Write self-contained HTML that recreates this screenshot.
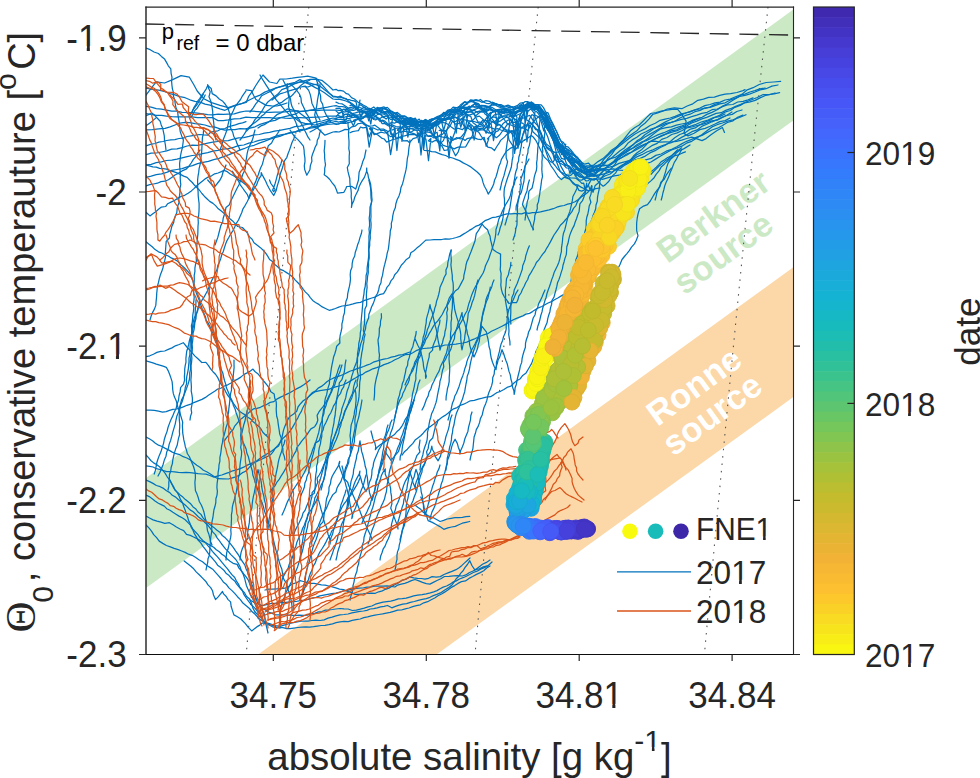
<!DOCTYPE html><html><head><meta charset="utf-8"><style>html,body{margin:0;padding:0;background:#fff;width:980px;height:778px;overflow:hidden}svg{display:block}text{font-family:"Liberation Sans",sans-serif}</style></head><body>
<svg width="980" height="778" viewBox="0 0 980 778">
<defs><clipPath id="ax"><rect x="146.0" y="7.0" width="647.3" height="647.5"/></clipPath></defs>
<rect width="980" height="778" fill="#fff"/>
<g clip-path="url(#ax)">
<polygon points="146,478 793.3,9.5 793.3,120.5 146,588" fill="#cce9c6"/>
<polygon points="258,654.5 793.3,267.3 793.3,397.1 436.5,654.5" fill="#fcd8a8"/>
</g>
<g font-weight="bold" font-size="34.5" text-anchor="middle">
<text transform="translate(716,228) rotate(-36)" fill="#cce9c6"><tspan x="4.8" y="0.5">Berkner</tspan><tspan x="-8.9" y="36.2">source</tspan></text>
<text transform="translate(707,392) rotate(-36)" fill="#fff"><tspan x="-7" y="-0.8">Ronne</tspan><tspan x="-9" y="32.7">source</tspan></text>
</g>
<g fill="none" stroke="#555" stroke-width="1.1" stroke-dasharray="1.5 5.9" clip-path="url(#ax)">
<path d="M308.8,7.0 Q275.0,330.8 246.2,654.5"/>
<path d="M538.2,7.0 Q504.1,330.8 475.0,654.5"/>
<path d="M768.0,7.0 Q733.7,330.8 704.4,654.5"/>
</g>
<path d="M145.5,24 L793.3,35.1" stroke="#262626" stroke-width="1.3" stroke-dasharray="19 10.7" fill="none"/>
<g clip-path="url(#ax)" fill="none" stroke-width="1.25" stroke-linejoin="round" stroke-linecap="round">
<path stroke="#0072bd" d="M146.0,95.0L150.9,88.6L156.2,81.8L164.6,83.0L172.7,79.6L181.0,75.6L189.4,77.2L193.7,84.5L197.2,91.0L200.6,95.0L203.8,98.7L211.6,102.6L220.1,105.4L228.3,107.6L236.4,104.9L246.2,102.5L248.7,96.3L252.5,91.1L255.8,85.5L259.3,80.1L263.0,75.0L269.5,82.0L276.9,83.5L279.8,79.2L286.2,79.0L292.3,78.2L297.4,77.4L302.5,76.8L307.7,76.1L316.1,78.2L320.1,82.5L326.3,89.7L329.6,93.6L333.4,97.0L336.0,96.8L338.2,97.8L341.5,97.5L343.5,98.2L346.6,99.4L349.3,99.7L351.2,100.3L354.2,100.9L356.1,102.0L357.8,110.7L360.0,100.1L358.9,105.2L360.9,104.8L362.9,106.5L365.8,108.1L369.5,108.3L371.6,109.7L374.0,110.1L377.3,107.4L381.4,109.0L384.5,108.0L387.3,107.4L391.4,111.5L393.3,113.0L397.2,113.8L399.7,117.8L401.8,118.5L403.9,119.5L406.5,119.2L410.2,118.4L412.5,119.6L415.7,121.5L419.0,121.1L421.7,123.0L424.8,121.4L426.7,121.7L428.7,122.3L431.0,124.9L434.4,122.5L437.2,122.5L439.8,121.1L443.0,120.3L445.9,118.2L448.4,118.2L452.1,116.4L455.6,112.7L458.0,111.6L461.2,105.7L464.2,102.5L468.1,102.3L471.7,101.2L474.2,100.4L478.3,100.8L480.4,99.4L483.2,102.0L486.8,103.5L489.0,103.7L492.0,102.2L493.9,102.8L497.3,104.5L500.9,104.6L504.1,106.4L508.0,105.1L510.5,106.6L514.0,106.8L517.2,105.7L520.4,103.0L523.3,102.7L525.1,123.0L527.6,103.6L527.1,102.7L531.2,102.3L534.1,104.4L537.5,105.2L539.5,105.8L542.9,110.9L546.3,115.9L550.5,123.3L554.3,131.8L556.7,137.9L559.5,143.3L562.9,148.9L564.7,150.5L567.6,150.9L569.8,154.5L571.9,153.2L573.9,155.4L577.5,157.4L579.6,160.3L582.0,162.5L584.7,164.2L588.6,163.1L590.6,165.5L593.5,165.2L598.0,161.6L602.9,158.6L607.2,154.8L611.1,150.5L615.9,147.2L620.4,143.7L624.3,140.2L628.3,136.8L632.5,133.7L636.9,130.8L640.3,126.8L644.9,123.3L648.9,119.1L652.6,114.5L657.7,112.8L662.6,111.2L667.3,109.0L674.4,107.9L681.8,108.7L687.2,106.0L692.8,103.8L697.8,100.3L703.4,99.1L708.7,97.4L714.4,97.1L719.7,95.4L725.1,94.2L730.6,93.6L736.9,92.5L743.0,90.6L745.0,89.6"/>
<path stroke="#0072bd" d="M146.0,106.3L151.2,107.1L156.2,108.7L161.5,109.1L166.6,110.1L171.7,111.2L176.9,111.2L182.0,112.4L187.2,112.5L192.4,112.7L197.5,113.2L202.6,113.9L207.7,114.7L212.8,114.9L218.0,114.1L223.2,114.4L228.3,114.2L234.3,113.9L240.0,112.1L246.0,111.0L252.0,111.1L258.0,111.6L264.0,112.2L270.0,112.4L275.0,112.1L280.0,112.2L285.0,111.9L290.0,111.2L295.0,110.9L300.0,111.4L305.5,111.1L311.0,110.2L316.5,110.7L322.0,110.2L327.5,110.0L333.0,110.0L336.0,110.0L339.0,110.3L341.2,110.3L343.9,109.2L345.7,109.5L348.1,110.1L349.9,110.1L353.5,110.4L356.6,109.4L358.9,110.3L360.9,117.3L363.8,111.0L361.8,110.7L365.9,111.0L367.9,111.9L371.7,111.8L374.5,112.3L377.5,108.4L381.3,107.7L384.1,106.9L387.1,109.6L390.5,111.0L394.7,113.3L397.3,112.4L401.1,115.5L404.6,115.9L407.9,118.0L410.7,117.6L413.3,118.8L415.3,118.2L417.4,121.5L419.3,121.8L422.9,121.3L425.3,119.5L427.5,121.6L429.5,119.7L433.3,118.8L437.2,116.6L440.6,115.4L443.1,113.6L445.5,112.5L448.0,110.0L450.9,109.4L453.1,107.1L456.0,107.7L458.4,107.7L462.5,108.5L466.6,109.4L469.7,108.5L472.1,110.4L476.2,108.8L478.8,108.0L481.4,109.7L483.2,108.1L486.0,107.6L488.9,106.7L491.9,107.3L494.2,108.8L497.2,110.7L499.0,109.7L501.4,109.1L503.5,109.5L506.2,109.0L508.1,110.0L510.0,110.5L512.5,109.3L514.9,109.1L518.1,107.7L521.1,109.5L524.7,106.9L528.1,106.9L531.6,105.2L535.5,107.3L538.3,110.2L540.9,112.6L543.8,119.2L547.1,112.5L545.0,117.1L546.5,122.8L548.0,117.1L547.2,120.5L550.7,126.8L554.1,131.5L556.0,134.8L559.8,143.4L563.7,146.5L567.0,148.7L570.6,151.2L574.3,155.8L576.5,158.0L579.5,159.7L582.5,164.1L586.3,170.2L590.1,169.3L593.9,171.0L597.2,166.8L601.3,163.2L604.4,158.7L608.3,155.0L612.2,151.2L616.4,147.7L619.7,143.4L623.6,139.7L626.9,135.3L630.3,131.1L634.5,127.7L639.2,125.0L643.0,121.2L646.7,117.4L650.7,113.5L656.1,112.5L661.3,111.2L666.7,110.2L672.1,109.3L677.5,109.2L681.1,113.3L686.1,121.1L685.3,127.5L683.9,133.4L688.0,135.9L694.1,133.2L699.8,129.6L705.2,128.4L710.1,126.3L715.0,124.0L719.8,121.6L725.2,120.6L730.0,118.0"/>
<path stroke="#0072bd" d="M146.0,113.5L151.2,114.3L156.3,115.3L161.5,115.4L166.6,116.2L171.7,116.7L176.8,116.9L182.0,116.8L187.1,116.9L192.3,116.9L197.4,117.7L202.6,117.7L207.7,117.5L212.9,117.7L218.0,120.6L223.2,120.6L228.3,119.9L234.2,118.8L240.1,118.7L246.0,117.1L252.0,117.7L258.0,117.7L264.0,117.6L270.0,117.6L275.0,118.3L280.0,117.5L285.0,118.1L290.0,118.4L295.0,117.6L300.0,117.7L305.5,117.8L311.0,117.3L316.5,117.1L322.0,117.0L327.5,116.0L333.0,116.0L336.0,116.2L338.2,115.3L340.0,116.4L342.5,116.3L345.1,114.3L349.2,114.5L351.3,113.9L355.4,112.8L357.7,112.1L360.4,111.7L364.2,111.3L367.9,112.3L370.8,124.2L372.7,111.5L370.8,112.0L372.7,110.1L375.6,112.0L378.3,110.4L382.3,110.2L384.6,112.3L387.3,111.4L391.2,113.6L393.1,117.2L395.9,116.9L399.6,119.2L402.0,141.4L405.1,118.8L403.3,123.2L405.2,121.3L407.9,137.2L411.3,119.7L407.0,122.5L409.0,121.7L413.0,121.0L415.4,122.8L419.0,121.6L423.0,122.6L425.6,119.7L428.0,122.2L432.1,118.8L435.4,118.3L437.8,117.9L441.4,114.7L443.9,113.6L446.4,114.2L448.2,111.1L451.8,109.8L455.8,108.2L459.1,106.5L463.2,107.0L465.1,105.0L467.4,102.3L470.4,101.4L474.4,102.3L478.5,103.6L481.3,107.0L483.7,109.7L486.5,111.2L489.0,128.3L490.9,112.2L489.5,113.5L493.5,111.9L495.8,111.4L499.5,112.1L503.0,111.2L506.8,109.1L510.5,108.9L513.7,110.8L516.3,107.9L518.9,107.8L521.6,105.7L525.2,106.9L527.2,105.5L529.5,105.3L533.1,106.3L535.5,104.8L537.5,108.1L539.3,107.3L542.5,110.9L545.0,115.9L549.2,124.9L553.1,137.4L557.3,145.1L559.7,150.8L561.7,152.7L563.8,156.3L566.8,158.0L570.3,159.9L573.1,160.9L575.5,161.7L578.3,164.2L581.6,167.2L585.0,169.4L588.6,167.2L592.4,165.8L595.8,166.1L600.9,164.1L605.7,161.4L610.5,158.7L615.8,157.1L620.4,153.9L625.8,152.5L630.4,149.5L635.1,147.0L639.7,144.5L643.8,141.2L648.2,138.3L652.3,135.0L656.4,131.7L660.9,128.8L666.2,127.6L671.4,126.8L676.5,125.2L681.6,124.0L686.8,123.1L691.6,120.7L696.8,118.8L702.1,117.3L706.9,114.4L711.9,112.4L717.2,109.8L722.2,106.4L727.5,103.7L732.5,100.5L737.5,97.5L742.2,94.1L746.7,90.2L753.1,87.7L759.2,84.5L766.2,82.5L773.6,82.0L780.6,81.4"/>
<path stroke="#0072bd" d="M146.0,154.7L151.1,153.2L156.4,153.0L161.5,152.0L166.7,150.9L171.7,149.2L177.0,148.9L182.1,147.7L187.1,146.0L192.3,145.2L197.5,145.4L202.6,144.3L207.7,143.2L212.8,142.2L218.0,141.5L223.1,140.8L228.3,140.6L233.4,139.1L238.5,137.9L243.8,137.6L249.0,136.4L254.0,134.8L259.3,134.5L264.4,133.1L269.6,132.3L274.6,131.2L279.7,130.4L284.8,129.3L289.9,128.3L294.9,126.7L300.0,126.2L305.5,124.7L311.1,123.6L316.5,121.9L322.1,121.0L327.5,119.4L333.0,118.0L336.0,118.6L338.5,117.2L340.4,117.7L344.4,117.2L348.1,116.4L351.6,116.4L353.4,114.9L357.2,115.1L360.8,114.6L363.7,112.8L367.3,112.0L370.2,110.6L372.5,109.8L374.6,111.4L376.9,109.8L378.8,109.4L381.4,110.0L385.0,108.0L388.5,111.2L392.3,111.7L395.8,113.2L398.3,115.6L401.4,118.1L404.2,118.4L407.9,119.1L411.0,122.4L413.4,122.5L416.8,126.1L420.9,124.7L423.2,126.8L427.1,123.6L429.0,124.1L431.4,121.0L433.8,119.5L437.3,118.3L441.4,115.8L445.0,116.3L447.6,112.5L451.5,110.8L454.1,112.7L456.5,111.2L460.4,108.3L463.7,107.2L467.2,107.3L470.6,106.6L474.8,107.2L477.7,107.2L481.5,105.4L485.0,105.6L488.8,106.6L491.7,105.1L495.2,104.9L498.4,106.6L500.9,107.6L503.2,108.5L506.5,108.3L508.5,107.6L512.5,107.0L514.6,109.2L516.5,108.7L518.6,107.6L522.6,106.9L525.2,106.2L527.4,104.0L529.2,105.8L531.1,105.8L534.6,106.7L537.9,109.4L541.4,116.9L545.0,119.9L546.9,123.4L550.1,128.1L552.8,133.1L556.6,138.5L560.3,145.0L564.3,149.8L566.2,150.9L570.1,155.6L574.1,159.5L578.2,161.6L580.2,164.8L582.5,167.5L584.6,170.3L586.5,175.2L590.3,173.8L594.1,174.6L598.5,171.3L603.6,169.2L608.3,166.3L612.9,163.2L617.4,160.1L622.2,157.3L626.6,154.1L631.8,152.0L636.0,148.4L640.9,145.9L646.1,143.7L651.2,141.3L656.1,138.5L661.1,135.9L666.3,133.8L671.2,130.9L676.7,129.8L681.5,127.1L686.9,125.8L691.7,123.0L696.8,121.1L701.9,118.9L706.7,117.4L711.4,115.4L716.1,113.4L721.2,112.7L725.7,110.4L730.5,108.7L735.6,106.4L740.8,104.4L745.9,102.0L751.1,100.0L757.2,97.5L763.2,94.5L768.8,94.6L774.2,93.9L779.6,92.7"/>
<path stroke="#0072bd" d="M146.0,165.0L151.2,164.3L156.2,162.6L161.4,161.8L166.5,160.5L171.8,160.2L177.0,159.1L182.1,157.9L187.2,156.7L192.3,155.5L197.5,155.0L202.6,153.6L207.8,152.7L212.8,151.2L218.0,150.3L223.1,149.1L228.3,148.7L233.5,147.3L238.5,145.6L243.8,145.0L248.8,143.1L254.0,142.0L259.1,140.4L264.3,139.3L269.6,138.5L274.6,136.7L279.7,135.1L284.9,134.1L290.0,132.6L295.3,131.8L300.2,129.6L305.9,129.1L311.1,126.9L316.7,126.4L322.1,124.8L327.5,123.1L333.0,122.0L336.0,121.4L338.4,122.1L340.5,121.7L343.5,121.1L345.4,122.2L348.3,120.3L350.5,119.9L353.4,126.0L355.1,121.8L353.5,120.3L356.5,119.0L359.6,118.1L363.4,118.1L365.2,116.5L369.1,116.5L372.0,115.3L375.1,112.1L378.5,113.9L382.3,113.9L385.0,114.3L387.9,112.7L392.0,117.2L393.9,119.5L397.3,122.1L400.6,123.8L402.5,124.1L405.7,126.1L409.2,126.7L413.2,125.8L415.8,128.3L420.0,128.1L423.0,127.0L425.9,127.2L429.9,124.8L431.8,126.1L435.3,123.8L438.6,123.0L441.2,119.7L443.6,130.5L446.2,121.0L445.1,119.4L447.8,117.2L450.7,115.1L453.8,111.2L457.4,111.6L459.7,111.3L462.6,107.8L465.4,109.3L468.5,108.3L472.3,105.5L474.8,107.0L478.6,106.3L481.3,108.8L484.4,108.6L486.8,110.3L489.8,109.0L494.0,111.6L497.3,110.6L501.0,110.9L503.6,109.3L506.2,110.6L508.7,110.0L511.9,109.9L515.2,108.4L518.9,108.9L520.8,109.3L524.4,106.6L528.3,105.9L531.4,105.1L533.3,109.5L535.8,109.5L537.6,110.1L539.9,113.0L543.9,121.4L547.2,128.9L550.5,133.7L554.2,143.0L558.2,151.1L561.5,158.4L564.8,159.3L568.1,157.2L571.5,159.1L574.8,161.6L578.2,161.6L580.5,164.8L583.9,166.6L586.8,168.7L590.5,172.2L592.5,169.9L594.7,171.0L599.3,168.0L603.4,164.6L606.9,160.3L611.7,157.7L615.9,154.2L620.0,150.7L624.5,147.7L627.8,143.3L632.1,139.9L636.8,137.2L641.1,134.0L646.0,131.7L650.9,129.1L656.1,127.5L661.3,125.6L666.2,123.4L671.3,122.3L676.4,120.9L681.5,119.3L686.7,118.4L691.7,116.7L696.8,115.1L701.8,113.3L707.2,112.3L712.0,109.7L717.4,109.0L722.3,106.6L727.3,104.8L732.8,104.5L737.7,102.0L743.1,101.4L748.1,99.8L753.0,97.8"/>
<path stroke="#0072bd" d="M146.0,177.3L151.2,176.1L156.3,174.6L161.6,173.9L166.6,172.3L171.6,170.4L176.9,169.5L182.1,168.6L187.2,166.8L192.5,165.7L197.6,163.6L203.0,162.4L208.4,161.4L213.7,159.7L219.0,158.3L224.1,156.4L229.1,154.7L234.1,152.7L238.9,150.4L244.0,148.7L248.9,146.5L254.2,145.3L259.2,143.1L264.3,141.3L269.3,139.3L274.5,137.6L279.8,136.4L284.6,134.5L289.7,133.1L294.8,131.8L299.9,130.8L305.0,129.7L310.0,128.1L315.8,127.3L321.4,125.6L327.2,124.5L333.0,124.0L336.0,123.8L338.5,124.0L340.9,122.9L343.2,123.4L345.9,123.3L350.0,122.1L354.2,121.4L358.3,118.9L360.3,119.1L362.8,118.3L366.7,113.9L368.7,114.4L372.2,112.7L374.7,110.6L378.9,109.2L380.7,112.5L384.4,111.7L387.1,111.9L389.2,112.2L391.0,113.9L394.8,116.5L397.9,119.4L400.1,121.2L403.0,124.4L406.9,123.5L409.3,123.4L412.4,126.7L414.6,124.9L416.8,126.2L420.5,125.0L424.0,125.2L426.2,125.0L428.2,124.1L430.2,126.2L433.5,124.6L436.5,122.2L438.9,122.0L441.2,121.8L444.5,119.9L448.0,118.7L451.8,118.1L455.0,116.8L457.2,118.5L459.2,115.6L462.8,112.0L465.5,109.4L469.1,106.2L471.0,106.9L474.7,104.0L477.3,106.9L481.2,108.5L485.0,113.9L488.0,116.0L489.9,120.7L493.8,122.2L496.8,122.2L500.7,120.8L503.1,119.1L505.4,117.6L509.2,116.9L511.8,115.5L514.5,135.2L517.0,117.3L514.0,112.9L516.7,112.1L520.0,109.2L521.8,107.0L524.8,106.3L527.7,104.3L530.7,103.8L532.8,106.0L536.3,106.5L540.1,108.1L544.0,113.3L546.5,118.5L550.0,127.4L552.8,134.0L556.4,142.8L558.3,145.8L562.2,150.5L566.3,156.7L569.3,161.1L572.3,163.1L575.4,165.8L578.5,168.5L580.3,168.8L584.4,171.5L586.8,173.1L589.0,170.3L591.1,170.4L593.5,170.2L597.2,170.8L602.7,168.9L608.2,167.4L613.8,166.1L619.0,163.4L624.6,161.8L630.2,160.4L633.5,156.0L637.4,152.5L641.9,149.4L645.5,145.6L649.0,141.6L654.6,141.1L660.2,142.2L665.8,141.9L671.4,142.0L676.6,141.3L681.7,140.1L686.7,138.5L691.8,137.1L697.0,138.8L702.0,140.6L706.1,138.6L711.3,134.5L716.7,130.7L722.4,127.5L724.5,132.4"/>
<path stroke="#0072bd" d="M260.0,75.0L263.0,80.2L266.3,85.3L269.6,90.3L273.2,95.1L276.4,100.2L280.3,104.7L284.9,110.1L289.9,115.1L295.1,118.3L300.0,122.1L304.9,123.4L310.0,124.0L315.0,125.1L320.9,123.1L327.0,121.5L333.0,120.0L336.0,119.7L338.6,119.4L342.1,119.4L344.7,119.9L346.9,118.5L349.4,118.3L351.4,117.6L355.4,117.1L358.6,116.9L361.2,116.9L364.1,116.9L366.8,116.6L368.8,117.3L372.7,118.4L375.9,119.0L380.0,118.4L382.9,116.5L386.1,119.0L388.5,117.1L390.5,119.4L394.5,119.3L398.3,122.0L400.9,122.9L404.9,121.3L408.6,122.9L411.1,124.9L414.4,123.3L418.5,125.2L421.5,125.9L425.6,126.2L427.9,124.8L430.7,125.3L434.2,123.4L436.5,120.6L439.1,118.6L443.0,118.8L445.9,116.1L449.6,114.6L452.0,112.3L454.2,112.0L456.9,110.9L459.1,110.2L463.3,110.8L465.8,108.8L468.9,109.6L471.0,110.4L474.1,114.4L476.8,119.7L479.6,124.5L481.5,124.7L483.6,121.9L487.4,117.0L490.1,114.5L492.4,111.8L494.7,110.9L497.2,111.4L499.5,113.5L501.4,112.3L504.8,113.9L507.4,114.2L509.6,115.3L513.1,117.4L515.1,114.8L517.6,112.3L521.4,109.6L523.5,107.0L526.4,104.8L530.2,105.5L533.9,108.3L536.1,107.9L538.7,109.7L542.3,118.7L545.0,123.1L549.1,132.1L551.4,137.0L555.4,143.6L558.5,148.4L560.8,149.8L563.7,152.9L565.8,155.8L569.3,160.6L571.7,161.0L575.7,166.9L578.9,169.7L581.6,172.6L584.0,172.9L587.2,173.3L589.5,171.8L593.4,171.0L595.5,172.8L598.6,169.0L601.7,168.9L607.5,169.5L613.4,168.8L619.1,170.2L625.1,170.5L630.3,168.8L635.4,166.7L640.5,164.9L645.9,163.8L651.0,162.0L656.0,158.9L661.1,155.7L666.3,152.8L671.5,150.0L676.7,148.2L681.8,146.2L686.5,143.2L691.7,141.3L696.9,138.0L702.1,134.5L707.0,130.7L712.0,126.9L717.1,124.7L722.4,123.0L727.6,121.2L732.9,119.8L739.5,117.5L746.0,114.7"/>
<path stroke="#0072bd" d="M240.0,140.0L243.1,136.0L245.7,131.8L249.3,128.2L252.3,124.2L254.8,119.9L258.5,115.6L261.8,111.2L264.6,106.4L267.9,101.9L272.7,98.0L277.6,94.3L281.8,89.7L286.7,87.8L291.4,85.4L296.0,83.0L303.0,81.1L310.0,79.4L316.0,79.2L321.8,80.3L327.6,84.9L333.0,90.0L336.0,89.3L337.9,90.6L340.1,90.3L343.5,91.1L346.4,93.7L348.4,94.1L351.8,97.9L354.5,99.0L357.7,102.0L360.5,103.4L363.6,105.3L366.7,106.9L369.5,109.4L371.6,111.4L373.8,116.1L377.7,117.4L380.8,120.8L382.9,121.2L386.8,124.0L389.2,124.9L391.2,122.4L394.3,123.2L396.7,122.1L399.7,122.2L402.8,121.6L405.1,123.1L408.3,124.0L410.4,123.3L413.4,123.9L416.6,123.2L418.6,124.7L421.4,124.9L423.4,124.3L426.2,125.6L430.1,131.3L433.2,136.0L436.7,138.0L440.4,134.8L442.4,134.4L446.6,130.0L450.1,126.1L452.2,121.6L456.0,121.4L458.7,118.5L460.8,127.4L463.7,117.4L460.9,119.1L465.0,119.9L468.2,120.6L471.8,121.3L474.0,121.5L477.6,122.7L479.6,122.0L481.9,122.8L484.6,126.4L486.5,127.7L489.7,126.8L492.0,128.2L494.5,129.2L498.0,128.7L500.8,130.0L504.8,131.2L508.1,132.2L512.0,130.7L514.6,153.4L518.1,129.0L515.1,126.7L519.1,117.7L523.0,109.2L525.2,108.8L528.8,106.7L531.4,105.7L535.1,107.6L538.5,109.8L542.3,116.5L544.4,120.9L547.1,126.6L550.6,133.6L554.7,140.0L558.2,146.5L560.1,148.2L561.6,154.5L563.1,148.2L563.4,152.8L565.4,153.6L568.5,156.4L572.3,160.4L574.3,163.4L578.4,168.4L581.8,170.6L584.2,173.6L586.5,174.5L589.3,176.9L593.1,174.6L596.3,176.1L598.4,177.8L600.3,178.0L602.3,179.4L608.3,177.6L614.3,175.8L620.6,174.8L625.2,170.8L630.8,168.4L635.4,164.6L640.9,162.2L645.8,159.8L651.2,158.4L655.9,155.4L661.2,154.0L666.2,151.2L671.7,149.3L676.8,146.8L681.7,143.9L686.6,141.3L691.7,139.3L696.8,137.2L702.0,135.4L706.9,132.6L712.0,130.0L717.5,128.2L722.5,125.5L727.4,122.5L733.0,120.8L737.6,117.3L742.9,115.1"/>
<path stroke="#0072bd" d="M250.0,112.0L253.1,108.1L255.8,103.8L259.0,100.0L261.7,95.7L266.6,93.3L271.4,90.9L276.0,87.9L283.0,86.2L289.9,83.6L295.1,82.3L300.0,79.6L304.8,82.4L309.8,84.4L314.8,87.4L320.0,90.0L324.5,92.8L328.8,95.9L333.0,99.0L336.0,99.3L339.9,99.3L342.1,99.9L346.0,101.0L350.2,103.0L352.7,105.9L354.5,106.8L356.6,109.3L360.7,111.7L362.6,111.3L366.6,113.7L368.7,113.2L372.3,115.9L374.3,114.1L376.5,117.5L380.0,119.2L382.0,123.6L384.6,123.5L388.6,126.0L392.1,124.9L396.0,126.5L400.2,126.9L402.1,127.3L404.4,126.7L408.1,129.2L411.6,128.4L413.5,128.2L416.5,127.5L418.8,126.0L421.7,127.7L423.7,126.0L425.6,126.9L429.8,128.2L432.3,133.6L436.2,137.4L438.3,142.1L441.3,142.5L443.4,140.6L446.2,132.5L448.5,125.1L451.9,117.8L454.1,113.0L457.6,112.1L460.6,112.1L462.7,113.9L465.1,130.6L467.6,115.3L465.4,114.6L468.3,122.4L472.4,125.7L475.0,129.0L477.3,129.2L481.4,128.1L485.4,131.1L488.9,133.1L491.4,132.4L493.6,134.7L496.0,131.6L498.0,130.8L499.9,128.1L502.9,123.8L505.7,121.6L508.8,119.8L511.5,120.3L513.3,118.5L516.8,119.8L518.8,143.6L520.8,119.1L520.1,118.2L523.2,118.2L526.4,116.5L529.8,115.4L534.0,121.8L537.9,125.9L541.4,133.6L544.2,142.0L546.7,148.0L549.5,150.2L553.7,152.0L556.4,152.5L559.1,151.6L561.9,152.9L564.0,154.2L568.2,160.6L570.1,163.2L573.3,168.1L577.3,173.9L579.7,176.6L583.0,177.7L585.7,178.1L588.1,178.3L590.4,178.7L592.4,179.9L596.3,179.2L600.0,179.1L604.8,176.0L610.2,174.0L614.7,170.3L620.3,168.5L624.8,165.1L629.8,162.5L634.7,160.0L640.2,158.4L645.3,156.1L649.9,152.9L655.1,150.7L659.8,147.7L665.3,145.2L670.1,141.7L674.7,137.8L679.7,134.5L685.1,132.7L689.7,129.4L695.2,127.9L699.9,124.7L704.8,122.2L710.1,120.1L714.9,117.3L720.0,115.1L724.8,112.1L730.3,110.5L734.9,107.3L740.2,105.4L744.8,102.8L750.1,101.9L755.2,100.4L760.0,97.9L764.8,95.7L769.9,94.5L775.0,93.0"/>
<path stroke="#0072bd" d="M320.0,84.0L319.5,89.4L318.5,94.6L317.5,99.9L316.9,105.0L315.8,110.0L314.7,115.0L316.6,121.5L317.6,128.2L324.9,135.2L333.0,132.0L336.0,131.6L339.0,132.0L343.0,130.3L345.0,129.4L348.0,129.7L351.9,126.8L355.1,126.2L358.2,123.6L360.2,123.4L362.4,122.9L364.8,124.9L368.8,126.0L372.6,125.9L374.9,125.2L379.0,128.2L380.8,130.5L384.1,130.3L388.2,135.0L390.8,136.7L394.9,134.8L398.3,132.5L400.2,130.6L402.8,126.0L405.7,124.5L408.0,124.1L411.6,125.4L413.9,124.1L417.5,128.7L420.1,131.4L422.0,135.0L423.6,149.8L425.3,136.2L425.2,135.6L427.2,136.0L430.3,135.7L434.0,138.0L437.2,136.3L440.2,136.3L442.0,136.9L445.1,137.6L447.1,137.3L449.0,158.1L451.0,139.2L450.5,136.5L452.6,138.9L455.8,139.2L458.4,138.0L461.1,137.1L464.5,132.8L466.7,128.0L468.9,122.3L473.0,120.1L475.6,117.2L479.4,116.1L483.3,119.6L486.2,123.8L488.4,129.8L490.4,133.3L494.3,136.1L496.4,137.7L499.4,135.3L502.5,131.0L504.6,128.3L507.5,124.2L509.7,123.4L512.8,122.2L515.8,122.7L518.5,125.6L520.7,128.2L523.5,127.9L525.8,129.1L527.9,130.7L530.3,125.6L534.2,120.9L537.2,117.9L541.1,115.6L542.9,117.1L547.0,123.6L550.0,131.6L553.7,141.9L556.8,154.7L560.3,165.1L562.6,169.4L566.2,175.8L568.4,175.0L570.8,175.4L572.7,173.3L575.5,172.7L578.5,172.3L581.0,174.2L584.9,178.5L586.9,176.9L590.1,175.9L592.5,176.2L595.7,175.1L599.4,174.8L603.3,170.6L607.4,166.6L612.2,163.3L615.8,158.9L620.3,155.4L624.1,152.2L628.2,149.3L631.8,145.8L635.7,142.6L640.2,140.3L645.0,137.0L650.0,134.1L655.1,131.2L660.2,128.3L664.9,125.2L669.9,122.8L675.3,121.0L680.0,118.0L684.9,115.7L690.1,114.2L694.9,111.7L700.1,110.4L704.8,107.9L710.1,107.4L715.0,105.6L719.9,103.8L725.2,102.8L729.9,100.2L734.9,98.4L739.8,96.4L745.0,95.3L750.1,93.8L755.1,92.0L760.0,89.9L766.1,88.7L771.9,86.1L778.0,85.0"/>
<path stroke="#0072bd" d="M146.0,130.0L152.4,129.6L158.7,128.9L165.1,128.4L170.1,126.8L175.0,125.0L179.9,123.1L185.0,122.3L190.0,122.6L195.0,123.6L200.0,124.1L205.0,125.0L209.9,126.7L215.1,127.2L220.0,128.8L225.0,130.1L230.0,129.6L235.0,129.6L240.0,128.7L245.0,128.8L250.0,128.2L255.1,126.8L259.9,124.4L264.9,122.9L269.9,121.4L275.1,120.4L279.9,117.9L284.9,116.6L290.1,115.4L295.1,114.1L299.9,111.7L305.5,110.9L311.0,110.2L316.5,109.2L322.0,108.2L327.5,107.2L333.0,106.0L336.0,105.7L338.7,106.5L342.5,106.6L345.1,107.2L347.4,109.4L351.3,112.7L354.3,114.9L357.4,115.8L360.8,120.9L364.8,123.6L366.9,127.7L369.1,136.9L372.4,129.0L369.5,128.7L371.4,130.5L374.2,134.7L377.2,133.7L381.1,132.1L384.5,133.0L387.7,132.3L390.6,154.7L394.0,134.2L390.4,133.9L393.6,135.2L396.1,138.2L399.9,137.4L403.6,140.9L407.4,140.7L409.6,142.7L413.0,138.7L416.6,137.7L419.6,133.8L423.5,133.0L427.5,131.8L431.1,132.8L434.9,137.1L438.2,142.7L442.1,146.3L444.2,150.5L447.7,149.9L451.2,142.0L454.5,133.0L457.0,124.5L458.9,117.5L462.2,114.8L465.9,113.4L468.4,115.6L470.7,116.3L473.0,122.8L475.1,124.2L478.5,126.9L482.6,125.6L486.1,133.3L489.2,123.8L486.4,120.8L489.0,120.4L492.5,116.7L494.5,114.8L498.3,113.9L500.9,114.6L502.7,117.4L506.0,122.0L508.1,124.7L510.6,124.8L512.5,125.7L515.4,127.0L518.0,148.3L521.1,127.0L518.5,126.9L522.3,127.4L524.2,125.5L527.9,124.7L530.0,122.7L532.3,124.6L535.7,129.7L538.3,129.6L540.9,134.0L544.0,139.4L546.3,144.1L550.1,146.9L552.4,151.1L556.2,153.3L559.9,159.2L563.0,161.5L564.9,165.6L568.5,165.5L570.4,167.0L573.4,171.0L576.2,172.2L578.2,173.8L581.5,176.3L585.0,177.4L588.2,177.1L591.0,173.6L594.0,175.5L597.9,171.6L600.7,166.7L605.0,163.1L607.9,158.4L611.7,154.4L614.8,149.8L619.8,145.8L624.9,141.8L629.9,137.8L634.7,134.2L640.0,131.3L645.3,128.6L650.1,125.5L655.3,123.2L660.1,120.3L665.1,119.1L670.2,118.0L675.1,116.3L679.9,114.4L684.9,113.0L690.0,111.9L694.8,110.0L699.9,109.0L705.2,108.5L710.2,106.9L714.9,104.4L720.0,103.0"/>
<path stroke="#0072bd" d="M146.0,88.0L152.3,89.4L158.8,90.2L165.1,91.7L169.9,93.7L175.0,94.9L179.9,96.7L185.1,97.7L189.9,99.8L194.9,101.3L200.1,102.1L205.0,104.1L210.1,105.2L214.9,107.2L219.9,108.8L225.0,110.3L229.9,107.8L234.8,105.6L240.1,104.2L245.0,102.1L249.9,99.7L254.9,97.2L260.0,95.1L264.8,92.1L270.0,90.1L274.9,88.3L279.9,86.8L285.0,85.4L290.0,84.0L295.0,83.6L299.9,82.2L305.0,82.2L310.1,83.1L315.1,84.5L319.9,86.1L324.2,89.5L328.6,92.8L333.0,96.0L336.0,96.6L338.4,96.9L340.3,96.1L343.7,98.2L346.0,98.5L348.5,101.2L352.6,103.9L355.9,107.2L359.1,110.6L362.5,111.4L365.8,112.7L369.2,115.2L371.8,117.2L373.7,119.5L375.7,119.9L377.5,118.6L380.2,121.6L382.3,120.1L384.4,120.8L387.4,123.4L391.5,126.1L394.9,127.5L396.9,150.5L399.4,127.5L397.4,130.2L401.0,132.4L403.3,131.1L405.3,131.4L407.8,131.9L410.6,132.6L414.1,130.0L416.9,130.0L418.8,142.7L421.9,128.0L420.5,129.0L422.5,128.3L426.6,128.8L429.2,126.8L433.0,128.3L434.8,124.7L438.6,124.6L441.0,122.3L444.8,122.8L448.6,124.6L452.0,127.6L454.4,129.2L456.3,128.3L458.5,128.4L462.5,129.6L464.7,127.1L468.0,128.2L471.3,130.2L474.6,129.5L476.9,130.9L479.0,132.6L481.1,136.0L485.2,141.9L487.9,147.2L491.3,147.8L494.5,150.5L496.8,146.5L498.8,143.7L500.6,140.4L504.4,137.1L506.6,134.6L510.7,132.1L513.3,130.6L516.2,145.1L519.1,131.2L516.9,124.3L519.0,121.1L522.7,114.6L525.1,110.4L527.8,111.2L530.8,108.9L532.9,111.5L535.3,115.3L539.0,117.0L541.5,122.5L543.8,131.0L546.1,120.8L544.2,128.9L547.8,137.1L550.2,144.7L552.4,150.6L554.8,157.3L557.5,164.3L560.2,171.5L563.5,173.5L566.4,174.5L570.3,177.9L572.2,178.0L575.6,178.1L579.4,180.9L581.8,183.4L583.7,183.2L585.2,189.9L586.7,183.2L586.5,187.1L588.6,185.7L590.1,189.9L591.6,185.7L591.5,187.8L593.0,192.4L594.5,187.8L595.0,185.8L599.4,182.0L602.2,176.8L606.1,172.6L610.8,169.0L614.7,164.7L617.7,159.6L622.4,157.3L627.0,155.0L631.4,152.3L635.9,149.9L640.5,147.5L644.8,144.7L649.2,142.0L653.7,139.5L659.8,136.9L665.8,134.1L672.1,132.2L678.1,130.3L683.9,127.7L690.1,126.4L696.1,124.3L701.9,121.8L708.0,120.0L713.5,117.6L719.5,116.6L725.0,114.0"/>
<path stroke="#0072bd" d="M350.0,132.8L352.5,131.6L355.9,131.0L358.4,130.6L360.5,127.0L362.9,127.9L366.5,127.4L369.2,147.1L372.5,129.2L370.3,128.5L373.8,133.0L377.9,135.0L381.6,138.1L384.2,139.0L386.7,142.1L390.3,140.7L392.2,139.7L395.5,139.0L397.5,138.3L399.4,137.4L402.4,136.1L404.6,135.8L408.6,134.6L412.5,134.7L415.5,134.3L417.7,136.4L419.8,134.8L422.8,137.9L425.9,139.1L428.5,160.7L430.9,138.4L428.5,140.8L432.1,142.1L435.1,140.5L438.8,140.7L440.9,142.4L442.8,145.2L445.6,146.2L448.5,147.0L450.9,147.4L454.3,148.9L456.7,147.6L459.2,146.8L462.2,147.2L465.7,146.8L469.3,140.4L472.0,136.6L474.9,129.0L478.9,125.0L483.0,120.0L486.2,120.7L488.3,122.4L491.2,124.0L493.5,140.6L496.5,123.7L494.5,122.3L497.0,125.4L498.9,124.3L503.0,127.5L507.0,130.9L509.1,140.2L512.0,144.3L515.3,149.7L517.8,146.9L519.8,143.3L523.4,133.8L527.1,124.8L529.9,118.2L531.9,114.7L534.7,115.8L536.7,122.1L540.8,133.7L542.7,143.4L545.2,149.6L548.9,160.1L551.0,162.1L553.0,162.1L555.0,159.0L557.2,161.3L560.3,163.3L564.1,165.3L566.3,167.9L568.5,168.1L570.0,173.5L571.5,168.1L572.1,173.0L575.0,173.4L577.6,175.5L579.7,177.0L582.0,177.1L586.2,181.0L588.3,180.6L590.7,178.7L594.3,180.1L598.5,176.7L601.9,172.5L605.4,168.4L609.2,164.6L613.8,161.6L617.5,157.7L620.8,153.4L625.0,150.0L629.1,147.2L633.4,144.6L636.9,140.8L641.2,138.3L644.8,134.7L649.8,131.4L654.7,128.1L659.9,125.1L665.1,122.1L669.9,119.7L674.8,117.6L679.9,115.6L684.8,113.5L689.8,111.6L694.9,109.8L700.0,108.0L704.9,105.6L710.0,104.5L715.0,102.9L720.2,102.1L725.0,100.0L730.2,99.1L735.0,97.0L739.9,95.1L745.0,94.1L749.9,92.0L754.9,90.6L759.8,88.9L765.0,88.0"/>
<path stroke="#0072bd" d="M420.0,131.2L422.8,132.9L425.4,133.2L428.2,136.4L430.9,136.5L434.3,133.8L437.1,132.2L439.8,150.9L441.6,130.8L439.2,130.4L443.1,130.2L446.3,131.3L448.1,139.7L451.9,148.2L455.5,155.8L458.1,152.1L461.5,141.8L465.5,132.2L468.2,124.9L471.1,126.1L474.2,140.0L476.8,125.9L473.6,127.3L476.7,127.0L480.1,130.0L483.7,129.8L487.8,125.7L489.9,124.2L492.6,121.6L496.4,124.7L500.1,124.8L503.3,128.4L506.8,130.2L509.4,130.2L513.4,135.7L516.6,139.8L519.3,141.8L521.6,142.6L523.6,140.6L527.6,138.3L531.3,135.5L533.2,137.0L535.8,140.3L538.7,146.0L541.7,152.3L544.4,157.1L548.3,160.9L551.0,165.8L554.0,170.0L558.1,176.5L561.4,179.6L564.3,177.2L566.9,178.2L569.7,179.2L572.9,183.5L576.6,186.0L579.0,190.4L581.7,191.1L584.5,189.9L587.1,187.1L591.1,179.9L594.2,178.7L596.7,179.3L599.3,182.9L603.1,186.2L605.2,184.9L608.9,181.2L611.6,176.6L615.5,173.1L618.2,168.6L622.4,165.5L627.0,161.8L632.2,158.8L636.7,154.8L642.1,152.2L646.9,148.9L651.8,145.7L657.2,143.4L661.7,139.4L667.0,137.5L671.7,134.5L677.2,132.9L682.2,130.5L686.8,127.9L692.0,127.0L697.0,125.5L702.1,124.3L707.1,122.8L711.9,120.8L717.2,120.1L721.9,117.6L726.8,115.5L732.2,114.4L736.8,111.5L742.0,110.0"/>
<path stroke="#0072bd" d="M350.0,105.7L352.4,104.9L354.6,105.5L358.6,110.0L360.9,112.2L364.8,112.6L367.1,114.3L368.7,120.8L371.1,114.4L369.5,112.7L371.5,112.3L373.7,113.7L377.9,112.3L380.4,111.0L384.6,113.3L386.5,111.6L389.3,111.6L392.6,114.0L396.7,116.7L399.0,115.9L401.8,116.8L404.7,119.1L407.3,120.9L409.2,119.8L411.9,118.9L415.3,122.6L418.2,123.3L421.3,120.4L423.6,121.3L426.0,123.5L429.1,122.2L431.1,123.4L433.7,122.5L437.6,120.1L441.6,117.0L445.6,113.6L448.5,114.5L452.6,110.9L455.7,109.9L457.8,108.5L460.7,104.7L464.9,101.6L467.5,102.6L470.1,100.8L472.1,100.4L474.8,102.4L476.9,104.0L481.0,106.2L484.0,106.1L486.5,106.6L489.1,107.8L492.3,109.7L494.5,111.4L498.2,111.4L500.7,111.7L503.6,112.0L507.7,111.8L510.6,111.0L513.3,112.8L517.0,110.9L521.0,109.7L524.5,106.1L527.4,104.9L531.5,102.0L533.8,104.7L537.9,104.7L541.2,104.9L543.5,107.6L545.7,112.0L548.0,112.8L550.5,119.0L554.0,125.9L557.5,133.5L560.7,140.7L563.5,142.6L565.8,146.4L567.8,146.8L570.8,149.9L574.2,154.1L577.8,158.1L580.2,163.0L582.2,166.3L584.7,169.3L586.8,170.4L589.0,170.0L592.2,168.3L595.6,169.5L598.1,168.3L602.2,169.9L607.1,171.1L612.0,172.2L616.7,168.6L621.7,165.4L626.9,162.9L632.1,160.1L636.7,156.9L641.9,154.7L646.8,152.0L652.1,150.2L657.0,147.9L661.9,145.8L667.0,144.0L672.1,142.3L677.2,140.0L682.0,137.1L687.0,134.6L691.9,131.7L697.2,129.9L701.7,126.4L706.8,124.2L711.9,121.8L717.1,119.7L722.1,117.3L727.2,115.0L732.0,112.0"/>
<path stroke="#0072bd" d="M380.0,112.0L382.0,112.3L384.7,113.2L388.0,115.0L390.5,133.0L393.2,113.7L391.8,117.9L396.0,121.1L398.8,121.6L402.4,121.1L404.8,121.1L407.5,118.4L409.3,119.5L412.4,121.1L415.1,119.4L417.8,122.2L420.7,122.2L423.9,123.3L427.9,122.1L431.8,120.5L434.3,118.6L438.0,118.3L440.6,115.9L443.6,115.2L447.1,113.7L450.7,111.3L452.9,111.6L454.9,111.3L457.2,109.5L461.2,112.2L463.1,110.7L465.2,112.3L467.8,112.7L470.6,111.2L474.7,110.4L477.2,112.5L479.4,111.1L481.5,111.1L484.9,109.5L488.4,109.9L491.0,104.9L493.0,103.2L496.4,103.9L498.8,105.3L500.7,106.4L502.9,106.1L504.8,107.3L507.6,106.1L509.8,106.0L513.5,108.1L516.5,108.5L518.6,107.9L521.0,105.2L524.1,105.4L528.2,103.1L532.4,105.9L536.6,106.5L539.3,108.1L541.6,109.5L545.3,115.1L548.8,125.2L550.9,129.3L553.5,133.1L555.6,138.1L557.5,140.3L561.0,147.0L563.3,147.2L566.5,152.8L569.6,155.5L572.0,157.7L574.0,158.2L577.5,160.0L581.4,165.7L583.7,167.4L586.7,165.8L590.3,165.9L594.2,167.4L596.3,165.5L603.2,165.8L609.9,164.8L614.5,161.3L618.9,157.4L623.8,154.1L628.3,150.4L632.8,148.0L636.8,144.7L641.3,142.2L646.3,140.6L652.0,137.7L657.8,134.9L663.9,132.7L669.8,130.1L675.8,127.8L682.0,125.9L688.2,123.7L694.0,120.6L700.0,118.0"/>
<path stroke="#0072bd" d="M400.0,121.4L403.3,124.7L406.9,126.0L410.6,132.9L414.1,133.6L416.9,136.0L419.1,132.5L421.0,155.0L423.0,134.0L422.1,131.2L426.1,131.1L430.1,129.6L432.3,125.5L434.5,135.5L436.6,125.0L435.9,123.0L438.7,119.3L441.0,119.4L445.1,118.6L447.4,118.3L451.5,118.1L454.9,117.5L457.3,117.7L460.4,119.6L464.4,126.7L466.8,128.6L469.5,125.9L471.6,129.6L474.0,128.4L477.3,131.2L481.1,129.3L483.6,127.4L487.4,122.0L491.3,117.6L493.8,116.9L497.5,118.2L499.6,118.3L502.7,116.2L505.9,116.0L509.9,119.2L513.3,124.2L515.5,125.5L519.0,128.1L521.0,121.3L525.1,110.8L528.0,107.6L530.9,107.3L534.7,107.8L538.2,109.9L541.0,115.8L544.9,120.4L547.1,125.4L549.3,127.9L553.2,135.3L555.8,139.0L559.1,147.0L562.0,151.4L564.4,157.7L566.5,163.7L570.0,168.5L573.8,172.5L575.3,176.1L576.8,172.5L576.0,176.6L579.2,179.9L581.5,180.2L584.8,178.1L587.8,174.7L589.8,172.9L594.0,169.6"/>
<path stroke="#0072bd" d="M336.0,102.1L339.0,103.5L342.3,103.9L346.1,106.4L349.2,109.0L352.5,109.0L354.4,107.8L356.9,109.1L361.1,109.7L363.9,106.9L367.1,109.4L369.7,109.5L373.8,107.0L376.9,109.9L381.1,107.9L384.2,108.9L387.6,110.5L390.1,112.4L392.0,111.3L394.1,113.1L396.9,115.4L400.1,116.5L402.4,116.3L406.2,117.2L410.1,119.9L413.5,119.8L416.0,121.2L419.2,119.1L421.1,121.9L424.0,120.5L426.5,120.0L429.7,122.2L433.0,120.0L436.0,117.8L438.0,117.9L441.1,115.4L443.7,112.3L446.4,113.1L448.9,110.6L452.7,109.8L455.2,109.6L457.8,109.6L460.2,109.2L464.2,105.1L467.2,104.2L470.4,99.8L473.7,100.3L476.0,99.7L478.9,100.7L481.8,102.3L485.9,100.6L489.7,101.3L493.4,104.6L495.6,103.8L498.7,104.7L500.8,106.1L504.5,108.5L506.4,109.5L508.8,110.5L511.9,117.2L514.2,109.4L512.3,109.7L514.9,107.8L518.4,106.3L522.4,103.7L525.2,101.6L527.4,101.7L530.8,103.0L533.3,105.8L537.0,106.5L539.2,106.2L542.6,111.0L545.7,113.2L548.5,116.8L552.4,124.3L556.5,131.5L559.3,138.2L562.7,144.1L564.2,150.4L565.7,144.1L565.0,147.9L568.4,150.7L571.5,154.8"/>
<path stroke="#0072bd" d="M336.0,117.1L338.4,113.8L342.1,111.5L345.1,123.3L348.5,112.2L344.9,110.7L348.8,107.9L352.6,107.2L355.9,107.2L358.8,107.0L362.7,108.8L366.0,109.3L369.2,111.3L371.4,109.0L374.9,110.5L377.4,113.0L381.4,115.0L383.3,117.7L385.8,115.8L389.2,117.0L391.4,117.5L394.9,117.3L398.4,120.1L402.0,121.0L404.4,120.2L408.4,121.7L410.6,121.9L413.0,121.2L416.5,123.0L420.4,121.7L423.5,143.6L427.0,121.1L423.9,123.5L427.5,124.5L431.6,124.1L435.3,123.6L438.5,122.2L440.7,120.9L444.4,120.4L448.2,117.6L450.2,114.7L453.1,114.3L456.2,133.1L458.2,114.5L457.0,113.5L461.1,114.5L463.3,112.3L466.1,114.7L470.0,114.9L474.1,113.4L476.6,111.5L479.2,111.4L482.3,112.1L486.0,111.4L488.0,110.7L490.0,109.8L493.9,111.1L495.7,109.8L499.5,109.4L502.9,109.3L506.5,111.0L509.1,109.9L511.0,112.0L513.8,111.8L517.8,112.0L520.9,108.8L522.8,107.7L526.7,107.2L530.5,107.1L533.4,105.5L537.1,107.2L540.0,108.8L543.8,114.8L545.9,116.3L549.8,122.8L552.0,126.9L554.6,134.1L558.5,144.3L560.5,149.4L564.4,154.7L566.9,157.3L570.8,162.9L573.1,162.6L575.9,162.5L579.0,163.2L582.7,163.9"/>
<path stroke="#0072bd" d="M400.0,118.5L403.7,121.5L406.9,122.3L409.6,122.2L412.9,124.8L415.4,124.9L417.3,123.5L420.7,124.3L423.6,123.8L426.9,122.1L429.6,124.5L432.6,123.9L435.7,125.9L438.1,123.6L440.4,122.0L443.7,120.4L446.8,119.6L449.8,118.7L452.4,118.0L455.9,114.0L459.9,113.0L461.9,113.0L465.8,111.8L469.0,111.8L472.6,112.3L475.8,115.8L479.3,112.7L482.6,110.6L485.9,109.4L488.9,106.7L491.8,109.4L495.1,110.8L497.6,125.6L499.5,110.8L498.4,113.0L500.7,112.4L504.8,111.6L507.7,112.4L511.7,112.5L514.3,116.4L517.9,114.8L521.4,113.2L523.9,110.5L527.4,108.2L529.5,106.8L533.1,109.2L536.8,107.4L540.1,108.8L544.0,112.1L546.4,114.8L549.4,122.1L551.7,125.3L555.6,135.1L559.8,145.5L562.6,148.3L564.4,153.1L566.9,158.0L570.9,162.5L573.2,166.2L575.3,165.4L578.1,169.5L580.6,170.5L583.3,172.6L586.5,171.8L590.6,170.4L593.2,168.0"/>
<path stroke="#0072bd" d="M336.0,110.9L339.0,113.5L342.0,111.8L344.1,114.6L347.1,114.0L350.9,116.1L353.0,113.9L356.9,116.8L359.7,121.0L362.1,121.1L364.5,124.1L367.4,125.4L370.8,127.6L373.9,128.2L377.9,130.0L380.9,129.1L383.9,129.2L388.1,131.6L390.4,130.3L393.0,138.6L394.9,129.5L392.3,130.0L394.8,128.5L397.4,128.0L399.5,128.5L402.3,127.7L404.2,130.0L408.2,128.3L411.1,128.6L415.1,129.8L418.5,130.5L422.1,129.9L425.7,130.4L428.2,129.3L431.8,128.3L434.1,126.1L437.2,124.6L440.4,129.0L444.1,132.4L446.3,136.4L448.9,138.5L452.7,140.4L456.4,137.7L460.6,138.8L462.7,138.5L465.0,140.4L467.0,138.7L470.6,137.9L474.1,137.6L477.5,139.1L481.2,139.6L484.2,137.3L486.2,146.3L488.8,138.6L487.4,138.9L491.4,134.6L494.7,129.9L498.1,120.1L501.3,114.0L504.3,112.3L507.9,112.8L511.1,113.0L513.2,116.6L516.0,123.2L518.8,124.5L521.7,122.8L524.8,124.8L527.0,141.8L528.9,124.5L527.5,125.9L530.2,125.4L533.1,132.0L535.7,134.4L539.9,138.3L541.9,140.8L543.7,142.6L547.3,147.4L550.0,149.1L552.9,154.2L554.4,159.5L555.9,154.2L556.1,156.5L558.8,161.4L561.2,161.2L563.0,162.6L566.9,165.5L571.0,168.4L573.4,170.6L576.4,169.3L578.9,170.2L580.9,170.6L584.8,173.5"/>
<path stroke="#0072bd" d="M336.0,108.4L340.0,108.2L343.9,112.1L347.9,111.3L351.6,113.7L354.6,116.6L358.3,117.8L361.5,119.1L363.6,117.2L366.0,115.6L368.0,115.3L371.9,117.4L374.5,117.1L377.3,114.6L380.4,114.2L382.4,116.5L385.9,116.2L389.6,115.0L393.3,116.9L397.3,119.6L399.8,121.4L402.0,122.2L405.6,123.9L409.1,124.7L411.7,124.7L414.4,124.3L416.5,127.0L420.3,129.1L423.2,129.5L427.0,127.5L429.6,125.3L432.2,126.8L435.2,122.0L438.8,121.3L442.7,118.9L445.4,119.1L448.8,118.7L451.6,120.3L455.5,124.1L459.1,123.3L462.2,122.6L464.9,115.7L467.3,110.2L471.3,106.5L475.0,103.2L477.5,105.2L479.5,105.5L481.8,108.2L485.9,112.7L487.8,113.7L491.6,118.3L494.6,121.8L497.8,119.1L500.8,117.1L503.6,116.2L506.8,115.5L508.8,114.4L512.8,112.0L514.8,114.1L517.0,111.7L520.4,111.7L523.7,108.8L527.5,107.4L530.9,107.9L535.0,111.0L536.9,111.9L538.7,114.2L541.1,119.0L544.7,126.4L546.9,128.2L550.0,128.7L553.6,134.4L555.8,135.0L558.9,143.1L562.8,147.3L566.4,153.6L569.2,154.9L570.7,163.2L572.2,154.9L572.1,160.0L574.6,160.9L578.7,164.8L582.4,170.5L585.8,171.1L588.3,172.0L591.9,173.3L594.9,172.8"/>
<path stroke="#0072bd" d="M146.0,48.0L150.2,49.7L154.0,52.0L158.4,53.5L161.4,56.4L164.6,59.1L166.5,62.4L168.3,65.8L170.8,68.9L171.1,73.3L172.0,77.4L171.6,81.3L171.9,85.0L172.4,88.8L173.4,92.3L173.4,96.1L174.7,99.6L175.2,103.4L175.9,107.5L177.6,111.5L178.2,116.6L179.1,121.7L179.6,126.8L180.3,131.9L181.7,135.9L183.4,140.0L182.9,144.0L182.3,148.0L181.3,151.9L180.5,155.9L180.1,159.9L179.6,163.4L179.7,167.0L180.1,170.6L180.4,174.1L180.2,177.6L180.4,181.2L180.8,184.7L180.0,188.2L180.0,191.8L179.6,195.4L178.8,198.8L179.1,202.5L177.8,205.8L177.1,209.2L176.8,212.7L175.3,216.0L174.2,219.3L173.6,222.8L171.8,226.4L170.9,230.3L169.8,234.1L169.4,238.0L166.2,241.4L165.9,245.3L165.6,249.3L165.3,253.2L165.5,257.1L164.7,260.7L163.7,264.4L162.9,268.0L161.7,271.6L160.3,275.1L159.3,278.7L158.5,282.4L157.5,286.0L157.1,289.7L156.7,293.6L156.5,297.6L156.1,301.5L155.8,305.4L154.4,309.1L152.5,312.6L151.1,316.3L150.0,320.0"/>
<path stroke="#0072bd" d="M192.3,111.4L193.7,107.9L195.8,104.7L197.5,101.3L199.9,98.4L201.9,95.2L204.3,91.9L206.4,88.6L207.7,85.6L211.2,88.4L212.2,93.6L216.1,95.9L219.2,99.0L222.8,101.3L225.1,104.0L227.0,106.9L228.6,110.1L229.7,113.6L230.3,117.7L230.9,121.8L230.3,127.3L232.7,132.2L233.7,136.2L235.8,139.9L236.9,143.4L238.6,146.6L240.0,150.0"/>
<path stroke="#0072bd" d="M207.7,84.7L208.6,88.3L210.2,91.8L209.0,96.7L210.8,101.2L211.9,106.2L212.7,111.3L212.8,116.5L213.6,121.6L214.1,126.8L214.1,132.0L215.2,135.9L216.0,140.0"/>
<path stroke="#0072bd" d="M189.2,116.6L191.1,113.3L193.0,109.9L195.3,106.9L197.6,103.8L199.6,100.5L201.5,97.2L203.6,94.0"/>
<path stroke="#0072bd" d="M190.8,117.6L192.8,114.4L194.5,110.9L197.2,108.1L199.2,104.8L201.4,101.7L203.5,98.4L205.2,95.0"/>
<path stroke="#0072bd" d="M246.0,90.9L242.5,95.8L240.5,99.5L237.9,102.8L235.1,106.6L233.3,110.8L230.2,117.1L228.8,121.3L227.8,125.6L226.9,130.0L225.4,134.2L223.1,140.0L221.9,145.1L220.0,150.0"/>
<path stroke="#0072bd" d="M246.0,121.7L242.5,122.8L238.9,123.6L235.4,124.8L231.8,125.8L228.3,126.8L225.0,128.5L221.2,129.0L217.9,130.8L214.4,131.3L210.8,132.0L207.9,135.2L203.6,134.9L199.4,134.5L195.3,135.2L191.2,135.8L187.1,136.5L183.1,138.1L179.0,138.5L174.9,139.6L170.8,139.9L166.7,140.5L162.9,141.5L158.9,142.1L155.1,143.5L150.4,144.3L146.0,146.0"/>
<path stroke="#0072bd" d="M146.0,115.6L152.2,113.1L155.1,115.8L157.6,118.5L160.2,121.3L161.2,124.9L162.7,128.2L163.4,131.7L164.3,135.8L164.5,140.0L165.4,145.0L166.0,150.0"/>
<path stroke="#0072bd" d="M146.0,125.8L151.3,121.9L156.3,117.6"/>
<path stroke="#0072bd" d="M146.0,165.0L149.4,165.8L152.8,166.9L156.3,167.1L159.6,168.4L163.1,168.6L166.6,169.1L169.9,170.7L173.5,171.7L177.0,172.9L180.4,174.4L183.7,176.1L187.1,177.4L189.6,180.0L192.3,182.5L194.6,185.3L197.1,187.9L199.7,190.5L201.9,193.5L204.3,196.2L206.9,198.7L209.7,201.4L213.0,203.4L215.8,205.9L218.3,208.8L221.3,211.1L224.2,213.5L227.2,215.6L229.6,218.4L232.6,220.9L235.1,223.7L237.7,226.5L242.4,227.5L245.0,230.2L247.4,233.2L249.3,236.6L252.1,239.2L254.0,242.7L257.0,245.1L260.1,247.4L263.0,250.0L265.5,252.9L267.7,256.1L269.6,259.5L272.5,261.6L274.8,264.5L277.7,266.7L280.2,269.3L283.6,270.7L286.6,272.6L289.5,274.5L292.7,277.0L295.3,280.1L298.2,283.0L301.0,286.0L303.3,289.3L305.5,292.1L308.2,294.6L310.3,297.6L312.7,300.4L315.5,302.5L318.9,304.4L322.3,306.9L326.0,308.7L329.2,310.3L332.1,309.7L335.4,308.5L338.8,307.1L342.1,306.0L345.7,305.6L349.4,304.8L353.1,303.9L356.7,302.9L360.5,302.4L363.9,300.7L367.8,299.3L371.8,298.0L375.8,296.8L379.4,294.7L383.6,293.6L385.6,290.4L387.1,287.1L389.5,284.3L390.9,280.9L393.3,278.2L394.7,274.8L397.4,271.9L399.4,268.6L401.3,265.2L404.0,262.4L406.4,259.4L409.6,257.2L410.8,252.8L414.0,250.7L416.8,248.1L419.8,245.7L422.6,243.1L425.8,240.1L430.2,240.0L433.9,239.7L437.7,239.5L441.6,239.5L445.3,238.9L449.1,239.1L452.7,238.5L456.3,237.5L459.9,236.4L463.0,234.4L466.2,232.5L469.3,230.4L472.5,228.6L475.5,226.4L479.0,225.1L482.1,223.1L485.0,220.7L488.4,219.4L491.9,217.7L495.8,217.1L499.5,216.1L503.2,214.8L506.9,213.9L510.9,213.8L514.5,213.6L518.1,213.6L521.7,213.8L525.2,212.6L528.9,213.4L532.5,212.7L536.1,212.6L540.5,211.9L544.8,210.9L549.1,209.9L553.3,208.7L556.8,207.2L560.4,206.2L564.1,205.5L567.6,204.1L571.3,203.3L575.0,201.7L578.4,199.6L581.2,197.0L584.3,194.9L587.3,192.7L590.0,190.0"/>
<path stroke="#0072bd" d="M279.7,130.0L277.7,133.3L275.5,136.5L273.3,139.6L271.6,143.1L268.3,145.7L267.3,149.5L265.3,152.8L264.3,156.6L263.4,160.4L262.4,164.2L260.7,167.7L259.4,171.3L258.3,174.7L256.9,178.0L255.8,181.4L254.2,184.6L252.9,187.9L251.7,191.3L249.9,194.5L249.0,197.9L247.2,201.7L245.2,205.3L243.0,208.8L241.7,212.8L240.0,216.4L238.5,220.0L236.3,223.3L234.7,227.0L233.0,230.5L230.8,233.8L228.9,237.3L227.0,240.6L225.6,244.1L224.4,247.8L223.3,251.5L221.7,255.0L220.7,258.7L219.3,262.2L217.8,265.6L217.1,269.4L215.4,272.8L214.1,276.3L212.2,279.6L210.7,283.1L209.2,286.5L207.9,290.1L206.0,293.5L204.2,296.9L202.0,300.2L200.0,303.5L198.4,307.2L197.3,310.7L196.4,314.2L195.4,317.7L194.7,321.2L194.0,324.8L192.9,328.4L192.4,332.3L191.2,336.0L190.4,339.8L190.2,343.6L190.1,347.2L189.9,350.9L189.9,354.6L189.0,358.2L189.0,361.9L188.6,365.5L188.3,369.2L187.6,372.8L186.8,376.4L186.4,380.1L186.6,383.8L185.3,387.3L184.8,391.0L184.0,394.6L183.2,398.2L182.1,401.7L180.6,405.2L179.8,408.8L179.6,412.5L179.2,416.2L179.3,419.9L179.7,423.7L179.7,427.4L179.4,431.1L179.6,434.8L178.5,438.4L177.8,442.0L177.1,445.6L175.6,449.1L174.5,452.6L173.6,456.2L172.8,459.8L172.4,463.6L171.2,467.2L170.7,471.0L169.4,474.7L169.4,478.6L168.8,482.4L168.8,486.3L168.0,490.0"/>
<path stroke="#0072bd" d="M203.6,130.0L203.3,133.9L202.4,137.7L202.2,141.6L202.0,145.5L201.8,149.4L201.6,153.3L201.0,157.2L200.7,161.0L200.0,164.8L199.1,168.6L198.7,172.4L198.0,176.3L197.6,180.1L197.6,184.0L197.7,187.8L198.1,191.7L198.2,195.6L198.6,199.5L199.1,203.4L199.1,207.2L199.0,211.1L198.7,214.9L198.1,218.8L198.3,222.7L198.0,226.5L197.9,230.4L197.8,234.2L197.4,238.1L197.1,242.0L196.8,245.8L196.9,249.7L196.9,253.5L196.2,257.2L196.4,260.8L195.5,264.5L194.9,268.1L194.9,271.7L194.2,275.4L194.3,279.0L194.1,282.7L194.2,286.3L193.7,290.0L193.7,293.6L194.2,297.1L193.9,300.7L193.2,304.3L193.8,307.9L193.4,311.4L192.8,315.0L192.6,318.5L192.3,322.1L191.4,325.7L191.7,329.2L191.8,332.8L191.4,336.4L191.6,339.9L191.6,343.6L191.5,347.2L192.1,350.9L191.5,354.5L191.9,358.2L191.6,361.8L191.1,365.4L191.1,369.1L191.4,372.7L191.2,376.4L190.9,380.0L191.2,383.6L191.4,387.3L191.2,390.9L191.9,394.6L192.4,398.2L192.4,401.9L191.8,405.5L191.1,409.1L191.7,412.8L190.5,416.4L190.0,420.0"/>
<path stroke="#0072bd" d="M255.0,130.0L254.0,133.5L253.3,137.0L252.2,140.4L250.6,143.6L249.2,146.9L247.9,150.3L247.1,153.8L246.6,157.3L246.0,160.7L245.5,164.2L245.4,167.8L244.4,171.1L242.7,174.3L241.7,177.9L240.2,181.3L239.0,184.8L237.2,188.0L235.6,191.3L233.9,194.7L232.3,198.0L230.6,201.3L229.4,204.8L226.0,207.4L225.3,211.1L224.3,214.7L223.2,218.2L222.7,222.0L220.8,225.6L219.8,229.5L218.8,233.5L217.8,237.4L216.4,241.2L215.0,245.0"/>
<path stroke="#0072bd" d="M232.4,171.2L234.4,174.6L236.3,178.0L238.5,181.2L240.3,184.8L242.6,188.0L244.8,191.2L247.2,194.3L248.9,198.4L250.8,194.7L252.5,191.5L254.2,188.2L256.5,185.2L257.7,181.7L259.3,178.4L261.2,175.3L261.2,172.6L262.2,174.8L264.0,178.1L265.7,181.3L267.2,184.7L268.9,188.0L270.7,191.2L273.7,195.5L276.1,190.8L276.9,187.3L277.9,183.9L279.0,180.5L279.7,177.0L280.4,173.5L281.6,170.2L282.8,166.8L283.5,163.6L284.8,160.3L286.9,157.3L288.0,153.7L289.4,150.3L290.6,146.8L291.9,142.8L293.7,139.0L295.0,135.0"/>
<path stroke="#0072bd" d="M290.0,130.0L292.3,133.4L294.7,136.8L297.9,139.6L300.6,142.7L303.4,146.1L304.1,150.1L304.3,154.0L304.9,157.8L305.0,161.7L304.3,165.7L304.7,169.6L306.8,175.2L309.9,169.8L310.4,165.4L311.9,161.3L311.6,157.4L312.6,154.0L314.0,150.6L315.1,147.2L316.9,143.9L317.3,140.3L319.0,137.0L319.6,133.4L320.9,130.0"/>
<path stroke="#0072bd" d="M325.0,140.3L324.9,143.8L324.6,147.3L324.2,150.8L324.6,154.3L324.6,157.8L325.0,161.4L325.5,164.9L324.7,168.4L324.7,171.9L324.2,174.8L327.0,176.8L329.8,179.5L332.2,182.8L334.8,186.0L336.4,189.7L337.5,193.1L343.9,192.3L345.8,188.8L346.7,186.5L351.6,186.3L355.7,189.1L357.2,184.2L358.5,180.0L358.8,176.1L359.1,172.2L360.6,168.6L361.8,165.0L362.9,161.2L364.5,157.6L365.2,153.8L366.0,150.0"/>
<path stroke="#0072bd" d="M146.0,212.3L150.0,215.9L152.8,213.7L155.8,211.7L158.5,209.3L161.4,207.1L165.6,206.5L167.7,203.7L171.0,202.1L174.4,200.5L177.7,198.4L181.0,196.5L184.7,195.3L188.1,193.2L191.4,190.9L194.2,188.4L196.8,185.7L199.7,183.2L202.6,180.9L205.6,178.6L208.6,176.8L211.6,175.8L214.7,173.8L218.1,173.0L221.4,171.6L224.0,170.4L227.3,171.7L230.5,174.2L234.0,176.0L237.0,177.9L239.6,180.5L242.9,182.4L245.7,184.7L248.8,188.1L251.7,191.7L255.0,195.0"/>
<path stroke="#0072bd" d="M146.0,241.7L149.0,244.3L152.2,246.8L155.1,249.6L158.5,251.8L161.8,253.0L164.9,254.7L168.3,256.0L171.2,257.9L174.5,259.4L177.7,261.3L180.8,264.6L184.0,267.5L187.1,270.6L190.1,274.1L191.6,277.9L193.1,281.6L193.7,285.5L195.3,289.1L196.3,293.0L197.7,296.6L199.3,300.2L200.4,304.0L201.7,307.2L202.6,310.6L204.1,313.8L205.5,317.0L206.2,320.4L208.3,323.4L209.9,326.6L211.1,329.9L212.8,333.0L214.4,336.2L216.0,339.4L217.0,343.1L217.0,347.0L217.9,350.7L218.2,354.6L219.0,358.3L219.5,362.1L220.5,365.8L221.2,369.6L222.8,373.0L223.6,376.8L224.5,380.5L225.7,384.1L226.4,387.8L227.9,391.3L229.4,394.8L230.9,398.4L232.6,401.8L233.4,405.5L235.1,409.0L236.1,412.7L237.4,416.2L238.6,419.8L239.7,423.5L240.5,427.2L241.1,431.0L240.7,435.0L241.6,438.7L243.1,442.3L244.7,445.7L246.2,449.3L246.8,453.0L248.3,456.5L249.2,460.2L250.2,463.9L251.3,467.5L252.4,471.2L252.8,475.0L254.1,478.6L255.1,482.3L256.5,485.8L257.6,489.4L258.7,493.1L259.9,496.7L260.9,500.3L262.5,503.8L263.6,507.4L264.5,511.1L265.8,514.7L267.2,518.3L267.9,522.0L269.6,525.5L270.3,529.2L271.7,532.8L272.6,536.5L273.5,540.1L274.4,543.8L275.3,547.5L276.2,551.1L277.3,554.7L278.2,558.4L279.3,562.0L280.3,565.6L281.8,569.1L282.5,572.9L282.8,576.7L284.3,580.2L286.8,583.5L287.3,587.4L288.5,591.0L289.7,594.7L290.7,598.5L291.5,602.2L292.0,606.1L292.0,610.0"/>
<path stroke="#0072bd" d="M146.0,186.0L149.7,184.7L153.5,184.0L157.4,183.2L161.0,181.6L164.9,181.2L168.4,179.7L171.7,177.4L175.0,175.0L178.7,173.1L182.1,170.9L186.1,169.2L188.9,166.2L191.2,163.0L193.2,159.6L195.8,156.7L197.6,153.1L200.0,150.0"/>
<path stroke="#0072bd" d="M246.0,130.0L249.2,127.1L252.5,124.3L256.0,121.7L259.3,119.1L261.3,116.3L264.2,114.2L266.5,111.5L269.4,109.4L272.3,107.3L275.3,105.4L278.5,103.7L281.8,102.3L284.7,100.0L287.6,98.0L291.1,96.4L293.7,93.7L296.0,91.0L298.1,88.1L300.5,85.7L303.4,83.5L306.7,81.7L310.0,80.0"/>
<path stroke="#0072bd" d="M283.0,80.0L285.0,83.7L286.7,87.4L287.8,91.5L289.1,95.3L290.5,99.0L291.0,103.0L292.1,106.8L294.1,110.4L295.6,113.9L297.4,117.2L299.6,120.2L301.2,123.5L303.1,126.8L304.6,130.2L306.3,133.5L307.9,136.9L310.0,140.0"/>
<path stroke="#0072bd" d="M269.5,180.0L270.9,183.5L273.2,186.7L275.3,190.0L273.6,191.6L272.6,190.2L274.0,186.7L275.2,183.2L276.2,179.6L277.2,175.7L278.4,171.8L279.2,167.8L280.9,163.9L282.0,160.0"/>
<path stroke="#0072bd" d="M207.7,180.0L211.1,183.9L213.9,187.5L216.9,184.0L220.0,180.0L221.9,176.4L222.9,172.5L224.7,168.8L226.0,165.0"/>
<path stroke="#0072bd" d="M287.2,83.7L287.8,87.4L287.9,91.2L288.3,95.0L289.2,98.7L288.8,102.5L288.5,106.5L289.6,110.4L291.1,114.0L293.7,117.9L295.7,122.1L297.0,125.5L298.4,128.8L300.0,132.0"/>
<path stroke="#0072bd" d="M290.2,83.7L293.5,86.9L296.7,90.3L299.4,94.0L301.0,98.1L301.4,102.5L303.3,106.4L304.8,109.8L306.1,113.2L308.3,116.3L310.3,121.1L312.0,126.0"/>
<path stroke="#0072bd" d="M305.0,86.0L308.7,90.4L310.3,94.6L311.2,98.8L311.9,103.2L313.8,107.3L315.8,111.5L317.6,115.9L320.0,120.0"/>
<path stroke="#0072bd" d="M316.0,78.5L317.4,82.5L318.4,86.6L318.8,90.8L320.6,95.7L320.8,101.0L322.6,104.1L323.3,107.8L324.5,111.2L326.7,116.0L330.0,120.0"/>
<path stroke="#0072bd" d="M272.0,100.0L275.9,96.9L279.9,93.8L284.6,92.5L289.2,90.9L292.6,89.9L296.1,89.0L299.4,87.5L303.5,86.4L308.0,87.0L312.9,84.9L318.0,84.0"/>
<path stroke="#0072bd" d="M246.0,89.8L251.3,90.6L253.5,95.2L255.9,99.5L259.4,101.5L262.7,103.4L266.3,105.4L271.6,105.9L276.9,106.0L282.1,104.7L287.0,103.0"/>
<path stroke="#0072bd" d="M258.0,128.0L260.9,125.9L264.3,124.6L267.4,122.7L271.0,120.2L274.2,117.2L277.4,114.3L280.9,112.9L284.2,110.9L287.2,108.9L290.6,109.5L294.0,110.3L297.5,111.2L301.6,114.4L305.7,117.6L308.9,120.8L312.0,124.0"/>
<path stroke="#0072bd" d="M310.0,132.0L314.2,129.7L318.2,127.2L320.8,124.5L325.0,123.8L328.6,120.3L331.3,122.2L336.3,124.5L341.4,123.2L346.0,121.7"/>
<path stroke="#0072bd" d="M348.0,122.0L348.1,125.8L348.8,129.6L348.5,133.4L348.7,137.2L349.0,141.0L349.0,144.8L348.8,148.6L349.5,152.4L349.2,156.2L349.2,160.0L349.3,163.7L347.3,167.5L347.9,171.2L348.8,174.8L349.8,178.5L349.9,182.2L350.2,185.9L351.0,189.5L351.3,193.2L351.2,196.9L351.7,200.6L351.7,204.3L351.4,207.5L352.1,204.2L353.8,200.7L354.8,197.0L356.5,193.5L358.2,190.1L359.1,186.7L360.6,183.5L362.4,180.4L364.4,177.4L365.6,174.1L366.8,170.7L366.7,168.0L366.6,170.7L367.9,174.2L368.5,177.8L369.8,181.3L370.7,184.7L371.0,188.5L371.6,192.3L371.7,196.2L372.1,200.0L371.1,203.6L370.0,207.2L369.9,210.8L369.7,214.5L369.2,218.1L369.5,221.7L369.6,225.4L369.0,229.0L369.4,232.7L368.9,236.3L369.0,240.0L368.8,243.6L368.7,247.2L368.7,250.9L369.1,254.5L369.2,258.2L368.5,261.8L368.6,265.4L368.2,269.1L368.3,272.7L367.6,276.3L367.3,280.0L366.8,283.6L367.1,287.2L366.7,290.9L366.4,294.5L366.4,298.2L366.7,301.8L366.6,305.5L364.9,309.0L364.7,312.7L364.7,316.3L364.5,320.0L364.5,323.6L363.9,327.2L363.4,330.8L365.1,334.6L364.1,338.2L363.8,341.9L363.0,345.4L362.6,349.1L361.8,352.7L361.3,356.3L360.7,359.9L360.7,363.5L360.0,367.1L360.1,370.8L360.3,374.5L360.5,378.2L359.8,381.8L359.6,385.5L359.5,389.1L359.2,392.8L359.0,396.4L358.5,400.1L357.7,403.7L356.6,407.2L356.4,410.9L356.0,414.6L355.1,418.2L354.8,421.8L355.2,425.6L354.8,429.3L354.0,432.9L353.3,436.5L352.6,440.1L351.9,443.8L351.6,447.5L350.6,451.1L350.4,454.8L349.0,458.3L348.8,462.1L347.5,465.6L346.1,469.1L345.0,472.6L344.6,476.3L344.0,480.0"/>
<path stroke="#0072bd" d="M410.0,140.0L409.7,143.7L409.0,147.3L408.6,150.9L408.3,154.6L407.4,158.2L407.0,161.9L406.7,165.5L406.1,169.2L405.3,172.8L404.3,176.3L403.6,179.9L402.5,183.9L400.9,187.8L400.3,192.0L399.0,195.9L397.1,199.8L395.9,203.7L395.3,207.8L393.7,211.6L392.8,215.6L392.3,219.8L391.3,223.4L391.4,227.2L390.3,230.8L390.1,234.6L389.6,238.3L389.2,242.0L388.8,245.6L388.3,249.4L387.2,253.1L386.6,256.8L385.7,260.5L384.8,264.2L383.8,267.9L383.1,271.7L382.5,275.4L381.4,279.0L381.0,282.7L379.4,286.1L378.7,289.7L377.6,293.3L375.5,296.5L374.5,300.1L373.2,303.6L371.5,307.0L370.4,310.6L368.9,314.2L368.6,318.0L367.1,321.5L365.9,325.1L365.5,329.0L364.2,332.5L363.0,336.1L362.2,339.9L360.9,343.4L360.0,347.1L359.3,350.8L358.5,354.5L357.2,358.0L356.7,361.8L355.3,365.3L353.9,368.8L353.0,372.5L351.8,376.1L351.0,379.7L349.7,383.3L348.7,386.9L347.3,390.5L346.4,394.2L345.7,397.9L344.5,401.5L343.2,405.1L341.9,408.7L341.3,412.5L340.2,416.1L339.4,419.8L338.6,423.5L337.7,427.1L336.5,430.6L335.2,434.1L334.1,437.7L332.8,441.2L331.9,444.8L330.8,448.4L329.0,451.7L328.1,455.4L327.2,459.0L326.5,462.7L325.8,466.3L325.2,470.1L325.1,473.9L324.1,477.5L323.3,481.2L321.4,484.5L320.0,488.0L318.3,491.4L316.6,494.7L314.8,498.1L314.2,501.8L313.0,505.3L311.9,508.9L311.4,512.6L310.1,516.1L309.6,519.9L308.0,523.3L307.5,527.0L306.5,530.6L305.8,534.3L305.0,538.0L304.4,541.7L303.7,545.3L302.9,549.0L302.0,552.6L300.6,556.1L299.8,559.8L298.7,563.3L297.6,566.9L296.1,570.4L294.8,573.7L293.7,577.1L292.3,580.4L290.5,583.5L289.1,586.8L287.3,589.9L285.6,593.1L284.7,596.5L283.1,599.8L282.1,603.2L281.1,606.6L280.0,610.0"/>
<path stroke="#0072bd" d="M368.9,180.0L369.7,183.7L370.5,187.3L370.8,191.1L370.9,194.9L371.1,198.5L371.6,202.1L370.9,205.7L370.9,209.3L370.9,212.9L371.0,216.5L370.7,220.1L371.1,223.8L371.0,227.4L370.6,231.0L370.2,234.6L370.3,238.2L369.7,241.8L369.7,245.6L368.9,249.3L368.9,253.1L368.6,256.8L368.2,260.5L367.6,264.3L367.1,268.0L367.1,271.8L366.1,275.5L366.0,279.2L365.5,283.0L365.2,286.5L364.3,290.0L364.0,293.6L363.4,297.1L362.9,300.7L362.7,304.3L362.4,307.8L362.1,311.4L361.7,315.0L361.4,318.5L361.1,322.1L360.9,325.7L361.0,329.3L360.3,332.8L360.2,336.4L359.6,339.9L358.8,343.4L358.6,346.9L358.1,350.4L357.5,353.9L357.5,357.5L357.5,361.1L357.2,364.6L357.5,368.2L357.4,371.7L358.3,375.4L357.8,378.9L357.0,382.4L357.4,386.0L355.1,389.3L355.8,393.0L356.0,396.5L356.1,400.1L355.7,403.7L355.5,407.3L354.6,410.8L354.2,414.4L353.4,417.9L352.4,421.4L351.2,424.9L350.8,428.4L350.5,432.0L350.0,435.6L350.5,439.2L350.4,442.8L350.5,446.4L350.0,450.0"/>
<path stroke="#0072bd" d="M424.5,150.5L428.1,150.7L431.7,151.7L435.3,151.9L438.7,153.3L442.1,154.7L445.7,155.5L449.0,157.2L452.7,158.0L456.1,159.3L459.6,160.6L463.2,162.9L467.0,164.8L470.8,166.9L474.0,169.5L477.2,172.0L480.2,175.0L482.0,178.3L483.0,182.4L484.4,186.3L486.5,190.0L488.2,194.1L490.5,190.6L492.2,187.4L493.7,184.0L494.5,180.3L496.0,176.9L497.1,173.3L498.0,169.7L499.0,166.1L500.5,162.7L501.4,159.3L504.1,154.9L506.9,150.7L510.8,148.1L515.0,146.0"/>
<path stroke="#0072bd" d="M517.0,177.0L515.1,180.4L514.3,184.2L512.5,187.7L511.3,191.4L510.5,195.2L509.1,198.7L507.3,201.9L505.4,205.0L503.8,208.3L502.1,211.7L500.7,215.2L499.0,218.6L498.0,222.3L497.2,225.9L496.0,229.5L495.8,233.3L495.3,237.1L494.5,240.9L493.5,244.6L492.3,248.2L491.1,251.9L489.8,255.5L488.7,259.1L487.0,262.6L485.4,266.0L484.5,269.6L483.1,273.0L481.2,276.2L479.2,279.4L477.9,282.8L475.8,286.0L474.1,289.3L472.6,292.7L471.3,296.1L470.3,299.7L469.0,303.2L468.0,306.9L467.1,310.7L465.1,314.0L463.6,317.5L461.8,320.9L459.9,324.2L458.3,327.4L456.0,330.3L454.2,333.4L452.0,336.4L450.8,339.8L449.1,343.0L447.9,346.4L447.2,350.0L446.3,353.6L444.8,356.8L443.6,360.3L441.8,363.7L440.2,367.3L439.1,371.1L437.1,374.5L435.4,378.0L433.8,381.5L432.0,385.0L430.9,388.7L429.0,392.1L428.2,395.9L426.4,399.3L425.1,403.0L423.8,406.6L422.0,410.0"/>
<path stroke="#0072bd" d="M529.0,159.0L527.3,162.3L525.3,165.6L524.3,169.2L523.2,172.8L521.9,176.3L520.7,179.9L521.2,183.8L520.3,187.5L520.0,191.2L519.5,195.0L518.8,198.7L518.0,202.4L517.5,206.1L517.4,209.9L517.5,213.7L517.0,217.4L517.1,221.2L516.9,225.1L515.8,228.8L515.3,232.6L514.3,236.3L513.0,240.0"/>
<path stroke="#0072bd" d="M529.4,180.0L528.3,183.6L527.6,187.2L527.0,190.9L525.5,194.4L524.4,197.9L523.2,201.5L522.5,204.6L524.1,207.7L525.8,211.2L526.9,215.1L528.5,218.7L530.2,222.3L531.4,226.0L533.5,229.4"/>
<path stroke="#0072bd" d="M482.1,224.2L480.2,227.4L478.4,230.7L476.3,233.7L475.6,237.3L475.0,241.0L473.7,244.5L472.4,248.0L471.1,251.5L469.7,254.9L468.5,258.4L466.9,261.6L466.0,265.0L465.5,268.5L464.7,271.9L463.9,275.3L463.6,278.8L461.8,282.1L460.1,285.4L458.3,288.7L455.2,291.0L453.1,294.1L451.3,297.4L449.7,300.8L448.0,304.1L445.8,307.4L443.9,310.9L442.2,314.5L439.9,317.8L437.6,321.1L434.8,324.0L432.9,327.1L431.2,330.3L429.3,333.4L427.7,336.6L425.7,339.6L424.5,343.2L422.7,346.5L420.8,349.8L421.1,354.2L419.4,357.6L417.1,360.5L415.4,364.0L414.0,367.6L412.5,371.2L410.1,374.5L408.4,378.0L406.5,381.4L405.0,385.0"/>
<path stroke="#0072bd" d="M482.1,224.2L484.8,227.3L487.6,229.8L488.6,232.9L490.1,236.2L490.5,239.7L491.4,243.1L492.2,246.5L493.0,249.5L496.5,252.0L500.6,254.1L500.5,258.0L500.5,261.9L500.5,265.8L500.2,269.7L501.1,273.5L500.9,277.4L501.1,281.3L500.8,285.2L501.4,289.3L502.5,293.4L504.3,296.8L506.8,300.1L508.8,303.5L512.9,302.7L516.5,302.7L517.9,299.8L518.8,296.1L521.0,293.0L522.4,289.5L524.2,286.3L525.7,282.8L527.7,279.5L528.9,275.9L531.0,272.6L532.9,269.3L534.8,266.0L536.4,262.5L538.8,259.9L540.7,257.0L542.7,254.1L545.0,251.5L546.6,248.3L548.5,245.3L550.4,241.9L552.2,238.4L554.0,235.0L556.2,231.8L558.4,228.6L560.4,225.3L563.0,222.8L565.3,220.0L567.7,217.4L569.8,214.5L571.9,211.6L573.5,208.4L575.9,205.6L577.3,202.1L579.1,198.8L581.5,195.9L583.9,193.1L586.0,190.0"/>
<path stroke="#0072bd" d="M451.2,250.0L449.7,254.0L448.9,258.1L447.9,262.3L447.5,266.5L445.9,269.9L446.1,273.9L444.2,277.2L443.0,280.7L441.5,284.1L440.0,287.4L439.5,290.9L438.7,294.5L437.7,298.0L436.5,301.4L435.9,305.0L434.7,308.4L434.0,312.1L432.5,315.7L431.2,319.2L429.8,322.7L428.9,326.3L427.3,329.8L426.5,333.5L425.2,337.0L424.1,340.6L422.6,344.3L421.6,348.1L419.4,351.5L418.2,355.2L416.8,358.9L414.7,362.3L413.9,365.9L412.1,369.2L411.0,372.8L409.6,376.2L409.2,380.0L407.9,383.5L405.9,386.7L404.6,390.2L402.9,393.3L402.0,396.7L399.9,399.8L398.6,403.0L397.5,406.3L396.7,409.8L395.7,413.2L395.1,416.7L394.0,420.0"/>
<path stroke="#0072bd" d="M451.2,250.0L450.8,253.7L451.1,257.3L451.3,261.0L450.9,264.7L451.3,268.3L451.8,272.0L452.3,275.6L452.3,279.3L453.1,282.9L453.3,286.5L453.3,290.1L452.7,293.7L452.7,297.3L452.5,300.9L452.4,304.6L452.3,308.2L451.8,311.7L451.4,315.2L451.6,318.8L451.0,322.3L451.0,325.8L451.1,329.4L450.6,332.9L450.5,336.5L450.5,340.0L449.4,343.7L449.2,347.4L448.9,351.2L449.3,355.0L449.0,358.7L449.3,362.5L449.7,366.3L449.7,370.1L449.5,373.8L449.2,377.6L449.2,381.4L448.5,385.1L447.4,388.8L446.9,392.5L446.2,396.2L446.0,400.0"/>
<path stroke="#0072bd" d="M490.3,287.0L489.6,290.9L488.7,294.7L487.8,298.5L486.2,302.1L485.1,305.9L484.2,309.7L483.2,313.5L482.2,317.2L481.8,321.2L480.7,325.0L480.3,329.0L479.3,332.8L478.4,336.6L476.7,340.2L475.1,343.8L473.2,347.3L471.2,350.7L469.9,354.4L468.2,357.9L466.9,361.6L466.1,365.3L464.8,368.7L463.9,372.4L462.7,375.9L461.3,379.3L460.2,382.9L459.1,386.4L457.7,389.9L456.4,393.2L454.7,396.3L453.9,399.8L452.5,403.0L451.7,406.4L451.0,409.9L449.7,413.2L449.0,416.6L448.0,420.0"/>
<path stroke="#0072bd" d="M510.9,262.3L510.5,266.6L509.2,270.6L508.4,274.8L506.5,278.7L506.2,282.3L506.0,285.8L505.4,289.4L505.4,292.9L505.6,296.5L505.3,300.0L506.0,303.9L506.7,307.9L507.3,311.9L507.6,316.0L508.8,319.9L508.6,324.0L508.8,327.5L509.0,331.0L508.7,334.5L509.3,338.0L509.9,341.5L510.0,345.0"/>
<path stroke="#0072bd" d="M529.4,245.8L528.0,249.0L526.9,252.4L525.8,255.7L525.2,259.2L524.0,262.5L522.7,265.7L522.3,269.3L521.1,272.6L519.9,276.1L518.6,279.6L517.3,283.2L515.8,286.6L514.2,290.1L513.6,293.8L512.0,297.2L511.5,301.1L510.9,305.0L510.8,308.8L510.8,312.6L510.6,316.4L510.5,320.2L510.9,324.0"/>
<path stroke="#0072bd" d="M381.3,313.7L381.5,317.5L380.5,321.2L380.4,325.0L379.3,328.7L379.3,332.4L379.0,336.2L378.0,339.9L378.3,343.7L378.8,347.5L378.9,351.3L379.5,355.1L379.1,358.8L379.8,362.7L379.4,366.4L378.3,370.1L377.6,373.8L376.5,377.5L375.7,381.2L375.0,384.9L374.6,388.7L374.6,392.5L374.4,396.3L374.0,400.0"/>
<path stroke="#0072bd" d="M400.0,460.0L400.3,456.3L401.7,452.8L402.1,449.2L402.6,445.5L403.4,441.9L404.2,438.3L404.9,434.7L405.4,431.1L406.2,427.5L406.7,423.8L407.1,420.2L407.6,416.4L408.4,412.7L409.3,409.0L410.6,405.3L411.3,401.6L412.0,397.8L412.5,394.0L413.4,390.3L414.3,386.6L414.9,382.8L415.9,379.1L415.8,375.2L416.4,371.4L416.8,367.6L417.4,363.8L418.2,360.0L418.4,356.1L420.0,352.6L420.5,348.7L421.7,345.0L422.7,341.3L423.1,337.5L424.4,333.8L425.0,330.0L425.5,326.4L426.2,322.8L426.4,319.1L427.3,315.6L428.4,312.1L429.2,308.6L430.0,304.7L430.7,308.6L432.2,312.0L432.9,315.6L433.7,319.2L434.5,322.8L435.4,326.4L436.4,329.9L437.1,333.9L437.7,338.0L438.4,342.0L439.4,346.0L440.0,350.2L441.0,346.3L442.5,342.7L443.3,339.0L444.6,335.3L445.0,331.5L446.0,327.8L446.4,324.0L446.9,320.2L447.1,316.5L446.7,312.6L447.7,309.1L446.8,305.1L448.0,301.6L449.2,298.1L452.0,293.9L453.5,298.4L453.7,302.2L454.3,305.8L454.7,309.5L455.6,313.0L456.6,316.6L457.7,320.1L458.9,323.7L459.5,327.4L460.3,331.1L460.8,334.9L460.7,338.7L461.2,342.5L461.3,346.3L462.0,349.8L462.7,346.4L463.6,342.7L464.6,339.2L464.9,335.5L465.5,331.8L466.1,328.1L466.7,324.5L467.4,320.8L467.9,317.1L468.2,313.4L469.7,309.9L471.1,306.3L472.1,302.5L473.6,298.9L474.7,295.2L475.5,291.4L476.4,287.6L476.8,283.7L478.0,280.0"/>
<path stroke="#0072bd" d="M380.0,470.0L381.3,466.3L382.8,462.7L383.6,458.9L385.1,455.3L386.1,451.5L386.5,447.6L387.4,443.9L388.4,440.1L389.7,436.5L390.7,432.7L392.2,429.1L393.2,425.4L394.1,421.6L394.7,417.8L395.5,414.1L396.3,410.3L397.0,406.5L397.5,402.6L398.2,398.8L399.5,395.1L400.2,391.3L401.6,387.6L402.3,383.8L403.8,380.2L404.5,376.4L405.4,372.6L406.0,368.8L407.6,365.3L407.9,361.4L409.2,357.7L410.1,354.0L411.1,350.3L412.9,346.5L413.7,342.4L414.9,338.4L415.9,334.3L416.2,331.3L416.0,333.9L414.8,338.2L416.3,341.7L417.8,345.3L419.7,348.7L420.6,352.3L421.8,355.6L422.5,359.1L423.2,362.5L423.5,366.1L424.2,369.5L425.4,372.9L426.4,376.4L425.7,378.3L425.5,376.0L425.7,372.1L426.5,368.4L427.2,364.6L428.1,360.9L429.1,357.2L429.4,353.4L432.6,350.1L432.9,346.2L434.3,342.6L435.8,339.0L436.5,335.1L437.9,331.5L438.2,327.6L439.5,323.9L440.0,320.0"/>
<path stroke="#0072bd" d="M420.0,470.0L420.4,466.1L421.0,462.2L421.7,458.4L422.9,454.7L423.6,450.9L424.7,447.2L426.1,443.5L427.1,439.8L427.5,436.0L427.5,432.1L428.5,428.4L429.0,424.6L429.7,420.8L430.8,417.2L431.7,413.4L433.4,409.9L434.7,406.4L435.9,402.9L436.8,399.3L437.4,395.7L438.1,392.1L438.9,388.5L439.6,384.9L440.0,381.1L441.2,377.6L441.8,374.0L442.5,370.3L443.8,366.8L443.3,362.8L445.5,359.5L446.9,356.0L449.0,352.8L450.8,349.4L451.8,345.8L452.8,342.2L454.4,338.7L454.8,334.9L455.8,331.1L457.1,327.3L458.0,323.3L459.8,319.7L461.0,315.9L462.1,312.5L462.2,315.9L463.2,319.6L464.7,323.1L465.6,326.8L466.9,330.3L467.4,333.9L468.7,337.4L469.4,341.0L469.6,344.7L470.6,348.3L471.7,351.8L474.0,356.9L476.3,351.8L477.6,348.3L478.2,344.7L479.3,341.2L479.7,337.5L480.3,333.9L481.1,330.3L481.2,326.3L481.1,322.3L482.0,318.6L482.5,314.8L483.3,311.0L484.5,307.3L485.4,303.6L486.0,299.7L487.2,296.3L488.8,293.1L490.3,289.9L491.8,286.7L492.6,283.3L494.0,280.0"/>
<path stroke="#0072bd" d="M446.0,470.0L446.3,466.2L447.1,462.4L447.2,458.5L448.1,454.8L448.9,451.1L449.6,447.3L450.7,443.6L451.4,439.9L451.7,436.0L452.5,432.3L452.9,428.5L454.0,424.8L454.6,421.0L455.3,417.3L456.3,413.6L457.8,410.0L459.5,406.4L460.9,402.7L462.5,399.1L463.5,395.4L464.7,391.7L465.3,387.9L466.0,384.0L466.8,380.2L467.2,376.3L468.6,372.6L469.5,368.9L470.1,365.0L470.9,361.2L471.8,357.4L472.9,353.7L473.9,350.0L475.2,346.6L476.1,343.1L477.8,339.9L478.9,336.5L479.6,332.9L482.0,326.3L486.5,332.1L487.1,335.7L488.0,339.2L488.6,342.8L489.0,346.5L490.1,350.0L490.5,354.2L491.3,358.3L492.5,362.3L494.1,366.2L496.0,369.8L496.4,366.2L496.4,362.3L497.6,358.6L498.5,354.9L499.5,351.2L500.2,347.4L501.2,343.7L502.7,340.2L503.6,336.4L505.3,332.8L506.2,329.1L506.2,325.1L507.1,321.3L507.3,317.3L507.9,313.5L508.8,309.6L510.2,306.2L511.6,302.9L513.3,299.7L514.6,296.4L516.1,293.1L518.0,290.0"/>
<path stroke="#0072bd" d="M470.0,460.0L470.8,456.2L471.8,452.5L472.9,448.7L473.3,444.8L473.7,440.9L474.1,437.0L475.4,433.3L476.3,429.6L478.3,426.1L479.6,422.4L480.4,418.6L482.2,415.0L483.0,411.3L484.0,407.5L485.6,403.9L486.9,400.2L487.7,396.4L488.8,392.7L490.4,389.1L491.7,385.4L492.6,381.7L492.7,377.7L494.2,374.1L494.5,370.1L496.0,366.9L497.3,363.6L498.1,360.0L499.8,356.9L500.9,353.4L502.0,349.7L503.6,353.4L504.7,357.0L505.9,360.5L507.3,364.1L508.1,367.7L509.0,371.4L510.3,374.9L510.9,379.0L512.0,382.9L512.5,387.0L513.9,390.9L514.2,394.4L514.8,391.4L515.1,387.7L516.4,384.2L517.0,380.6L517.8,377.0L518.7,373.5L519.6,369.9L520.3,366.1L521.7,362.4L522.1,358.5L523.0,354.7L524.1,351.0L525.4,347.3L525.5,343.4L526.4,339.5L527.7,336.0L528.5,332.3L530.2,328.9L531.2,325.3L532.2,321.7L533.2,318.0L535.1,314.7L535.8,310.9L537.6,307.5L538.6,303.8L540.4,300.4L542.0,297.0L543.4,293.5L545.0,290.0"/>
<path stroke="#0072bd" d="M402.0,455.0L404.4,451.8L407.4,449.2L410.0,446.2L412.9,443.4L415.1,440.1L417.9,437.9L420.7,435.7L423.2,433.2L425.5,430.5L428.0,428.0L431.0,426.1L433.8,424.1L436.5,421.7L439.2,419.4L442.0,417.3L445.1,415.4L448.0,413.3L450.5,410.9L453.6,408.8L457.1,407.6L460.2,405.3L463.7,404.2L467.1,402.5L470.3,400.8L474.3,400.3L478.3,399.1L482.3,398.2L486.3,397.2L490.6,396.7L494.0,394.6L497.1,392.5L500.6,391.3L503.9,389.5L507.0,387.4L510.8,386.2L513.7,383.2L516.8,380.7L520.3,378.7L522.7,375.4L526.1,372.9L528.1,369.5L530.0,366.2L531.9,362.9L533.1,359.1L535.2,355.9L536.8,352.5L539.0,349.3L541.2,346.4L543.6,343.5L546.3,340.8L548.3,337.7L550.4,334.6L552.2,331.4L554.6,328.5L556.3,325.2L557.6,321.8L558.9,318.4L560.7,315.3L562.2,312.1L564.0,308.9L566.0,306.0L568.3,303.1L570.0,300.0"/>
<path stroke="#0072bd" d="M346.0,383.5L342.7,385.0L339.1,386.0L335.6,386.9L332.1,388.0L328.7,389.3L325.0,389.8L319.9,390.7L314.8,391.9L311.8,394.0L308.9,396.4L306.2,398.9L303.2,400.8L300.5,403.7L298.0,407.0L296.7,411.2L293.6,414.0L289.9,416.4L287.8,419.7L286.2,423.3L284.6,426.9L283.4,430.6L282.6,434.5L281.8,438.4L280.2,442.0L278.6,445.9L275.0,448.5L271.7,451.0L268.2,453.2L264.6,455.3L261.2,457.5L257.9,460.0L254.7,462.6L251.4,465.1L248.6,468.2L245.6,471.3L242.1,472.9L239.2,475.2L235.9,476.8L232.3,477.9L228.5,479.0L223.2,478.8L217.8,478.7L214.1,476.5L210.7,474.2L207.2,472.0L203.4,470.3L200.3,467.5L196.8,465.3L193.6,462.8L190.5,460.0L186.9,458.0L183.2,456.7L179.8,454.7L175.9,453.7L172.3,452.1L168.9,450.1L165.3,448.4L162.1,446.5L158.5,445.2L155.4,443.2L152.5,440.7L149.3,438.8L146.0,437.0"/>
<path stroke="#0072bd" d="M346.0,383.5L349.3,381.6L352.5,379.6L355.9,377.8L359.1,375.6L362.7,374.3L365.8,372.1L369.3,370.6L372.8,368.8L376.7,367.7L380.5,366.4L384.0,364.6L387.8,363.4L391.5,361.8L394.9,359.8L398.4,358.2L401.8,356.3L405.3,354.7L409.4,354.5L412.8,352.7L416.1,350.7L419.8,349.4L423.4,348.5L427.1,348.2L430.7,347.8L434.2,346.8L437.8,346.1L441.5,346.1L445.0,345.0L448.7,344.9L452.3,344.4L456.0,344.2L459.5,343.5L463.2,343.0L466.7,342.1L470.2,340.7L473.8,339.2L477.3,337.5L480.8,336.0L484.4,334.6L488.1,333.5L491.4,331.3L494.8,329.7L498.4,328.0L502.0,326.2L505.5,324.4L508.8,322.2L512.3,320.3L515.9,318.6L519.6,317.2L522.9,315.9L525.9,314.1L529.5,313.4L532.5,311.6L535.5,309.6L538.5,307.8L541.8,306.5L544.9,304.8L548.1,303.0L551.5,301.6L554.5,299.7L557.8,298.0L560.9,296.1L564.0,294.2L567.0,292.1L570.2,290.4L573.2,288.1L576.6,286.4L580.2,285.5L583.4,283.4L586.6,281.5L590.0,280.0"/>
<path stroke="#0072bd" d="M146.0,465.8L149.6,466.3L153.1,467.0L156.4,468.7L159.9,469.5L163.3,470.5L166.7,471.6L170.6,471.5L174.5,471.8L178.4,472.3L182.3,472.7L186.2,472.3L190.1,472.6L194.1,473.1L198.1,473.6L202.0,474.0L206.0,474.1L209.9,475.5L214.0,477.1L217.9,475.8L221.8,475.0L225.4,473.6L229.1,472.4L232.7,470.8L236.5,469.9L240.2,468.6L243.7,467.2L246.8,465.3L250.2,463.9L253.5,462.4L257.1,461.3L260.4,459.8L263.7,458.2L267.0,456.7L270.5,454.8L273.2,451.6L275.3,448.2L277.9,445.3L280.3,442.3L282.4,438.9L285.3,436.2L288.1,433.5L290.5,430.4L292.5,427.3L294.4,424.2L296.0,420.9L297.9,417.8L299.4,414.5L301.4,411.4L302.7,408.0L304.4,404.8L305.9,401.4L307.5,398.2L309.9,395.2L312.5,392.5L315.7,390.7L318.2,388.1L321.4,386.4L324.2,384.2L326.9,381.8L329.8,379.8L333.2,378.2L336.7,376.8L340.3,375.7L343.8,374.2L347.1,372.6L350.4,371.0L353.7,370.1L357.0,368.7L360.4,367.7L363.7,366.5L366.9,365.2L370.2,364.0L373.3,362.2L376.7,361.1L380.0,360.1L383.8,359.2L387.6,358.5L391.3,357.1L395.1,356.3L398.8,355.1L402.7,354.6L406.3,353.3L410.0,352.0"/>
<path stroke="#0072bd" d="M146.0,356.7L149.8,355.8L153.4,354.2L156.9,352.4L160.7,351.4L164.7,351.0L168.3,349.4L172.0,347.9L175.4,345.8L179.2,344.5L183.3,342.7L187.7,348.0L190.3,350.6L192.6,353.3L195.0,356.1L197.7,358.5L201.8,362.5L205.9,362.4L208.5,365.6L210.6,368.8L213.0,371.7L215.7,374.5L217.9,377.9L219.5,381.5L221.5,384.9L223.9,388.1L225.6,391.6L227.5,395.0L229.9,398.1L231.9,401.5L234.3,404.6L236.5,407.8L239.0,410.9L242.0,413.0L245.1,414.9L247.8,417.2L250.9,419.1L253.2,421.8L256.0,424.0L258.6,426.4L261.0,429.0L262.8,432.2L265.3,434.7L267.9,437.1L270.0,440.0"/>
<path stroke="#0072bd" d="M146.0,360.9L149.5,361.8L152.9,362.8L156.3,364.1L159.7,365.1L163.1,366.2L166.3,367.3L168.1,370.6L169.6,374.2L170.9,377.9L172.1,381.6L172.5,385.5L172.7,389.5L173.3,393.4L174.5,397.1L176.2,400.7L177.2,404.6L178.2,408.3L179.7,411.7L180.6,415.2L181.6,418.6L182.7,422.1L182.4,425.7L182.6,429.3L182.7,432.9L183.3,436.4L183.8,439.9L184.7,443.3L185.3,446.7L186.5,450.1L187.3,453.5L189.3,456.5L190.7,459.7L192.0,463.0L193.4,466.2L194.5,469.7L195.3,473.7L195.4,477.9L194.9,482.2L195.1,486.3L195.4,490.5L197.0,494.1L198.3,497.8L199.3,501.5L201.3,505.0L202.8,508.6L204.0,512.3L204.8,516.1L205.7,519.8L206.8,523.3L207.0,527.1L207.5,530.8L208.9,534.3L209.8,537.9L210.6,541.5L212.0,545.0"/>
<path stroke="#0072bd" d="M146.0,410.2L150.2,410.1L154.3,410.4L158.4,411.2L162.6,412.2L166.2,411.6L169.5,410.4L172.9,409.3L176.5,409.0L179.9,408.1L183.3,406.9L187.0,405.3L190.8,404.1L194.5,402.3L198.2,400.9L202.0,399.4L205.5,397.4L208.4,395.3L211.5,393.2L214.7,391.3L217.7,389.1L221.3,388.0L224.3,386.0L227.8,384.8L231.1,383.0L234.2,380.9L237.6,379.1L240.8,377.1L243.7,374.6L247.1,372.9L250.4,371.0L253.0,369.1L254.9,371.5L257.8,373.7L260.0,376.3L262.1,379.2L264.5,382.0L266.9,384.9L269.1,387.8L270.5,391.4L274.2,394.1L274.7,398.1L276.2,401.8L276.4,405.5L276.2,409.1L276.4,412.6L276.7,416.2L277.7,419.6L278.1,423.1L278.6,426.6L279.2,430.1L279.7,433.9L281.1,437.5L281.7,441.3L281.8,445.1L282.9,448.8L282.9,452.6L284.3,456.3L285.0,460.0"/>
<path stroke="#0072bd" d="M154.2,474.0L155.4,470.4L156.1,466.6L156.8,462.8L157.9,459.3L159.3,455.4L161.0,451.6L162.2,447.6L163.5,443.6L164.3,439.5L165.5,435.5L167.0,431.6L168.0,427.5L169.4,423.6L170.9,419.7L172.8,415.9L174.3,412.0L176.2,408.2L177.1,404.1L178.5,400.2L179.0,396.0L180.1,391.9L180.6,387.7L183.5,384.2L184.6,380.1L184.4,376.4L184.7,372.8L184.7,369.2L185.2,365.6L186.0,362.1L185.9,358.4L186.3,354.8L186.7,351.2L187.9,347.7L188.7,344.2L189.4,340.7L190.4,337.2L191.6,333.7L192.1,330.1L192.6,326.4L193.1,322.6L194.0,318.9L195.3,315.3L195.2,311.4L195.5,307.6L195.9,303.8L196.0,300.0"/>
<path stroke="#0072bd" d="M158.0,476.0L160.0,472.2L161.6,468.2L163.2,464.2L164.3,460.1L166.0,456.2L166.7,452.1L168.4,448.2L169.2,444.1L170.7,440.2L171.8,436.2L172.8,432.1L174.0,428.1L175.2,424.1L176.0,420.0L176.9,415.9L178.6,412.1L179.4,407.9L180.5,403.9L181.6,399.9L183.6,396.1L185.1,392.2L186.6,388.3L188.0,384.4L189.2,380.3L189.7,376.6L189.7,372.9L190.5,369.4L190.4,365.8L190.2,362.1L190.7,358.5L191.0,354.9L191.8,351.4L192.4,347.8L192.1,344.2L192.7,340.6L193.0,337.0L193.0,333.4L194.0,329.8L194.5,326.1L194.9,322.3L196.0,318.6L196.0,314.8L197.6,311.2L198.2,307.4L199.1,303.7L200.0,300.0"/>
<path stroke="#0072bd" d="M224.2,441.1L226.2,438.1L228.4,435.3L230.4,432.3L233.0,429.7L234.5,426.4L236.8,423.6L239.0,420.9L241.8,418.4L244.8,416.1L247.7,413.7L250.5,411.1L253.4,408.9L256.9,408.3L260.4,407.3L263.7,405.6L267.0,404.3L270.2,402.4L273.9,401.6L276.8,399.1L280.1,397.4L283.5,395.8L286.9,394.1L290.3,392.5L293.7,390.5L297.0,388.6L300.5,386.9L303.8,384.8L306.9,382.4L310.0,380.0"/>
<path stroke="#0072bd" d="M321.0,490.0L322.1,486.3L322.7,482.5L324.1,478.9L325.0,475.1L325.6,471.3L326.6,467.6L327.2,463.8L327.7,459.9L328.3,456.2L328.5,452.3L329.9,448.7L330.3,444.9L330.7,441.0L331.1,437.2L332.1,433.5L332.5,429.7L333.3,426.2L334.0,422.7L334.3,419.0L335.1,415.5L335.4,411.8L335.9,408.2L336.1,404.6L336.6,401.0L337.0,397.3L337.7,393.7L338.4,390.2L339.0,386.6L339.3,382.9L341.9,379.7L343.0,376.0L344.3,372.1L344.8,368.1L345.2,364.0L346.0,360.0"/>
<path stroke="#0072bd" d="M300.0,500.0L300.6,496.5L301.8,493.2L303.3,490.0L304.5,486.7L304.9,483.1L306.3,479.9L307.0,476.4L308.4,473.2L309.0,469.7L310.2,466.0L310.9,462.2L311.9,458.5L313.0,454.7L313.9,450.9L314.8,447.2L315.4,443.3L316.6,439.6L317.7,435.9L318.8,432.2L319.5,428.3L320.3,424.5L321.9,421.0L322.6,417.1L323.9,413.5L324.4,409.5L325.9,406.0L326.8,402.4L328.3,398.9L329.8,395.5L330.9,391.9L331.9,388.3L333.5,384.9L334.4,380.8L335.9,376.8L337.3,372.9L338.4,368.9L340.0,365.0"/>
<path stroke="#0072bd" d="M146.0,516.0L149.5,518.0L153.1,519.9L157.0,521.2L161.0,522.1L164.8,523.4L169.4,522.7L173.0,524.7L176.4,527.0L180.0,529.0L183.7,530.6L186.5,534.3L190.3,535.4L193.6,537.0L197.0,538.6L200.2,540.5L203.8,541.8L207.2,543.5L210.4,545.4L213.7,547.2L216.3,549.7L219.3,551.8L221.9,554.2L224.9,556.3L227.3,559.0L230.1,561.3L233.1,563.3L237.1,564.4L239.0,568.1L241.6,571.0L243.9,574.1L246.3,577.1L248.5,580.5L249.9,584.3L251.6,587.8L253.0,591.4L254.6,594.9L256.1,598.5L257.3,602.2L260.3,605.1L261.9,609.9L264.6,614.4L265.0,619.8L266.1,625.0L267.1,629.0L268.0,633.0"/>
<path stroke="#0072bd" d="M184.2,561.0L187.4,563.5L190.6,566.0L193.7,568.8L196.4,572.1L199.5,575.0L202.8,578.4L206.1,581.8L208.0,584.9L210.7,587.6L212.5,590.7L213.5,595.0L215.5,599.6L218.4,596.6L220.8,593.6L222.5,591.5L223.6,593.9L226.2,596.5L228.1,599.6L230.6,601.9L231.1,606.2L232.5,610.6L233.9,614.9L237.4,616.8L240.9,619.0L245.4,623.6L248.3,627.4L251.7,630.9L256.8,626.9L259.8,625.1L262.2,623.0L265.8,623.6L269.8,624.6L273.2,625.7L276.5,627.1L280.0,628.0"/>
<path stroke="#0072bd" d="M146.0,480.0L149.6,481.6L153.0,483.4L156.4,485.5L160.2,486.7L163.6,488.4L166.5,490.7L169.8,492.6L172.3,495.3L175.7,497.1L178.5,499.8L181.5,502.2L184.6,504.5L187.4,507.1L190.1,509.9L193.2,511.8L195.8,514.2L198.3,516.7L201.1,518.9L203.7,521.3L206.2,523.8L208.7,526.3L210.9,529.1L212.9,532.1L215.4,534.6L217.1,537.9L219.3,540.6L221.3,543.5L223.5,546.3L225.7,549.1L228.4,551.6L230.6,554.4L233.2,556.9L235.8,559.5L238.1,563.0L240.0,566.6L241.3,570.6L243.2,574.3L244.6,578.2L245.5,581.8L246.4,585.4L247.8,588.8L249.3,592.1L250.7,595.5L252.9,599.0L254.5,602.7L256.2,606.4L257.7,610.1L260.1,613.9L262.0,618.0"/>
<path stroke="#0072bd" d="M146.0,495.0L149.2,496.6L152.2,498.7L155.0,500.9L158.0,503.0L161.2,504.6L164.3,506.1L166.7,508.7L170.0,510.3L172.9,512.3L176.0,514.2L179.0,516.1L182.2,517.8L185.2,519.8L188.0,522.6L190.7,525.4L192.8,528.8L195.3,531.8L198.0,534.6L200.2,537.8L202.8,540.4L205.6,542.7L207.8,545.6L210.3,548.3L212.4,551.3L214.8,554.0L217.3,556.6L219.8,559.6L222.2,562.7L224.7,565.7L227.3,568.7L229.7,571.8L232.1,574.9L234.7,577.5L236.3,580.8L238.3,583.8L239.8,587.1L242.1,589.9L243.7,594.1L246.0,597.7L248.5,601.2L251.2,604.6L254.9,608.1L258.0,612.0"/>
<path stroke="#0072bd" d="M146.0,455.0L148.5,457.7L150.8,460.5L153.6,462.9L156.9,464.8L159.8,467.0L162.3,469.8L164.9,472.9L166.9,476.3L169.3,479.5L171.3,482.9L173.0,486.6L174.9,490.0L177.6,492.4L180.1,494.9L182.9,497.1L185.4,499.6L188.2,501.8L190.9,504.1L193.1,506.9L195.9,509.1L198.0,512.0L200.8,514.2L202.7,517.3L204.9,520.2L207.6,522.8L210.7,525.2L213.8,527.4L216.7,530.0L219.8,532.2L222.3,535.5L225.5,538.1L228.3,541.2L230.9,544.4L233.4,547.7L235.7,551.2L238.2,554.5L240.3,558.1L242.5,561.7L244.9,565.1L245.9,568.4L247.4,571.6L248.4,575.1L249.9,578.2L251.0,581.6L252.1,585.0L253.6,588.6L253.9,592.5L255.3,596.2L256.0,600.0"/>
<path stroke="#0072bd" d="M170.0,480.0L171.5,483.4L173.5,486.6L175.1,489.9L177.5,492.9L179.2,496.2L180.6,499.7L182.6,502.9L183.7,506.5L185.1,509.9L186.2,513.6L187.6,517.0L188.6,520.6L190.2,523.8L191.2,527.2L193.1,530.4L194.4,533.7L196.4,536.8L198.0,540.0L200.8,542.9L203.0,546.3L205.4,549.4L207.7,552.7L210.1,555.9L212.8,558.8L215.4,561.8L217.6,565.2L220.8,567.6L223.8,570.2L226.0,573.2L229.1,575.6L231.6,578.5L234.7,580.9L236.7,584.2L239.2,587.0L241.7,590.0L244.5,592.8L246.4,596.2L249.6,598.9L251.5,603.3L252.8,607.9L255.0,612.0"/>
<path stroke="#0072bd" d="M146.0,525.0L148.9,527.9L151.5,531.1L153.7,534.6L156.6,537.6L159.2,541.1L162.8,543.4L166.4,545.5L170.4,546.8L174.2,548.4L178.2,549.6L181.7,551.0L185.2,552.4L188.5,554.2L192.1,555.3L195.4,557.3L198.9,559.7L202.5,561.8L205.7,564.4L209.1,566.9L212.7,569.2L215.5,572.3L218.2,575.4L220.9,578.5L223.3,581.9L226.5,584.6L228.9,587.9L232.0,590.6L234.9,593.6L237.5,596.7L240.4,599.6L242.9,603.1L246.2,605.8L249.5,608.5L252.2,611.8L255.1,614.3L257.6,617.0L260.0,620.0"/>
<path stroke="#0072bd" d="M255.0,612.0L257.5,614.5L260.2,616.8L262.8,619.2L264.7,622.5L268.6,623.4L272.3,624.6L276.0,625.5L279.9,626.3L284.0,625.1L288.0,624.0L291.9,622.9L295.9,622.2L299.8,621.5L303.8,621.0L307.9,621.1L311.9,620.5L315.9,620.2L320.1,620.5L324.2,619.8L328.0,618.2L332.1,617.2L336.0,615.8L339.9,614.9L344.0,614.5L348.0,614.0L351.9,612.8L355.9,612.1L359.9,611.4L363.4,611.0L366.9,610.4L370.2,609.0L373.7,608.6L377.2,607.8L380.6,606.9L384.1,606.3L387.5,605.5L391.8,607.8L395.4,606.4L399.1,605.2L402.8,604.1L406.6,603.7L410.3,602.4L414.3,601.5L418.3,600.3L422.2,599.3L426.3,598.6L430.0,597.3L433.3,595.6L436.9,594.4L440.5,592.9L444.4,590.3L448.3,587.9L452.0,584.9L454.3,581.9L456.2,578.7L458.8,576.2L460.8,573.1L463.1,570.7L464.9,567.6L467.4,564.5L469.8,560.7L471.9,565.5L474.6,569.7L479.4,568.8L483.5,566.8L488.0,565.7L492.0,562.0"/>
<path stroke="#0072bd" d="M258.0,618.0L261.6,620.4L265.3,622.6L269.0,624.9L272.5,626.8L275.7,627.6L279.4,627.4L283.0,627.7L286.5,628.7L290.0,628.7L293.8,628.1L297.8,627.5L301.8,627.2L305.8,626.9L309.8,627.1L313.6,626.7L317.4,626.1L321.2,625.5L325.0,625.3L328.8,624.6L332.5,623.8L336.1,622.7L340.1,621.9L344.1,621.3L348.3,621.6L352.2,620.4L356.2,619.7L360.2,619.0L363.8,617.6L367.6,616.8L371.3,615.8L375.0,615.1L378.8,614.5L382.6,613.9L386.3,613.2L390.1,612.4L393.8,611.3L397.6,610.2L401.5,610.0L405.2,608.9L409.0,608.0L412.7,606.6L416.4,605.7L420.3,604.8L423.8,602.8L427.7,601.7L431.2,599.8L434.7,598.0L438.0,595.7L441.6,594.0L445.0,591.9L448.2,589.8L451.3,587.4L454.8,585.6L458.0,583.4L461.4,581.6L465.5,580.9L469.0,578.4L472.7,576.5L476.5,574.4L480.3,572.6L483.7,570.7L486.7,568.0L490.0,566.0"/>
<path stroke="#0072bd" d="M262.0,608.0L265.3,610.0L268.5,612.0L272.1,613.4L275.3,614.8L279.0,614.8L283.0,614.9L287.0,615.0L291.0,615.2L295.0,615.6L299.0,615.2L303.2,615.4L307.3,615.1L311.2,613.7L315.2,613.2L318.5,611.9L322.0,611.5L325.4,610.1L328.9,609.9L332.4,609.5L335.9,609.0L339.9,608.5L344.0,608.9L348.1,609.0L352.3,610.5L356.3,610.1L360.3,609.2L364.2,608.1L368.0,606.9L371.8,606.0L375.4,604.2L379.2,603.2L383.0,602.2L386.9,601.6L390.8,601.1L394.6,600.1L398.3,598.9L402.2,598.6L406.1,598.2L409.8,597.1L413.7,595.9L417.8,595.1L422.1,594.7L426.2,593.9L430.3,592.8L433.7,591.8L437.0,590.6L440.1,588.7L443.2,587.1L446.6,586.0L449.7,584.4L452.8,582.2L456.3,580.9L459.5,579.0L463.0,577.7L466.4,576.2L469.7,574.5L473.3,572.5L477.1,571.2L480.6,569.1L484.3,567.6L488.0,566.0"/>
<path stroke="#0072bd" d="M250.0,600.0L253.8,602.3L258.0,604.0L262.1,605.7L265.5,604.8L269.1,603.9L272.6,603.3L276.3,603.4L279.8,602.6L283.9,602.7L287.9,602.1L292.0,601.7L296.1,601.5L300.1,600.7L304.1,600.1L308.1,599.4L312.0,598.2L316.0,597.3L319.8,595.9L323.8,595.1L327.8,594.3L331.8,593.7L335.8,593.1L339.6,592.2L343.3,591.0L347.1,590.3L350.9,589.4L354.7,588.7L358.8,588.2L362.9,588.0L366.9,587.1L371.0,586.8L375.0,586.1L379.0,586.1L383.1,586.2L387.1,585.9L391.1,586.4L394.9,587.0L397.7,585.1L401.2,584.1L404.7,583.3L408.1,582.1L411.4,580.7L415.0,579.5L418.9,580.9L422.5,582.4L426.3,583.6L429.9,584.1L433.3,582.4L437.0,580.5L440.8,578.8L444.5,576.5L449.1,576.4L453.4,575.9L457.7,575.6L462.3,576.0L465.9,574.9L469.1,572.7L472.5,571.2L475.8,569.6L479.0,566.9L482.5,564.3L486.4,562.4L490.0,560.0"/>
<path stroke="#0072bd" d="M265.0,590.0L268.9,589.1L273.0,589.2L277.0,588.9L281.0,588.6L285.1,588.2L288.9,586.3L292.5,584.0L296.6,582.7L300.1,580.6L303.4,581.5L307.0,582.6L310.5,583.3L314.2,583.3L317.8,584.1L321.4,584.8L325.1,585.2L328.7,586.0L332.3,586.8L335.8,587.8L339.5,589.1L343.5,589.7L347.2,591.2L351.0,592.4L354.8,594.3L359.1,594.3L363.1,593.9L367.0,593.4L371.1,593.2L375.3,593.3L378.8,591.8L382.3,590.9L385.5,589.3L388.9,588.1L392.0,586.2L395.2,584.5L398.8,582.6L402.2,580.3L406.1,579.1L409.8,576.9L413.8,577.9L417.6,578.3L421.4,578.5L424.9,579.1L428.6,578.3L432.1,576.6L436.3,577.1L440.3,576.6L444.0,574.5L448.0,572.9L452.0,571.3L456.0,569.7L459.1,567.7L461.9,565.4L464.6,562.9L467.3,560.5L470.0,558.0"/>
<path stroke="#0072bd" d="M420.8,497.1L422.4,500.9L423.6,504.7L424.3,508.8L425.4,512.8L426.8,516.6L428.1,520.6L432.3,522.4L436.1,524.5L439.9,526.6L443.8,529.3L447.9,527.8L451.6,527.0L455.3,526.4L458.8,524.7L462.3,523.2L466.0,522.3L469.7,521.5"/>
<path stroke="#0072bd" d="M415.0,505.0L417.7,507.3L420.7,509.3L423.0,512.0L425.6,514.1L429.0,516.2L433.0,517.5L436.6,519.5L440.1,521.5L443.6,520.4L447.2,519.0L451.1,518.3L454.9,517.7L458.7,517.7L462.4,517.3L466.0,516.6L469.7,516.4"/>
<path stroke="#0072bd" d="M336.0,560.0L336.9,556.3L337.6,552.5L338.7,548.8L339.9,545.2L340.4,541.4L341.5,537.7L342.4,534.0L342.8,530.2L343.1,526.3L343.6,522.5L344.4,518.8L345.3,515.1L345.6,511.2L346.9,507.6L347.5,503.8L347.5,499.9L348.6,496.2L348.8,492.4L349.6,488.6L350.5,484.9L351.1,481.1L352.3,477.5L353.3,473.8L353.6,469.9L354.6,466.2L355.3,462.5L356.3,458.8L356.8,455.0L358.2,451.3L358.8,447.6L359.4,443.8L360.0,440.9L360.4,443.8L361.1,447.6L361.6,451.4L362.8,455.0L363.7,458.8L364.6,462.5L365.2,466.3L366.4,469.9L366.6,473.8L367.4,477.5L367.7,481.4L368.1,485.2L369.0,488.9L369.5,492.7L370.7,496.4L372.0,500.5L373.3,496.4L374.3,492.7L375.2,488.9L376.0,485.2L376.2,481.3L377.5,477.7L378.5,474.0L378.9,470.2L380.1,466.5L380.7,462.7L381.8,459.0L382.3,455.2L382.9,451.4L383.8,447.6L383.9,443.7L385.2,440.1L385.9,436.6L387.1,433.3L388.6,430.0L389.7,426.7L390.4,423.2L392.0,420.0"/>
<path stroke="#0072bd" d="M300.0,600.0L301.1,596.3L302.8,592.7L303.6,588.9L304.1,585.0L305.0,581.2L305.5,577.4L305.8,573.4L306.8,569.7L307.8,565.9L309.1,562.3L310.0,558.5L310.9,554.7L312.0,551.0L313.0,547.2L314.3,543.6L315.9,540.0L317.2,536.3L318.1,532.5L319.5,528.9L320.1,525.0L323.0,521.8L323.8,518.0L324.2,514.1L324.8,510.2L325.6,506.4L326.0,502.5L326.6,498.6L328.0,495.0L328.9,491.2L329.0,487.2L330.5,483.6L331.0,479.7L332.2,476.2L334.0,473.1L335.9,470.0L337.8,466.9L339.4,463.6L339.7,461.3L338.8,464.1L339.8,467.8L341.2,471.5L342.5,475.1L344.1,478.7L345.2,482.4L346.1,486.1L347.2,489.8L348.1,493.5L348.9,497.2L349.5,501.0L350.2,504.8L350.8,508.5L351.9,512.2L352.7,516.0L351.8,518.6L352.2,515.7L353.7,511.8L355.5,508.0L356.8,504.0L357.8,499.9L359.0,496.4L360.3,492.9L361.6,489.3L363.2,485.9L364.1,482.3L365.0,478.6L366.0,475.0"/>
<path stroke="#0072bd" d="M350.0,600.0L350.8,596.4L351.9,592.9L353.0,589.4L353.0,585.6L354.0,582.1L354.6,578.4L355.5,574.9L356.9,571.3L357.4,567.5L358.6,563.8L359.1,560.0L360.1,556.3L361.2,552.6L362.2,548.9L362.3,545.1L363.7,541.4L364.0,537.5L365.1,533.8L366.4,530.1L367.4,526.4L368.4,522.6L369.4,518.9L370.5,515.1L371.2,511.4L372.6,508.0L373.6,504.3L374.5,500.7L375.3,497.0L376.8,493.6L377.3,489.8L378.1,486.3L378.9,482.8L380.3,479.6L381.2,476.1L382.6,472.9L385.3,468.8L385.2,473.9L386.6,477.5L388.0,481.2L389.7,484.7L390.6,488.5L390.8,492.4L391.5,496.2L391.6,500.1L391.9,503.9L390.7,508.1L392.2,511.7L393.3,515.3L394.8,518.9L396.2,522.6L397.7,526.2L398.0,528.9L397.5,526.0L397.9,522.2L399.0,518.5L400.0,514.8L401.1,511.1L402.1,507.4L403.4,503.8L403.8,500.0L405.1,496.3L405.6,492.4L406.9,488.7L407.4,484.8L408.2,481.0L408.9,477.2L410.1,473.5L411.3,469.8L413.3,466.3L414.3,462.6L415.7,458.9L417.0,455.3L419.9,452.0L418.9,447.7L419.5,443.9L420.0,440.0"/>
<path stroke="#0072bd" d="M280.0,590.0L281.3,586.4L281.6,582.4L282.4,578.5L284.1,575.1L286.0,571.7L288.1,568.4L289.1,564.7L290.5,561.1L292.3,557.6L293.5,554.0L294.0,550.0L295.8,546.6L296.7,542.8L298.2,539.3L299.7,535.7L301.4,532.3L302.5,528.6L304.3,525.2L305.6,521.5L307.0,518.0L308.4,514.4L310.1,511.2L312.3,508.2L314.1,505.0L315.8,501.9L317.2,498.5L317.9,495.8L318.2,498.8L319.2,502.4L320.2,505.9L321.1,509.5L322.2,513.1L323.0,516.7L323.8,520.3L324.9,523.7L326.4,527.1L327.4,530.7L328.0,534.2L329.5,537.7L330.0,541.3L330.0,544.1L330.4,541.2L331.1,537.5L332.6,534.0L333.4,530.3L334.6,526.8L336.1,523.3L337.2,519.8L338.1,516.0L339.0,512.2L340.2,508.5L341.0,504.7L342.5,501.1L343.6,497.4L345.0,493.7L346.0,490.0"/>
<path stroke="#0072bd" d="M395.0,570.0L395.8,566.5L396.1,562.8L397.0,559.3L396.9,555.5L397.5,551.9L398.8,548.5L399.3,544.9L400.3,541.3L400.9,537.8L401.7,534.2L402.1,530.6L403.2,527.1L403.8,523.5L404.4,519.9L405.6,516.4L406.0,512.8L406.2,509.1L406.3,505.4L406.9,501.8L407.9,498.3L408.6,494.7L409.5,491.1L410.6,487.6L411.5,484.0L412.5,480.5L414.1,477.1L414.9,473.5L416.0,469.4L417.5,473.5L418.3,477.2L418.9,480.8L419.7,484.5L420.8,488.1L421.2,491.8L422.2,495.5L422.5,499.5L423.4,503.3L423.5,507.3L424.2,511.2L425.0,515.3L426.4,511.5L427.3,508.0L428.2,504.3L429.3,500.8L429.4,497.0L430.3,493.4L431.6,489.9L432.6,486.2L433.9,482.7L434.9,479.1L436.3,475.6L437.3,472.0L439.0,468.6L440.0,465.0"/>
<path stroke="#0072bd" d="M240.0,560.0L240.4,556.2L241.1,552.4L242.3,548.8L243.9,545.2L244.9,541.5L248.1,538.2L247.3,534.2L248.0,530.4L248.6,526.6L249.3,522.9L249.6,519.0L250.0,515.2L250.5,511.4L251.9,507.8L252.2,503.9L252.7,500.1L253.4,496.4L254.3,492.7L255.0,488.9L255.7,485.1L256.6,481.4L256.9,477.6L257.1,473.7L258.0,469.6L259.0,473.7L260.0,477.4L261.1,481.1L261.6,484.9L262.0,488.7L262.8,492.4L263.8,496.1L264.4,499.9L265.4,503.6L265.7,507.4L266.5,511.1L266.4,514.9L266.9,518.7L267.4,522.4L268.3,526.1L268.0,529.5L267.7,526.1L268.4,522.4L269.2,518.7L270.1,515.0L271.0,511.3L271.5,507.6L271.8,503.8L272.5,500.1L273.3,496.4L271.8,492.2L273.2,488.5L273.8,484.8L275.1,481.1L275.4,477.3L276.1,473.5L276.9,469.8L277.7,466.0L278.3,462.2L279.2,458.4L280.4,454.7L281.7,451.1L282.4,447.3L284.1,443.7L285.0,440.0"/>
<path stroke="#0072bd" d="M226.0,560.0L226.3,556.2L226.7,552.5L228.1,548.8L228.9,545.1L229.7,541.4L230.6,537.7L231.1,534.0L230.8,530.1L231.2,526.3L231.3,522.5L231.5,518.8L231.4,514.9L232.1,511.2L232.3,507.4L233.1,503.7L234.3,500.0L235.0,496.3L236.2,492.7L236.8,488.9L237.5,485.2L238.1,481.5L238.3,477.7L239.5,474.0L239.7,470.2L239.9,466.4L240.3,462.7L240.9,458.9L241.5,455.2L241.6,451.4L240.7,447.5L241.2,443.7L240.9,439.9L241.0,436.1L242.1,432.4L242.9,428.7L243.7,425.0L244.9,421.3L245.6,417.6L246.4,413.9L247.2,410.2L249.1,406.6L249.5,402.8L249.1,399.0L249.7,395.2L249.2,391.3L249.2,387.5L249.8,383.8L250.0,380.0"/>
<path stroke="#0072bd" d="M206.0,570.0L206.7,566.3L207.7,562.6L208.0,558.8L209.4,555.2L209.8,551.4L209.9,547.6L210.2,543.8L210.5,540.1L210.9,536.3L211.5,532.6L211.8,528.8L211.6,524.9L212.1,521.2L212.9,517.5L213.4,513.7L213.9,510.0L215.0,506.3L215.8,502.6L215.9,498.8L217.0,495.1L217.4,491.4L216.9,487.5L217.1,483.7L217.6,479.9L218.0,476.2L218.1,472.4L218.8,468.7L219.0,464.9L219.9,461.2L219.9,457.3L220.7,453.6L221.2,449.9L221.6,446.1L222.5,442.4L222.9,438.7L224.2,435.0L225.1,431.3L226.0,427.6L227.3,424.0L227.8,420.2L227.7,416.4L228.5,412.7L228.8,408.9L229.3,405.2L229.7,401.4L230.1,397.6L230.5,393.9L231.5,390.2L231.5,386.4L232.2,382.7L232.9,378.9L233.3,375.2L233.7,371.4L234.1,367.6L234.0,363.8L234.0,360.0"/>
<path stroke="#0072bd" d="M300.0,560.0L300.3,556.2L301.0,552.5L301.2,548.6L301.9,544.9L302.6,541.2L303.1,537.4L303.5,533.6L304.0,529.8L305.2,526.2L305.7,522.4L307.2,518.8L307.6,515.0L309.2,511.4L309.5,507.6L310.3,503.9L311.0,500.2L312.0,496.5L312.1,492.6L314.9,489.3L315.3,485.5L315.2,481.6L315.5,477.8L315.9,474.0L316.6,470.3L316.5,466.4L317.6,462.7L317.8,458.9L318.8,455.2L318.7,451.4L319.3,447.6L320.4,443.9L320.9,440.2L321.8,436.4L321.8,432.6L322.0,428.8L322.2,424.9L322.4,421.1L322.3,417.3L323.1,413.5L323.5,409.7L324.6,406.1L324.7,402.2L325.3,398.5L326.6,394.9L327.3,391.1L328.2,387.4L329.4,383.8L329.6,379.9L330.3,376.2L330.8,372.4L331.3,368.6L332.0,364.8L332.8,361.1L333.5,357.3L334.8,353.7L335.9,350.0L336.7,346.2L339.9,343.0L339.7,339.0L340.2,335.2L341.1,331.5L341.9,327.8L341.9,323.9L342.9,320.2L343.3,316.4L344.5,312.7L344.7,308.8L345.3,305.1L346.0,301.3L347.4,297.7L347.7,293.8L348.5,290.1L349.4,286.4L350.1,282.6L350.5,278.7L350.2,274.7L350.6,270.8L352.0,267.2L352.2,263.3L353.0,259.5L354.7,256.0L355.3,252.2L356.6,248.5L357.6,244.8L359.0,241.2L360.0,237.4L361.3,233.8L362.0,230.0"/>
<path stroke="#0072bd" d="M270.0,492.0L272.1,488.8L274.8,486.1L276.6,482.7L279.0,479.7L280.9,476.4L283.0,473.2L284.9,469.9L286.7,466.7L288.6,463.6L290.6,460.6L292.4,457.5L294.1,454.2L296.0,451.1L296.9,447.4L299.3,444.6L301.5,441.4L304.0,438.4L306.5,435.3L308.6,432.1L310.9,428.9L314.7,426.7L316.6,423.7L317.8,420.2L317.1,415.4L318.8,412.2L320.8,409.3L323.3,406.3L325.4,403.0L327.3,399.6L328.9,395.9L331.4,392.4L332.8,388.5L334.8,384.9L335.7,381.5L337.0,378.2L338.4,375.0L340.0,371.8L340.9,368.3L342.0,365.0"/>
<path stroke="#0072bd" d="M282.0,515.0L283.5,511.8L284.9,508.6L286.1,505.2L287.4,501.9L289.0,498.8L290.5,495.6L292.0,492.4L293.5,489.3L295.7,486.0L298.0,482.6L300.4,479.4L302.4,476.0L304.4,472.5L306.0,468.9L307.6,465.3L308.4,461.4L309.7,457.7L311.3,454.1L312.4,450.3L313.9,446.7L315.3,443.1L319.2,440.6L320.4,437.0L321.3,433.3L323.1,430.0L323.9,426.3L325.7,423.0L327.3,419.6L328.6,416.2L330.7,413.0L332.2,409.6L333.4,406.1L335.6,402.9L336.6,399.4L338.2,396.2L340.6,393.3L341.7,389.9L343.7,386.8L344.5,383.3L346.0,380.0"/>
<path stroke="#0072bd" d="M294.0,534.0L295.2,530.4L296.9,527.0L298.7,523.7L300.3,520.3L302.0,516.9L303.0,513.2L305.2,510.1L306.5,506.5L308.0,503.1L309.3,499.5L310.2,495.8L314.2,493.5L314.9,489.6L316.2,486.1L317.7,482.6L317.1,478.2L319.2,475.0L321.0,471.7L322.4,468.2L323.8,464.7L326.0,461.6L327.6,457.9L329.6,454.3L331.1,450.6L333.0,447.0L334.5,443.3L336.2,439.7L337.5,436.2L338.8,432.7L339.4,428.9L340.8,425.4L341.5,421.7L342.9,418.1L343.7,414.5L344.8,410.9L346.5,407.4L348.1,403.9L349.2,400.4L350.6,397.2L352.2,393.9L353.2,390.5L353.6,386.8L354.6,383.3L356.0,380.0"/>
<path stroke="#0072bd" d="M311.0,544.0L312.4,540.5L314.0,537.1L315.5,533.6L316.3,529.9L318.2,526.5L319.5,523.0L320.9,519.5L322.3,515.9L324.1,512.4L326.1,509.0L327.6,505.4L329.0,501.8L330.9,498.3L332.7,494.9L336.0,492.0L336.9,488.3L338.7,484.9L340.9,481.6L342.1,477.9L343.7,474.4L344.8,470.7L345.8,467.0L347.5,463.5L348.1,459.7L349.8,456.3L351.0,452.7L352.2,449.1L353.4,445.4L354.4,441.7L354.5,438.1L355.1,434.5L355.5,430.9L356.2,427.4L356.8,423.8L357.8,420.4L358.9,416.5L359.6,412.4L360.6,408.3L361.3,404.1L362.0,400.0"/>
<path stroke="#0072bd" d="M319.0,482.0L320.5,478.7L321.5,475.2L322.3,471.7L323.4,468.3L324.2,464.7L325.2,461.3L326.0,457.9L327.4,454.6L328.3,451.2L330.1,448.1L330.9,444.6L332.4,441.3L333.8,438.0L335.3,434.7L336.6,431.4L337.8,428.0L339.5,424.8L341.2,421.6L342.8,418.4L344.0,415.0L345.0,411.5L346.5,408.3L348.0,405.0L350.1,401.4L351.9,397.7L353.0,393.6L355.0,390.0"/>
<path stroke="#0072bd" d="M362.0,523.0L363.6,519.3L365.1,515.5L367.0,511.8L368.6,508.1L370.3,504.4L371.2,500.4L372.5,496.9L373.8,493.3L374.8,489.7L375.4,486.0L376.0,482.2L377.5,478.8L378.1,475.0L379.5,471.7L380.2,468.2L381.1,464.8L382.0,461.3L383.4,458.0L384.0,454.4L385.0,451.2L386.7,454.2L388.9,457.1L391.0,460.5L393.6,457.4L395.8,454.6L398.4,451.7L399.6,448.0L400.7,444.5L402.1,441.0L403.5,437.6L404.6,434.1L405.4,430.4L406.5,426.4L407.8,422.4L408.8,418.4L409.6,414.2L411.1,410.4L412.0,406.9L412.8,403.4L414.0,400.0L415.0,395.9L416.5,392.0L417.5,388.0L418.3,383.9L420.0,380.0"/>
<path stroke="#0072bd" d="M368.0,544.0L369.4,540.7L370.1,537.1L371.1,533.6L372.1,530.1L373.5,526.8L374.7,523.4L375.4,519.8L377.0,516.4L378.3,512.9L380.1,509.5L381.3,506.0L383.0,502.6L384.5,499.1L385.3,495.4L386.4,491.8L386.8,488.0L387.2,484.2L388.1,480.6L388.7,476.8L389.2,473.0L390.0,469.4L391.1,465.8L392.6,462.3L393.9,458.8L394.9,455.2L396.5,451.8L397.6,448.2L399.2,444.8L400.4,441.2L401.1,437.5L402.7,434.1L403.6,430.4L405.0,426.9L405.7,423.2L406.8,419.6L408.3,415.7L410.3,412.0L411.5,408.0L413.1,404.1L414.0,400.0"/>
<path stroke="#0072bd" d="M342.0,466.0L343.0,469.9L343.5,474.0L343.8,478.1L347.7,482.2L349.0,486.5L351.4,490.3L352.5,494.1L354.2,497.8L355.7,501.6L357.8,505.1L359.2,508.9L360.5,512.7L362.0,516.5L363.5,520.2L365.1,523.4L366.6,526.7L368.0,530.0L369.5,533.3L371.0,536.5L372.0,540.0"/>
<path stroke="#0072bd" d="M371.0,431.0L372.0,435.0L373.0,438.9L374.8,442.7L375.7,446.7L375.4,449.7L377.3,447.2L380.6,444.5L384.3,442.2L387.7,439.7L390.7,437.1L394.2,434.8L396.7,431.8L399.7,429.2L402.1,425.8L403.9,422.5L405.3,419.3L407.3,416.3L409.0,413.3L409.7,409.7L411.1,406.4L412.5,403.2L414.0,400.0"/>
<path stroke="#0072bd" d="M330.0,560.0L331.3,556.5L332.6,553.0L333.7,549.4L335.2,545.9L336.3,542.3L337.5,538.8L338.1,535.0L339.9,531.7L340.5,527.9L341.6,524.3L343.2,520.9L344.5,517.4L345.6,513.8L346.7,510.2L348.1,506.7L348.6,502.9L348.7,499.0L349.9,495.5L351.2,492.0L352.8,488.5L353.9,485.0L355.3,481.2L357.2,477.6L359.2,474.0L359.9,471.1L359.5,474.5L360.9,478.5L361.9,482.5L363.4,486.4L366.0,491.6L368.5,486.4L369.4,482.3L371.1,478.5L371.8,474.3L372.0,470.0L373.1,466.6L373.6,462.9L374.7,459.5L376.1,456.2L377.5,452.9L378.9,449.6L380.9,446.3L382.6,443.0L383.8,439.4L385.1,435.9L386.3,432.3L386.8,428.6L388.0,425.0"/>
<path stroke="#0072bd" d="M380.0,560.0L380.6,556.3L382.0,552.8L383.1,549.2L385.2,545.9L386.5,542.4L388.2,539.0L389.6,535.5L390.6,531.9L391.2,528.1L391.5,524.3L392.5,520.7L393.5,517.1L394.0,513.3L395.4,509.8L396.1,506.1L397.8,502.7L399.1,499.2L400.3,495.6L401.6,492.1L402.7,488.5L403.8,484.9L405.3,481.2L407.5,477.7L408.9,473.9L409.9,470.8L410.6,474.2L411.9,478.2L412.9,482.2L414.4,486.1L416.0,490.2L415.2,485.4L416.4,481.4L418.0,477.5L419.6,473.6L421.2,469.7L422.8,466.3L424.9,463.1L426.2,459.5L427.4,456.0L426.6,451.8L428.2,448.4L428.7,444.6L429.7,441.0L432.7,438.0L433.6,434.3L434.4,430.7L435.4,427.0L437.0,423.6L438.0,420.0"/>
<path stroke="#0072bd" d="M400.0,540.0L400.8,536.3L401.8,532.7L402.9,529.1L404.3,525.6L405.1,522.0L406.1,518.3L406.9,514.7L408.3,511.2L409.8,507.7L411.3,504.3L413.0,500.8L414.1,497.3L415.5,493.8L416.7,490.2L417.5,486.5L418.2,482.8L419.5,479.3L420.5,475.7L421.9,472.2L422.4,468.4L424.2,465.1L425.3,461.6L426.7,458.3L428.1,455.1L430.3,452.1L431.3,448.6L431.8,446.2L432.3,449.2L434.3,452.8L435.3,456.7L438.1,460.8L440.4,456.4L441.4,452.3L442.7,448.3L444.0,444.4L445.1,440.4L445.9,436.7L447.1,433.1L448.3,429.6L449.2,425.9L449.8,422.2L450.6,418.5L452.0,415.0"/>
<path stroke="#0072bd" d="M430.0,520.0L430.8,515.9L432.0,511.9L433.9,508.1L435.5,504.2L436.5,500.2L437.9,496.2L439.0,492.2L440.4,488.2L441.2,484.1L442.7,480.2L443.6,476.1L444.9,472.2L445.9,468.1L447.2,464.1L447.6,459.9L449.0,456.6L450.1,453.3L451.0,449.8L451.8,446.4L453.0,443.1L455.1,439.2L457.3,443.4L458.3,447.2L459.8,450.9L459.9,454.0L460.6,450.8L462.3,447.0L463.8,443.1L464.8,439.0L466.4,435.1L467.9,431.4L468.5,427.5L469.5,423.6L470.5,419.8L470.8,415.8L472.0,412.0"/>
<path stroke="#0072bd" d="M300.0,600.0L301.0,596.6L302.7,593.4L304.0,590.0L305.3,586.6L306.4,583.2L308.3,580.1L309.2,576.6L310.4,573.2L312.0,570.0L313.2,566.2L315.3,562.8L316.6,559.0L318.2,555.4L320.0,551.8L322.2,548.5L324.3,545.1L326.2,541.6L327.9,538.1L330.4,534.9L331.6,531.1L334.6,528.1L335.2,524.0L336.5,520.3L337.8,516.9L339.2,513.6L340.6,510.3L342.1,507.0L344.0,503.9L346.2,501.1L347.9,498.0L350.8,495.2L352.7,491.8L354.7,488.4L356.7,485.1L358.5,481.6L360.0,478.0"/>
<path stroke="#0072bd" d="M528.0,110.0L527.4,114.0L526.6,118.0L525.4,122.0L524.7,126.0L524.3,130.1L523.0,134.0L522.3,138.0L521.7,142.0L521.3,146.1L520.4,150.1L519.9,153.7L518.8,157.2L518.6,160.9L517.3,164.3L517.2,168.0L515.9,171.5L515.1,175.0L514.6,178.6L513.9,182.2L513.4,185.8L512.4,189.3L512.2,193.0L511.6,196.6L511.1,200.2L510.5,203.8L510.0,207.4L509.1,211.0L508.3,214.5L507.0,218.0L506.1,221.5L505.0,225.0"/>
<path stroke="#0072bd" d="M535.0,112.0L534.2,115.8L533.8,119.6L533.0,123.4L532.3,127.2L531.9,131.1L531.1,134.9L530.3,138.4L530.0,142.0L529.3,145.6L528.1,149.0L527.9,152.7L526.8,156.1L526.3,159.7L525.9,163.3L524.9,166.8L524.8,170.6L524.3,174.2L524.3,178.0L523.9,181.7L523.0,185.2L522.2,188.8L521.3,192.4L519.3,195.7L518.3,199.2L517.4,202.8L516.2,206.3L516.0,210.0"/>
<path stroke="#0072bd" d="M520.0,115.0L519.4,119.0L518.8,123.1L517.4,127.0L516.3,130.9L515.0,134.8L514.8,138.5L513.6,141.9L513.3,145.6L513.0,149.2L512.9,152.8L513.0,156.5L512.2,160.0L511.8,163.7L511.3,167.3L510.1,170.8L508.9,174.2L507.6,177.7L506.5,181.2L505.5,184.7L504.4,188.2L504.1,191.9L504.0,195.5L504.5,199.3L504.5,202.9L504.6,206.6L503.9,210.2L503.2,213.8L503.1,217.4L502.3,221.0L501.4,224.5L500.1,228.0L499.3,231.6L498.0,235.0"/>
<path stroke="#0072bd" d="M540.0,120.0L539.5,123.6L539.4,127.1L538.9,130.7L538.8,134.3L539.0,137.9L539.0,141.5L538.2,145.0L537.7,148.6L537.6,152.2L537.3,155.8L537.1,159.4L536.6,163.0L536.8,166.6L536.4,170.2L535.2,173.7L534.2,177.3L533.7,180.9L532.9,184.4L532.1,188.0L529.0,191.1L528.5,194.7L528.4,198.4L527.2,201.9L526.7,205.5L525.7,209.0L525.8,212.7L525.5,216.4L525.0,220.0"/>
<path stroke="#0072bd" d="M510.0,118.0L509.6,121.7L509.6,125.4L508.8,129.0L508.3,132.6L507.9,136.3L507.7,140.0L507.0,143.5L506.6,147.1L506.0,150.6L506.1,154.3L506.2,157.9L507.6,161.7L506.8,165.3L505.7,168.9L504.8,172.4L503.9,175.9L502.7,179.4L501.6,182.9L500.9,186.5L500.0,190.0"/>
<path stroke="#0072bd" d="M545.0,130.0L544.7,133.6L544.4,137.1L543.7,140.7L543.2,144.2L542.3,147.8L542.8,151.4L542.1,154.9L542.3,158.4L541.9,162.0L542.0,165.6L541.8,169.2L542.1,172.9L542.5,176.6L541.6,180.1L541.2,183.7L540.7,187.3L540.1,190.8L539.7,194.4L539.0,198.0L538.5,201.6L537.2,205.0L537.3,208.7L536.0,212.2L534.8,215.6L534.6,219.3L533.8,222.8L533.0,226.3L533.0,230.0"/>
<path stroke="#0072bd" d="M530.0,104.0L533.4,105.2L536.5,107.2L539.7,108.3L540.9,111.7L542.7,115.0L544.0,118.6L545.7,121.9L545.8,126.1L547.6,130.0L550.2,133.5L552.0,137.3L554.4,141.1L556.7,144.5L559.5,147.2L562.6,149.7L565.6,152.4L569.0,154.8L572.1,157.3L575.1,160.2L578.0,163.0L582.0,164.5L585.9,166.6L590.0,168.2L593.8,167.3L597.5,166.7L601.2,165.7L605.0,165.0"/>
<path stroke="#0072bd" d="M527.0,120.0L530.0,122.0L532.4,124.6L534.8,127.2L537.1,129.9L538.7,133.6L540.0,137.3L541.2,141.0L542.9,144.6L545.0,148.0L547.0,151.7L548.9,155.3L550.9,159.0L552.6,162.6L555.1,165.5L557.4,168.7L560.2,171.4L562.8,174.2L565.7,176.7L569.2,178.5L571.9,181.4L574.6,184.0L578.2,185.4L581.5,187.4L585.1,189.0L588.1,190.6L591.8,190.0L595.8,188.7L600.0,188.0"/>
<path stroke="#0072bd" d="M533.0,103.0L535.9,106.1L537.7,110.3L540.7,112.9L542.6,116.0L544.3,119.6L546.4,123.0L548.0,126.6L549.6,130.2L550.9,133.5L552.5,136.8L553.6,140.2L555.5,143.3L556.8,146.8L559.8,149.6L562.1,152.7L564.6,155.7L567.0,158.9L570.0,162.0L572.9,165.1L575.8,168.2L579.2,171.2L583.1,172.5L586.6,173.8L590.3,175.0L594.0,176.3L598.0,175.1L602.1,174.4L606.1,173.4L610.0,172.0"/>
<path stroke="#0072bd" d="M685.4,151.8L682.0,153.2L678.7,154.8L675.0,155.6L671.5,157.3L668.7,159.7L666.2,162.2L663.8,164.8L661.1,167.1L659.0,170.9L656.3,174.1L654.1,177.7L651.2,180.6L648.3,183.1L645.3,185.6L642.2,187.8"/>
<path stroke="#0072bd" d="M690.0,145.0L686.5,147.1L683.0,149.2L679.0,150.8L675.8,153.5L673.4,156.7L670.3,159.6L668.0,163.4L666.7,167.4L665.6,171.6L664.4,175.5L663.2,179.4L661.2,182.9L659.8,186.8L657.1,190.2L654.6,193.6L652.5,197.3L650.3,201.0L647.5,204.6L642.9,206.4L639.6,208.8L638.1,213.6L637.2,218.2L636.7,222.5L636.6,226.7L636.7,230.9L638.0,235.7L636.3,240.2L634.4,243.9L631.5,247.1L629.3,250.6L626.9,253.6L624.4,256.5L622.0,259.5L620.1,264.3L617.9,268.8"/>
<path stroke="#0072bd" d="M640.8,182.4L643.1,179.6L645.7,177.1L648.4,174.7L650.6,171.8L653.6,169.7L656.3,167.3L658.8,164.7L661.1,161.9L664.5,159.8L667.7,157.5L671.4,155.9L674.6,152.9L678.2,150.6L681.6,147.8"/>
<path stroke="#0072bd" d="M651.0,174.3L653.6,171.5L656.4,168.9L659.1,166.1L662.2,163.8L665.0,161.1L668.1,158.9L671.3,156.0L674.5,153.0L677.6,149.8"/>
<path stroke="#0072bd" d="M661.2,200.0L662.2,196.5L662.9,193.0L663.9,189.5L664.7,186.0L666.0,182.6L667.5,179.4L669.0,176.0L670.2,172.5L671.7,169.2L673.0,165.8L674.3,162.4L676.3,159.4L677.9,156.1L679.8,153.0L681.6,149.8"/>
<path stroke="#0072bd" d="M655.1,200.0L656.1,196.4L656.9,192.7L658.4,189.3L659.8,185.9L660.9,182.2L664.2,179.2L666.2,175.2L668.6,171.6L671.4,168.2"/>
<path stroke="#0072bd" d="M586.0,190.0L585.0,193.6L583.8,197.2L582.5,200.7L579.9,203.8L579.5,207.6L579.1,211.4L577.7,214.9L576.6,218.5L575.2,222.0L574.1,225.6L572.3,228.9L570.8,232.4L569.6,235.9L568.7,239.6L568.0,243.3L566.8,246.8L566.6,250.7L566.3,254.6L565.0,258.1L564.1,261.7L563.0,265.3L562.4,268.9L561.2,272.4L560.2,275.9L559.0,279.4L557.5,282.8L556.8,286.4L555.9,290.0L554.9,293.6L554.0,297.2L551.9,300.5L551.6,304.4L550.5,307.9L549.9,311.7L548.7,315.2L547.7,318.8L547.1,322.6L545.6,326.0L544.2,329.5L543.4,333.2L542.3,336.8L540.9,340.3L539.4,344.2L537.7,348.0L535.8,351.8L534.8,355.9L534.0,360.0"/>
<path stroke="#0072bd" d="M578.0,185.0L576.7,189.0L574.9,192.8L572.9,196.5L572.3,200.7L571.4,204.8L570.6,208.4L569.7,212.0L568.2,215.4L567.4,219.0L566.5,222.6L565.7,226.1L564.8,229.7L563.5,233.2L562.8,236.8L562.5,240.5L562.1,244.2L561.5,247.8L561.4,251.6L560.5,255.1L559.8,258.8L558.8,262.4L557.4,265.8L555.7,269.2L554.1,272.6L553.0,276.2L551.7,279.6L550.6,283.2L549.4,286.7L548.1,290.2L546.9,293.8L546.1,297.5L544.8,301.0L543.8,304.6L542.7,308.2L542.0,311.9L540.8,315.5L540.0,319.1L539.1,322.8L537.8,326.3L537.0,330.0"/>
<path stroke="#0072bd" d="M592.0,186.0L591.5,190.0L591.0,194.1L589.6,197.9L590.9,202.3L589.2,206.1L588.6,210.1L587.9,213.7L586.8,217.2L586.2,220.8L586.2,224.5L586.0,228.2L584.9,231.7L584.3,235.3L583.7,239.0L582.4,242.5L580.6,245.9L579.2,249.3L578.0,252.9L577.3,256.5L575.8,260.0L575.4,263.6L574.0,267.1L573.1,270.6L573.0,274.4L571.6,277.8L571.0,281.5L570.3,285.1L569.1,288.6L567.7,292.1L566.8,295.8L565.2,299.2L564.1,302.8L562.5,306.2L561.7,309.9L560.6,313.5L559.6,317.1L558.6,320.7L557.4,324.3L556.7,328.0L555.4,331.5L553.8,334.9L552.7,338.3L551.6,341.7L550.7,345.1L549.4,348.4L548.3,351.7L547.0,355.0"/>
<path stroke="#0072bd" d="M600.0,182.0L599.5,185.9L599.1,189.7L598.2,193.5L597.5,197.4L597.3,201.3L596.0,205.0L595.7,208.7L594.5,212.2L593.0,215.6L592.1,219.2L590.4,222.6L589.7,226.2L588.5,229.7L587.6,233.2L587.0,236.8L586.2,240.4L586.3,244.2L585.2,247.7L584.7,251.4L584.3,255.1L582.8,258.5L581.8,262.0L581.0,265.6L579.8,269.1L579.2,272.7L577.7,276.2L577.0,279.7L576.1,283.1L574.5,286.3L573.8,289.9L572.8,293.4L571.6,296.8L570.0,300.0"/>
<path stroke="#d95319" d="M146.0,78.0L149.6,78.4L153.5,78.5L156.3,82.6L158.5,85.1L160.6,87.7L163.4,89.5L166.3,92.0L171.4,92.3L174.1,92.7L176.9,94.0L179.7,97.5L181.8,101.4L185.3,104.2L188.7,106.7L188.4,110.4L188.6,114.2L189.6,118.3L191.2,122.2L191.8,125.6L193.9,128.7L195.6,132.0L197.3,135.8L198.8,139.7L198.6,143.4L198.8,147.1L198.4,150.9L199.2,154.1L200.0,157.2L201.4,160.1L202.0,163.2L203.5,166.0L204.8,168.9L206.2,171.8L208.2,174.4L209.0,177.5L210.7,180.2L211.4,183.3L213.2,186.0L214.8,188.8L215.7,191.8L217.1,194.7L217.9,197.8L219.7,200.5L220.2,203.7L221.8,206.4L223.7,209.1L225.5,211.9L226.3,214.9L226.7,217.9L227.8,220.8L228.1,223.8L228.5,226.8L229.5,229.6L229.9,232.6L231.2,235.4L231.7,238.3L231.8,241.4L232.3,244.3L232.6,247.3L233.7,250.2L233.7,253.3L233.6,256.4L233.6,259.5L233.1,262.7L234.2,265.6L233.9,268.7L234.6,271.7L235.6,274.7L236.5,277.7L236.3,280.8L236.9,283.8L238.2,286.7L237.7,289.9L238.2,293.0L237.8,296.1L237.3,299.2L237.8,302.3L237.4,305.4L237.2,308.5L238.2,311.6L238.6,314.6L239.1,317.7L239.6,320.7L240.0,323.8L240.2,326.9L240.8,329.9L241.3,333.0L241.8,336.0L240.7,339.3L241.2,342.3L240.7,345.5L240.6,348.6L240.3,351.7L240.8,354.8L240.7,357.9L241.2,361.0L242.0,364.0L243.2,367.0L243.4,370.1L243.4,373.2L244.4,376.2L244.2,379.3L245.5,382.3L246.8,385.3L248.2,388.2L248.8,391.3L248.4,394.4L248.3,397.5L248.8,400.6L248.1,403.8L248.0,406.9L247.5,410.1L247.1,413.2L247.4,416.3L247.2,419.4L247.9,422.4L248.5,425.5L249.1,428.5L249.1,431.6L250.0,434.7L250.5,437.7L250.7,440.8L250.6,443.9L251.1,447.0L251.6,450.0L253.0,453.0L253.7,456.0L252.9,459.2L253.0,462.3L253.4,465.4L254.3,468.4L254.2,471.5L255.1,474.5L255.4,477.6L255.0,480.8L255.7,483.8L256.5,486.8L256.0,490.0L255.8,493.1L256.7,496.1L256.3,499.3L255.8,502.4L257.8,505.3L257.4,508.5L257.5,511.5L257.1,514.7L257.3,517.7L257.2,520.9L257.5,523.9L257.0,527.1L257.9,530.1L257.7,533.2L258.4,536.2L258.7,539.3L259.9,542.3L260.5,545.4L260.5,548.5L261.3,551.5L261.6,554.6L261.1,557.7L261.4,560.8L261.2,563.9L260.7,567.0L261.0,570.1L261.4,573.1L261.2,576.2L260.9,579.4L261.0,582.5L261.4,585.5L259.1,588.8L259.4,591.9L260.6,594.9L260.7,597.9L261.6,601.0L262.0,604.0L262.2,607.1L262.6,610.3L263.0,613.4L263.9,616.3L265.4,619.2L266.4,622.1L267.7,625.0L268.0,628.0"/>
<path stroke="#d95319" d="M146.0,80.6L149.5,81.3L152.7,83.2L157.4,81.8L160.8,84.3L160.6,89.8L164.4,91.0L167.7,92.8L169.4,95.6L171.4,98.2L173.0,101.0L172.8,104.6L174.7,107.1L176.2,110.0L180.8,113.7L185.2,117.5L185.5,120.9L187.0,123.9L188.8,126.4L190.1,129.2L191.1,132.1L193.9,135.7L196.2,139.4L198.7,140.9L201.5,142.5L204.1,144.5L207.1,145.8L209.6,148.0L212.5,149.8L214.6,152.8L216.2,155.9L217.8,158.9L219.8,161.8L221.7,164.6L224.2,167.0L226.7,168.9L229.5,170.2L231.9,171.8L234.0,174.5L236.7,176.8L240.1,178.4L242.4,181.0L245.7,182.8L248.6,185.4L250.6,188.5L252.1,192.0L254.6,194.9L255.5,198.0L257.0,200.7L258.0,203.6L259.1,206.5L260.6,209.2L261.7,212.1L262.3,215.3L263.8,218.1L264.5,221.2L265.8,224.1L266.4,227.3L267.3,230.4L268.7,233.2L269.5,236.0L270.3,238.9L270.2,241.9L271.7,244.7L272.0,247.7L272.2,250.7L272.9,253.6L273.3,257.0L274.2,260.3L274.1,263.8L274.2,267.2L274.5,270.7L275.0,274.1L276.3,277.2L276.6,280.4L277.2,283.6L278.4,286.7L279.0,289.9L278.5,293.0L279.3,296.1L278.6,299.2L279.6,302.2L279.8,305.3L279.6,308.4L279.2,311.5L279.9,314.6L279.7,317.7L279.5,320.8L279.6,323.8L279.4,326.9L279.0,330.1L278.2,333.2L278.7,336.4L278.3,339.5L279.5,342.6L279.9,345.7L280.5,348.8L281.0,351.9L281.0,355.0L281.7,358.1L282.1,361.2L282.4,364.4L282.5,367.5L283.1,370.6L283.2,373.7L283.2,376.8L284.2,379.9L284.5,383.0L284.4,386.2L283.8,389.4L284.4,392.5L284.1,395.6L284.5,398.7L285.3,401.8L285.0,405.0L285.8,408.1L286.2,411.2L285.8,414.3L287.0,417.4L287.4,420.5L287.4,423.6L287.4,426.8L287.8,429.9L287.3,433.1L286.8,436.2L287.1,439.3L286.7,442.5L287.0,445.6L287.3,448.7L286.4,451.9L286.6,455.1L286.7,458.2L286.9,461.3L286.3,464.5L286.2,467.6L286.6,470.7L287.1,473.8L287.7,476.9L287.2,480.1L287.6,483.2L288.4,486.3L289.0,489.4L289.2,492.5L289.0,495.6L289.6,498.8L290.3,501.9L291.2,505.0L292.2,508.0L292.2,511.2L292.5,514.3L292.8,517.4L291.5,520.6L291.5,523.7L290.7,526.9L290.1,530.0L289.6,533.2L290.2,536.3L289.7,539.4L290.6,542.5L291.3,545.6L292.0,548.7L293.0,551.8L293.5,554.9L293.7,558.1L293.7,561.2L293.7,564.3L294.1,567.4L294.7,570.5L294.3,573.7L295.4,576.8L295.3,580.0L296.5,583.3L296.0,586.5L295.8,589.6L294.4,592.8L293.8,595.9L294.0,599.1L293.2,602.3L293.8,605.5L293.3,608.7L292.9,611.8L291.3,614.9L290.3,618.0L289.8,621.4L289.4,624.9L288.0,628.0"/>
<path stroke="#d95319" d="M146.0,83.7L151.0,86.8L154.1,88.3L156.7,90.4L159.3,94.1L160.9,97.5L161.7,101.0L164.3,104.6L165.0,109.4L167.0,112.2L168.1,115.6L170.2,118.8L173.5,120.7L176.2,123.0L179.5,127.0L180.8,128.3L181.9,131.4L183.8,134.4L185.1,137.8L187.1,141.0L189.3,143.7L190.5,146.8L192.6,149.4L194.1,152.5L196.2,154.9L197.5,157.9L199.9,160.0L201.9,162.5L203.9,165.0L205.8,167.5L206.7,170.7L208.9,173.2L209.6,176.5L210.7,179.5L213.5,181.6L214.5,184.8L214.4,188.2L215.1,191.2L216.3,194.0L217.8,196.7L218.6,199.7L219.8,202.6L221.4,205.2L222.8,208.0L224.0,210.8L225.1,213.7L226.3,216.6L227.7,219.3L229.8,221.7L231.1,224.6L232.5,227.6L234.0,230.6L235.1,233.7L235.6,237.0L236.1,240.3L236.5,243.6L237.8,246.6L238.2,249.9L238.5,253.2L239.3,256.4L240.7,259.4L240.2,262.9L242.0,265.7L243.3,268.7L244.6,271.7L245.2,275.0L245.9,277.9L246.6,281.0L247.7,283.9L248.5,286.8L248.6,290.0L249.7,292.9L250.2,295.9L250.7,299.0L251.3,302.0L251.6,305.1L251.9,308.3L252.6,311.4L253.4,314.6L254.0,317.8L254.2,321.0L254.9,324.2L255.2,327.4L254.7,330.7L255.2,333.9L256.3,337.0L256.4,340.2L256.8,343.3L257.6,346.3L257.5,349.4L258.1,352.5L258.4,355.6L257.7,358.8L258.3,361.8L259.2,364.8L259.5,367.9L259.5,371.1L260.3,374.1L260.7,377.2L263.3,380.0L263.0,383.1L263.4,386.2L263.1,389.3L264.1,392.3L264.2,395.4L264.4,398.5L265.3,401.5L265.0,404.7L265.2,407.7L266.3,410.7L267.3,413.8L267.3,416.9L268.0,419.9L269.1,422.9L269.8,425.9L270.1,429.0L270.1,432.1L269.5,435.3L269.3,438.4L269.5,441.5L268.9,444.7L268.9,447.8L269.6,450.8L269.4,453.9L270.0,457.0L270.4,460.1L270.2,463.2L270.1,466.3L270.1,469.3L270.2,472.4L271.2,475.5L271.7,478.5L271.8,481.6L272.9,484.6L273.6,487.7L274.0,490.7L274.4,493.8L273.8,496.9L273.5,500.0L274.1,503.1L273.2,506.2L273.3,509.3L272.6,512.5L273.3,515.5L273.9,518.6L275.0,521.6L275.3,524.7L276.7,527.6L277.1,530.7L278.0,533.7L278.7,536.8L279.3,539.9L278.6,543.0L278.3,546.1L278.3,549.2L277.2,552.3L277.9,555.4L277.5,558.5L277.3,561.6L278.0,564.6L278.4,567.7L278.9,570.8L280.4,573.8L280.5,576.8L280.6,579.9L280.5,583.0L280.7,586.0L280.0,589.0L279.5,592.0L279.9,595.0L279.5,598.0L278.8,601.0L278.9,604.0L280.9,607.0L280.6,610.0L280.2,613.0L280.1,616.0L280.4,619.0L280.6,622.0L280.0,625.0"/>
<path stroke="#d95319" d="M146.0,86.7L149.0,88.0L152.3,88.7L155.4,91.2L157.9,94.3L159.9,97.9L161.3,101.9L164.0,105.1L165.6,108.9L167.1,112.4L169.2,115.9L172.2,120.1L174.9,121.8L177.4,123.4L180.2,124.6L183.6,125.0L187.1,125.6L190.4,126.2L193.4,127.3L196.8,127.3L200.1,128.0L204.0,128.3L208.0,129.4L210.6,132.0L213.4,134.1L215.1,137.3L217.4,140.0L219.9,142.4L222.4,145.5L225.4,147.7L228.4,149.9L230.7,152.3L234.1,153.1L235.1,156.0L237.0,158.3L238.5,161.0L240.5,163.3L241.4,166.2L243.4,168.5L244.8,171.2L246.6,174.1L248.2,177.2L250.1,180.0L251.9,182.9L253.7,185.9L255.9,188.5L257.7,191.3L259.8,193.9L262.1,196.3L263.4,198.8L264.2,201.4L264.2,204.6L266.1,207.5L267.3,210.4L271.2,212.8L272.5,215.9L272.5,219.5L272.7,222.9L273.6,226.2L273.1,229.7L274.0,233.0L270.7,236.7L271.9,240.0L272.4,243.0L273.6,245.9L273.5,248.9L273.7,252.0L273.9,255.0L273.2,258.1L273.4,261.1L273.1,264.1L272.8,267.2L273.2,270.2L273.4,273.2L274.3,276.1L274.1,279.2L274.6,282.2L275.5,285.1L275.5,288.1L275.4,291.2L276.0,294.1L276.5,297.1L278.1,300.0L278.5,303.1L279.4,306.1L279.9,309.1L280.2,312.2L279.7,315.3L280.2,318.4L279.2,321.6L278.9,324.7L278.7,327.8L279.5,330.8L279.4,333.9L279.2,337.0L280.0,340.1L280.2,343.2L280.4,346.2L280.4,349.3L280.7,352.4L280.7,355.5L281.9,358.5L282.2,361.6L282.4,364.7L283.1,367.7L283.3,370.8L284.3,373.8L284.5,376.9L284.9,379.9L284.2,383.1L284.6,386.1L284.5,389.2L284.8,392.3L284.0,395.5L284.1,398.6L286.2,401.5L286.3,404.6L286.5,407.7L285.7,410.8L286.5,413.9L285.5,417.0L286.1,420.1L286.4,423.2L287.5,426.2L287.5,429.4L287.8,432.5L288.3,435.6L288.7,438.7L289.1,441.8L288.7,445.0L288.7,448.1L289.1,451.2L289.1,454.4L289.3,457.5L289.0,460.7L289.1,463.8L289.3,466.9L289.7,470.0L290.9,473.1L291.0,476.2L291.7,479.3L291.5,482.5L292.1,485.6L291.7,488.7L293.4,491.8L293.6,494.9L293.0,498.0L293.6,501.2L293.1,504.3L294.0,507.4L294.1,510.5L293.3,513.7L294.2,516.8L293.5,519.9L293.8,523.1L294.3,526.2L294.2,529.3L293.9,532.4L293.8,535.6L294.2,538.7L293.6,541.8L293.1,545.0L292.0,548.2L289.8,551.4L290.2,554.5L291.5,557.6L291.7,560.7L291.3,563.8L291.2,567.0L291.5,570.0L291.7,573.1L291.6,576.2L291.8,579.2L291.7,582.3L292.4,585.4L292.3,588.5L292.0,591.5L292.8,594.6L293.1,597.7L293.6,600.8L293.7,603.8L293.6,606.9L294.0,610.0"/>
<path stroke="#d95319" d="M187.2,113.5L190.5,113.4L193.8,114.5L197.0,114.5L200.3,114.1L203.3,114.0L206.8,118.3L208.8,120.9L210.6,123.9L213.1,127.6L214.6,131.7L217.5,135.2L219.4,139.2L221.1,142.7L223.4,145.9L222.2,151.4L224.6,153.7L226.5,156.2L228.9,158.4L230.5,161.1L232.4,164.1L234.6,166.9L236.4,170.1L238.6,172.9L240.7,175.3L241.7,178.5L244.0,180.9L245.9,183.5L247.8,186.1L249.5,188.8L251.8,191.3L252.8,194.4L254.6,197.1L255.4,200.3L256.5,203.3L257.7,206.3L259.1,209.2L260.8,212.0L262.0,215.0"/>
<path stroke="#d95319" d="M199.5,127.9L203.6,127.6L206.5,129.4L209.6,130.5L211.8,132.8L214.5,134.2L216.5,136.1L219.4,138.8L223.0,141.2L226.1,143.4L228.7,146.1L231.8,148.2L234.7,150.3L237.0,153.1L240.0,155.0L242.1,157.9L244.4,160.6L247.1,162.9L249.8,165.2L251.4,167.7L253.0,170.3L254.8,172.8L256.0,175.6L258.0,178.0"/>
<path stroke="#d95319" d="M146.0,101.2L148.0,105.1L149.7,109.2L151.3,112.5L151.8,116.1L152.8,119.6L152.8,123.1L153.6,126.5L154.2,130.0L154.7,133.4L155.3,136.7L155.0,140.3L155.8,143.8L156.6,147.3L157.3,150.9L159.6,153.6L161.3,156.4L163.2,159.2L164.9,162.0L166.3,165.0L167.3,168.2L169.7,170.6L171.3,173.5L173.3,176.2L174.8,179.1L176.2,182.0L177.6,185.0L179.4,187.8L180.4,191.0L181.9,193.9L182.3,197.2L183.9,199.9L185.3,202.8L185.6,206.1L189.2,208.1L190.1,211.3L189.9,214.7L188.2,218.4L189.5,221.2L189.9,224.3L191.5,227.0L193.5,229.7L194.4,232.5L195.7,235.4L196.6,238.4L198.0,241.3L199.2,244.2L200.0,247.3L201.1,250.3L201.6,253.5L202.3,256.5L202.1,259.8L202.1,263.0L202.6,266.1L203.3,269.2L204.2,272.2L205.3,275.1L206.6,278.1L207.8,281.1L208.1,284.3L209.7,287.2L209.4,290.5L209.5,293.7L209.3,296.9L208.9,300.2L208.9,303.2L209.3,306.2L209.6,309.2L210.1,312.2L210.0,315.3L211.0,318.2L211.7,321.1L212.3,324.1L212.7,327.1L213.4,330.1L214.1,333.1L214.6,336.2L215.0,339.3L215.6,342.3L217.3,345.2L217.6,348.3L218.1,351.4L219.1,354.4L218.8,357.6L219.9,360.6L220.1,363.7L220.5,366.8L220.5,369.9L220.9,373.0L221.7,376.0L221.8,379.2L221.8,382.3L222.3,385.4L223.1,388.4L222.8,391.6L222.9,394.7L224.2,397.7L224.7,400.8L225.5,403.8L226.2,406.8L226.4,409.9L227.4,412.9L228.2,416.0L228.7,419.0L228.9,422.1L228.6,425.3L228.9,428.4L228.8,431.6L228.8,434.7L228.7,437.9L228.6,441.1L229.9,444.0L230.7,447.1L231.4,450.1L232.4,453.1L233.8,456.0L235.3,458.9L235.8,462.0L235.9,465.1L236.3,468.2L236.2,471.4L236.0,474.6L235.7,477.8L236.0,480.9L238.6,483.6L238.5,486.8L238.3,490.0L238.5,493.1L238.9,496.2L240.1,499.1L239.6,502.3L241.0,505.3L241.2,508.4L241.2,511.5L241.4,514.7L241.1,517.8L241.6,520.9L242.0,524.0L242.6,527.1L242.9,530.2L243.8,533.2L244.5,536.2L246.1,539.1L246.8,542.2L250.3,544.8L250.7,547.9L250.3,551.1L249.9,554.3L251.0,557.3L250.7,560.5L251.5,563.5L251.0,566.7L251.8,569.7L252.1,572.7L252.5,575.7L252.7,578.8L253.0,581.9L253.7,584.9L253.8,588.0L254.1,591.0L254.4,594.1L253.2,597.4L254.4,600.4L256.2,603.6L258.2,606.6L259.1,610.0L260.1,613.3L260.9,616.7L262.0,620.0"/>
<path stroke="#d95319" d="M146.0,123.8L145.9,128.2L147.0,132.3L148.5,136.1L149.8,140.1L151.3,142.9L152.2,145.9L153.2,148.8L154.3,151.8L155.5,154.7L157.1,157.4L158.7,160.0L159.4,163.0L161.4,165.7L162.0,169.1L163.2,172.1L164.2,175.2L165.0,178.6L165.9,181.8L166.7,185.1L168.7,187.8L170.2,190.8L172.7,193.2L175.3,195.5L177.3,198.0L178.6,200.8L179.9,203.6L181.3,206.3L182.9,208.9L184.2,211.8L185.2,214.8L186.8,217.6L188.1,220.5L189.1,223.5L190.4,226.4L191.0,229.6L192.3,232.6L193.7,235.4L193.6,238.6L194.4,241.6L195.8,244.4L196.4,247.4L197.2,250.4L195.9,253.9L196.9,256.8L197.4,259.9L198.5,262.8L199.5,265.6L200.1,268.7L201.3,271.5L202.9,274.2L203.9,277.3L205.5,280.3L206.0,283.6L206.6,286.9L207.7,290.0L208.2,293.0L209.4,295.9L209.9,298.9L209.8,302.0L211.0,304.9L211.4,307.9L211.5,311.0L212.7,313.9L213.0,316.9L213.5,319.9L214.3,322.9L215.1,325.8L216.1,328.7L216.4,331.8L216.3,334.9L216.9,337.9L217.2,340.9L217.1,344.0L217.9,346.9L218.1,350.0L217.6,353.2L218.6,356.2L219.1,359.3L218.9,362.5L219.0,365.6L219.7,368.6L220.3,371.7L220.6,374.8L221.5,377.8L221.4,380.9L222.6,383.9L223.2,387.0L223.5,390.1L223.8,393.2L224.1,396.3L224.6,399.4L225.1,402.4L225.1,405.6L225.4,408.7L225.9,411.7L225.7,414.9L226.9,417.9L227.1,421.0L228.2,424.0L229.5,426.9L231.3,429.8L232.7,432.7L232.8,435.9L233.8,438.9L234.4,441.9L234.3,445.1L233.6,448.3L233.7,451.5L235.7,454.3L235.1,457.6L234.6,460.8L234.8,463.9L234.4,467.1L235.6,470.1L235.2,473.3L236.3,476.2L236.1,479.4L236.5,482.5L237.6,485.5L237.5,488.7L238.9,491.6L239.1,494.7L239.7,497.8L240.5,500.8L240.8,503.9L241.3,507.0L242.2,510.0L242.5,513.1L243.7,516.0L244.1,519.1L244.8,522.2L245.0,525.3L245.4,528.4L245.4,531.5L245.2,534.7L245.8,537.8L245.8,540.9L245.8,544.0L245.1,547.3L246.0,550.3L246.2,553.4L247.1,556.4L248.0,559.4L245.7,562.9L246.9,565.9L248.6,568.8L248.8,571.9L249.5,574.9L249.7,578.1L250.8,581.0L251.0,584.2L251.9,587.2L252.2,590.3L252.2,593.5L253.7,596.5L254.4,599.5L255.4,602.6L257.2,605.5L257.4,608.7L258.0,611.8L258.0,615.0"/>
<path stroke="#d95319" d="M257.1,150.6L259.8,152.6L262.8,154.3L265.2,156.1L266.4,152.9L269.2,149.2L273.2,151.3L275.9,153.4L278.6,155.6L281.4,159.2L284.3,162.7L284.9,166.0L284.7,169.3L286.0,172.4L286.8,175.6L286.8,178.8L288.3,181.9L288.8,185.1L289.9,188.2L290.3,191.5L290.0,195.0L289.4,198.4L289.5,201.8L289.0,205.1L288.9,208.4L289.1,211.8L289.0,215.2L286.3,218.6L287.0,222.3L287.9,225.8L288.5,229.4L289.9,233.2L293.2,230.6L295.6,227.5L298.3,224.7L299.7,228.7L301.1,232.8L301.0,235.9L301.5,238.9L301.8,241.9L301.0,244.9L301.8,247.9L302.9,250.9L302.4,253.9L301.9,256.9L302.1,259.9L301.7,262.9L300.0,266.0L300.0,269.0L300.3,272.0L299.5,275.1L299.9,278.1L300.1,281.1L300.0,284.1L300.1,287.1L302.1,290.0L302.7,293.1L302.5,296.3L302.9,299.4L303.1,302.5L303.7,305.6L303.8,308.7L303.6,311.9L303.3,315.0L303.8,318.1L303.9,321.2L303.9,324.4L304.5,327.5L303.7,330.6L302.4,333.8L302.2,336.9L302.4,340.1L302.5,343.2L302.6,346.3L303.6,349.4L303.5,352.5L302.9,355.7L303.4,358.8L303.1,361.9L303.6,365.1L303.5,368.2L303.7,371.3L304.1,374.4L304.5,377.5L306.0,380.6L306.6,383.7L307.3,386.8L307.7,389.9L306.1,393.1L305.8,396.3L306.0,399.4L306.3,402.5L305.4,405.7L305.1,408.8L304.8,412.0L305.5,415.1L305.7,418.2L305.7,421.3L305.5,424.4L305.8,427.6L305.3,430.7L306.4,433.8L305.8,437.0L306.3,440.1L306.4,443.2L306.7,446.3L306.7,449.4L307.2,452.6L307.0,455.7L306.9,458.8L306.9,462.0L307.9,465.0L309.0,468.1L309.1,471.3L310.4,474.3L310.6,477.5L311.2,480.6L310.4,483.7L310.1,486.9L309.6,490.0L309.5,493.1L309.3,496.3L308.5,499.4L308.9,502.5L308.5,505.7L309.2,508.8L309.5,511.9L310.5,515.0L311.0,518.1L310.9,521.2L311.1,524.4L311.9,527.5L311.9,530.6L311.3,533.7L312.1,536.9L312.1,540.0L309.7,543.2L309.6,546.3L310.2,549.4L310.6,552.5L311.3,555.6L311.7,558.7L311.8,561.9L312.5,565.0L312.5,568.1L312.1,571.2L312.1,574.4L310.2,577.5L310.4,580.7L310.4,583.8L310.1,586.9L310.4,590.0L310.4,592.9L309.8,595.9L309.8,598.9L310.2,601.9L310.4,605.0L310.1,608.0L310.6,611.0L310.2,614.0L310.3,617.0L310.0,620.0"/>
<path stroke="#d95319" d="M257.1,150.6L254.4,152.7L252.7,155.5L250.0,157.6L247.8,160.1L246.6,163.4L244.8,166.2L242.9,169.0L240.7,171.5L239.1,174.6L237.8,177.4L236.0,180.0L235.0,182.9L233.8,185.7L232.7,188.6L231.6,191.4L231.1,194.6L231.1,197.9L231.0,201.1L231.1,204.3L230.5,207.3L230.0,210.4L229.4,213.4L229.5,216.7L228.4,219.6L228.3,222.7L227.7,225.7L227.1,228.7L226.0,231.6L225.2,234.5L224.2,237.4L224.2,240.6L223.1,244.0L221.8,247.3L220.5,250.6L219.9,253.9L219.1,256.7L219.0,259.8L219.0,262.9L218.4,265.9L217.6,268.9L217.2,271.9L216.5,274.9L216.0,277.9L215.5,280.9L214.1,283.9L214.1,286.9L212.4,289.9L212.4,293.0L211.8,296.1L212.0,299.2L212.5,302.3L212.6,305.4L214.1,308.5L213.9,311.6L214.3,314.7L214.6,317.8L214.4,320.9L213.7,323.9L213.1,327.0L211.9,330.0L211.6,333.1L211.2,336.2L211.3,339.2L211.3,342.3L210.1,345.4L210.9,348.5L212.0,351.5L213.2,354.6L212.8,357.7L212.8,360.8L212.5,363.8L212.8,366.9L212.0,370.0"/>
<path stroke="#d95319" d="M146.0,175.3L147.7,177.9L150.0,180.1L151.2,182.9L152.9,185.5L153.9,188.4L155.0,191.5L154.5,194.8L154.6,197.9L154.8,201.0L154.7,204.1L155.3,207.1L155.4,210.2L156.4,213.3L156.0,216.3L156.5,219.3L156.9,222.4L156.9,225.5L156.9,228.6L157.2,231.7L157.9,234.7L157.9,237.9L157.9,239.9L159.8,241.1L160.6,239.8L162.5,237.4L164.6,235.2L165.8,232.4L167.9,229.9L169.7,227.2L171.3,224.4L172.9,221.6L174.4,218.7L175.9,214.9L180.0,213.9L183.4,213.3L187.2,213.3L190.8,214.0L194.0,216.0L197.3,217.1L200.5,218.7L204.0,219.3L207.4,220.1L210.7,221.4L214.3,221.2L217.7,221.8L221.2,222.5L224.5,223.7L228.1,223.7L231.5,224.3L235.0,224.6L238.8,224.5L239.9,228.0L242.7,230.2L247.2,231.5L248.1,235.1L249.1,238.2L249.5,241.6L250.7,244.7L251.3,247.9L251.8,251.1L252.5,254.2L253.8,257.1L255.0,260.0"/>
<path stroke="#d95319" d="M146.0,191.7L149.5,191.4L152.9,190.8L155.9,190.7L158.6,193.3L161.5,196.8L165.4,197.4L168.9,198.6L172.5,198.1L173.9,201.0L175.7,203.8L177.7,206.5L178.8,209.6L179.9,212.8L182.1,215.4L183.4,218.4L184.6,221.5L186.7,224.2L187.3,227.6L188.8,230.5L189.4,233.9L191.0,236.8L192.0,240.0"/>
<path stroke="#d95319" d="M146.0,257.6L149.1,255.6L151.8,254.9L152.8,257.8L154.4,261.4L157.3,266.1L162.6,264.7L166.4,263.4L169.9,262.0L172.9,259.9L176.1,258.6L179.8,258.0L183.5,258.6L187.1,259.7L190.4,260.8L193.8,261.7L196.9,263.4L200.0,265.0"/>
<path stroke="#d95319" d="M146.0,320.0L149.2,320.9L152.3,321.6L155.7,321.7L158.8,322.7L162.1,323.1L165.3,323.9L168.7,324.6L171.9,326.2L175.1,327.7L178.4,328.8L181.4,330.7L184.3,333.1L187.1,334.0L189.9,335.2L192.8,336.1L196.1,336.1L198.8,337.7L201.7,338.6L204.8,339.0L207.6,340.2L210.6,341.7L213.2,343.8L215.8,345.9L218.4,348.1L221.2,349.8L224.0,351.5L226.4,353.4L229.2,355.1L232.2,356.3L234.9,358.2L237.4,360.2L240.0,362.0"/>
<path stroke="#d95319" d="M146.0,290.0L149.6,289.0L153.0,287.5L156.8,287.0L160.0,285.1L162.8,286.6L165.6,288.3L169.4,286.7L172.2,288.4L174.9,290.2L177.2,292.1L179.8,293.7L182.3,295.4L184.7,297.2L187.0,299.1L189.2,301.2L191.5,303.2L194.3,304.4L196.5,306.5L199.4,307.6L202.0,309.1L204.2,311.0L206.0,313.3L208.5,315.1L210.5,317.4L212.2,320.0L214.7,321.7L216.8,323.9L218.5,326.3L220.2,328.8L222.3,331.1L223.9,333.8L226.3,335.9L228.1,338.5L231.0,340.2L232.4,343.0L235.0,345.0"/>
<path stroke="#d95319" d="M160.0,260.0L162.4,258.1L164.4,255.9L166.5,253.6L168.9,251.7L170.2,248.8L172.2,246.5L174.6,244.4L177.9,243.7L181.0,243.0L183.9,241.6L187.2,241.5L190.0,240.0L192.9,241.3L195.7,243.0L198.7,244.0L201.9,244.4L205.1,244.8L207.8,246.3L210.5,247.7L213.4,248.6L216.1,250.0L218.3,252.1L221.0,253.3L223.8,254.7L226.7,256.4L229.6,257.8L232.5,259.5L235.8,260.7L238.4,263.1L241.1,265.0L243.3,267.6L245.3,270.3L247.4,273.0L250.0,275.0"/>
<path stroke="#d95319" d="M250.0,150.0L253.1,149.7L255.9,148.5L259.1,148.6L262.1,147.9L265.0,147.1L266.9,149.7L269.0,152.2L271.6,154.4L273.0,157.4L275.1,159.9L275.6,163.0L276.5,165.9L277.8,168.6L278.5,171.6L279.2,174.6L280.9,177.2L282.5,179.9L283.7,182.8L284.2,185.8L284.9,188.8L286.0,191.7L286.9,194.6L287.2,197.7L287.4,200.8L288.1,203.7L288.2,206.8L288.9,209.9L288.1,213.1L288.3,216.2L288.4,219.2L288.9,222.3L288.5,225.4L288.9,228.5L288.8,231.6L289.4,234.6L289.1,237.7L289.9,240.8L290.4,243.8L290.9,246.9L290.8,250.0L291.0,253.1L291.4,256.2L291.9,259.3L291.9,262.4L291.8,265.6L292.1,268.7L292.7,271.8L292.5,274.9L292.6,278.1L293.3,281.2L292.9,284.3L293.1,287.4L292.8,290.6L293.8,293.7L293.1,296.8L293.4,300.0L293.2,303.1L293.7,306.2L292.6,309.4L292.8,312.5L292.0,315.6L290.9,318.8L290.9,321.9L291.1,325.0L290.6,328.2L291.0,331.3L292.0,334.4L291.6,337.5L291.6,340.6L292.0,343.8L292.7,346.9L292.0,350.0L292.5,353.2L292.6,356.3L291.9,359.4L292.4,362.5L291.9,365.7L291.7,368.8L292.2,371.9L292.8,375.0L292.5,378.2L293.2,381.3L293.7,384.4L294.3,387.5L294.6,390.6L294.3,393.8L294.1,396.9L294.9,400.0L295.0,403.1L295.4,406.2L295.3,409.4L295.1,412.5L295.8,415.6L295.7,418.8L295.8,421.9L296.2,425.0L295.8,428.1L296.5,431.2L297.1,434.3L296.5,437.5L296.8,440.6L297.0,443.7L297.5,446.8L297.5,450.0L298.2,453.1L298.0,456.2L298.2,459.3L298.3,462.5L297.9,465.6L298.0,468.7L298.2,471.9L297.5,475.0L297.9,478.1L298.5,481.2L298.2,484.4L298.9,487.5L299.0,490.6L300.2,493.7L300.5,496.8L300.4,500.0L300.1,503.1L299.7,506.2L299.7,509.4L298.8,512.5L298.4,515.6L297.2,518.8L297.2,521.9L297.7,525.0L298.3,528.2L298.2,531.3L298.5,534.4L299.2,537.5L299.7,540.6L299.5,543.8L300.4,546.9L300.2,550.0L300.4,553.1L300.9,556.2L300.6,559.4L300.7,562.5L301.7,565.6L301.6,568.8L300.9,571.9L300.4,575.0L299.3,578.1L299.3,581.2L298.8,584.4L298.6,587.5L299.0,590.6L299.6,593.8L300.0,596.9L300.0,600.0"/>
<path stroke="#d95319" d="M170.0,95.0L172.0,97.3L174.3,99.3L176.1,101.7L177.9,104.3L182.4,104.0L183.2,107.5L185.2,109.8L187.1,112.2L189.1,114.5L190.9,117.0L193.3,118.8L195.1,121.4L197.3,123.4L199.3,125.6L201.7,127.9L204.0,130.4L206.3,132.8L208.6,135.3L211.1,137.5L213.4,139.9L213.9,143.9L215.8,146.2L217.8,148.5L220.0,150.6L221.8,153.1L222.8,156.1L224.8,158.4L226.6,160.8L229.0,162.8L230.5,165.9L233.2,168.1L235.5,170.5L237.5,173.2L239.5,175.9L241.8,178.3L244.0,180.8L245.8,183.5L247.6,186.5L249.4,189.3L251.9,191.7L253.3,194.9L255.2,197.8L257.5,200.2L257.2,203.9L259.2,206.8L260.7,209.8L262.7,212.6L264.5,215.5L265.8,218.6L266.7,221.9L267.7,225.1L267.9,228.2L268.0,231.4L268.7,234.4L269.7,237.4L270.2,240.5L271.8,243.3L272.9,246.2L276.6,248.4L276.3,251.7L277.4,254.7L277.3,258.1L278.3,261.2L278.3,264.4L279.3,267.5L279.8,270.7L280.1,274.0L280.8,277.1L281.3,280.3L282.0,283.4L282.2,286.7L284.2,289.7L284.1,292.9L284.5,295.9L284.4,299.1L284.3,302.2L285.2,305.2L285.2,308.4L286.0,311.4L285.9,314.5L286.0,317.6L286.1,320.7L286.9,323.8L286.7,326.9L287.0,330.0"/>
<path stroke="#d95319" d="M146.0,288.6L149.1,288.0L152.1,287.3L155.1,286.3L158.3,286.6L161.5,286.4L164.5,286.2L167.5,286.1L170.5,285.2L173.5,284.8L176.4,283.6L179.5,282.7L183.7,283.4L187.9,284.5L190.8,286.5L193.5,288.3L195.7,290.7L198.4,292.6L200.3,295.2L202.8,297.1L204.2,300.1L206.9,301.9L209.3,304.0L210.7,307.0L213.0,309.0L215.4,311.5L218.2,313.2L220.4,315.8L223.4,317.4L225.7,319.9L228.2,322.1L230.2,325.0L232.4,327.8L234.7,330.4L236.9,332.8L238.6,335.2L240.2,337.8L242.4,340.0L244.1,342.6L246.0,345.0"/>
<path stroke="#d95319" d="M146.0,260.3L147.8,257.0L151.1,253.8L156.9,256.9L159.3,259.4L161.0,261.9L162.0,263.2L164.4,262.7L168.1,261.9L172.1,261.2L175.8,263.3L178.7,266.0L182.1,267.8L184.8,270.2L186.8,273.2L189.4,275.6L192.0,278.0"/>
<path stroke="#d95319" d="M146.0,314.3L149.1,314.1L152.2,313.5L155.5,314.1L158.5,313.1L161.7,312.8L164.9,312.7L167.9,311.7L170.7,310.1L173.7,309.4L176.6,308.3L179.9,307.3L182.3,304.8L183.8,301.8L185.7,299.3L187.5,296.7L190.3,295.2L191.8,290.6L195.1,289.9L198.2,288.8L201.1,287.3L204.1,286.5L207.1,284.5L210.7,283.3L214.7,282.7L217.9,280.7L221.3,279.9L224.6,278.6L228.0,278.0"/>
<path stroke="#d95319" d="M202.6,280.9L205.5,279.4L208.6,278.5L211.8,277.7L215.0,277.0L217.9,276.3L218.9,279.1L221.0,281.3L223.4,283.2L226.2,284.7L228.6,286.6L231.4,288.3L233.1,291.1L234.4,294.0L236.2,296.7L237.1,299.7L237.5,302.9L238.2,306.0L238.7,309.1L241.6,311.8L245.0,313.6L249.1,316.1L253.2,312.9L254.3,308.8L255.6,305.1L256.4,301.3L255.5,297.4L257.1,294.7L258.9,292.1L261.1,289.6L263.1,287.0L264.3,284.1L266.4,281.6L268.1,278.8L269.0,275.6L270.1,272.5L270.8,269.3L271.3,266.1L272.3,263.1L274.6,260.3"/>
<path stroke="#d95319" d="M176.0,235.0L176.4,238.3L178.2,241.1L178.5,244.4L180.0,247.3L180.5,250.6L181.7,253.6L183.1,256.4L184.6,259.3L185.2,262.5L186.5,265.4L188.0,268.2L189.7,271.0L190.6,274.1L191.7,277.1L192.7,280.2L193.7,283.2L194.5,286.3L196.1,289.1L197.2,292.1L198.2,295.2L199.4,298.1L200.0,301.3L201.9,304.0L203.3,306.9L204.9,309.7L206.0,312.7L207.4,315.6L208.4,318.7L209.1,321.8L211.0,324.5L211.6,327.8L212.9,330.6L214.3,333.3L215.2,336.3L216.9,338.9L218.7,341.4L220.5,343.9L222.0,346.6L223.9,349.1L225.7,351.7L227.1,354.4L229.1,356.9L229.7,359.9L230.7,362.8L231.6,365.8L229.3,370.3L230.6,373.0L232.1,375.7L233.3,378.5L234.4,381.4L236.2,384.0L238.0,386.5L239.4,389.2L238.9,392.8L241.1,395.1L242.3,397.9L243.6,400.7L245.8,403.1L247.0,406.0L249.1,408.5L250.4,411.2L251.9,414.0L253.3,416.8L255.5,419.4L255.5,422.6L256.2,425.6L257.5,428.5L257.6,431.6L258.3,434.6L258.8,437.6L259.6,440.6L259.5,443.7L260.5,446.7L260.5,449.8L260.2,453.0L260.4,456.1L260.6,459.2L261.4,462.2L261.0,465.4L262.0,468.4L262.4,471.5L263.0,474.5L262.8,477.7L263.1,480.7L263.8,483.8L264.4,486.8L265.0,489.9L264.8,493.0L265.6,496.1L266.3,499.1L266.9,502.1L267.0,505.2L266.9,508.4L266.6,511.5L266.8,514.6L266.6,517.7L266.2,520.9L267.0,523.9L266.9,527.0L267.5,530.0L267.4,533.1L267.7,536.2L267.8,539.3L268.6,542.3L268.8,545.4L268.6,548.5L268.8,551.6L269.0,554.7L269.9,557.7L270.1,560.8L270.0,563.9L270.6,566.9L270.1,570.1L270.2,573.1L271.0,576.2L270.0,579.3L269.9,582.4L270.5,585.4L270.4,588.5L269.7,591.7L270.8,594.7L271.4,597.7L271.5,600.8L272.6,603.8L273.4,606.9L273.5,610.0L274.3,613.2L274.6,616.6L274.4,620.0L274.8,623.3L274.3,626.7L275.0,630.0"/>
<path stroke="#d95319" d="M186.0,235.0L186.5,238.3L187.9,241.3L189.8,244.0L191.3,246.9L193.4,249.5L194.5,252.4L196.5,254.9L197.1,258.1L198.8,260.8L199.7,263.8L200.4,267.0L202.1,269.7L202.8,272.8L204.0,275.7L205.6,278.4L207.6,280.9L209.1,283.7L210.1,286.7L212.3,289.1L213.7,291.9L215.1,294.7L216.2,297.7L218.0,300.3L219.8,302.9L220.9,305.8L222.6,308.5L224.2,311.3L225.6,314.0L226.5,316.9L227.7,319.7L228.9,322.5L229.7,325.5L230.5,328.4L231.7,331.2L232.7,334.1L234.1,336.8L234.9,339.8L236.2,342.5L237.3,345.5L237.7,348.8L239.5,351.5L240.0,354.7L241.3,357.6L242.9,360.4L244.4,363.3L245.9,366.1L247.3,369.0L248.0,372.2L251.8,374.2L252.6,377.4L252.4,381.0L252.5,384.4L253.0,387.7L253.0,391.1L251.3,395.0L251.7,398.4L253.4,401.3L254.5,404.4L255.4,407.3L256.4,410.3L256.4,413.4L257.5,416.4L257.9,419.5L259.3,422.4L258.9,425.6L260.1,428.6L260.0,431.8L260.9,434.8L261.6,437.8L261.9,440.9L262.6,444.0L263.2,447.0L264.1,450.0L264.8,453.1L266.0,456.1L266.8,459.2L266.6,462.4L267.5,465.5L268.1,468.6L268.2,471.7L268.8,474.8L269.1,477.9L270.1,481.0L269.8,484.2L270.9,487.2L270.5,490.4L271.3,493.5L270.8,496.7L270.9,499.9L271.0,503.1L271.1,506.2L270.7,509.4L270.4,512.6L270.0,515.7L270.5,518.8L269.8,522.0L270.5,525.1L270.5,528.3L272.7,531.2L272.6,534.4L272.6,537.5L273.2,540.6L273.6,543.7L273.9,546.9L273.9,550.0L274.1,553.1L274.6,556.2L275.2,559.3L275.8,562.4L275.5,565.6L276.2,568.7L276.5,571.8L276.9,574.9L276.8,578.1L275.4,581.3L275.2,584.4L275.2,587.6L275.1,590.7L275.2,593.8L276.2,596.9L276.9,600.0L277.6,603.1L278.1,606.2L279.1,609.2L279.5,612.3L279.7,615.4L279.5,618.6L279.7,621.7L279.1,624.9L279.0,628.0"/>
<path stroke="#d95319" d="M166.0,235.0L167.0,238.0L167.7,241.2L168.9,244.2L170.2,247.2L170.9,250.4L172.8,252.8L175.4,254.8L177.0,257.3L178.0,260.2L179.3,262.9L180.2,265.9L181.3,268.8L183.2,271.1L184.3,274.0L185.6,276.6L187.1,279.3L188.7,282.1L189.4,285.3L191.3,287.9L193.0,290.6L193.9,293.7L195.6,296.5L196.5,299.6L198.2,302.2L199.0,305.1L200.8,307.7L201.9,310.5L203.4,313.2L204.4,316.1L205.4,318.9L206.3,321.8L207.7,324.6L209.2,327.2L210.7,329.9L211.7,332.8L212.9,335.6L214.2,338.4L215.5,341.2L217.1,343.9L219.1,346.4L220.3,349.2L222.6,351.6L223.5,354.6L224.0,357.7L224.8,360.7L225.8,363.6L226.5,366.6L227.5,369.5L228.5,372.4L229.2,375.4L230.7,378.2L231.8,381.0L232.7,383.9L232.9,387.0L234.5,389.7L234.6,392.8L235.3,395.7L236.6,398.5L237.2,401.5L238.2,404.4L238.5,407.6L239.3,410.7L239.8,413.9L239.6,417.2L240.3,420.4L240.6,423.6L240.7,426.8L241.7,429.9L241.3,433.4L242.3,436.6L242.7,440.0L242.9,443.3L243.9,446.6L243.9,450.0L244.6,453.0L245.3,456.0L245.3,459.2L245.5,462.3L246.1,465.3L246.5,468.4L246.6,471.5L247.3,474.5L247.6,477.6L248.0,480.7L248.2,483.7L248.1,486.9L248.3,490.0L248.8,493.0L249.4,496.1L249.0,499.2L249.6,502.3L250.3,505.3L250.8,508.4L250.5,511.5L250.9,514.6L251.6,517.6L251.8,520.7L252.8,523.7L253.0,526.8L253.4,529.9L253.1,533.0L252.6,536.2L252.5,539.3L252.1,542.4L252.2,545.5L252.4,548.6L252.9,551.7L253.0,554.8L256.3,557.5L256.0,560.7L256.4,563.7L256.3,566.9L256.3,570.0L255.9,573.2L255.6,576.5L255.9,579.7L255.9,582.9L256.3,586.1L256.5,589.3L256.5,592.5L256.6,595.7L257.7,598.8L258.4,602.0L259.1,605.1L260.2,608.4L260.8,611.8L262.2,615.0L262.6,618.3L263.1,621.7L264.0,625.0"/>
<path stroke="#d95319" d="M215.0,240.0L214.5,243.1L213.9,246.2L213.9,249.3L213.6,252.3L214.1,255.4L214.5,258.5L214.4,261.6L215.2,264.6L215.0,267.7L214.9,270.8L214.6,273.9L214.8,277.0L214.9,280.0L215.0,283.1L214.9,286.2L215.6,289.2L216.0,292.3L216.3,295.4L216.5,298.5L216.8,301.5L217.7,304.6L217.3,307.7L217.6,310.7L217.0,313.8L216.9,316.9L215.5,320.0L215.2,323.1L215.2,326.2L215.3,329.3L215.3,332.4L215.9,335.4L217.2,338.5L217.8,341.5L218.3,344.6L219.6,347.6L220.0,350.7L219.4,353.8L219.6,356.9L219.6,359.9L220.3,363.0L220.5,366.0L220.9,369.1L220.7,372.2L220.7,375.3L220.5,378.4L220.3,381.5L219.3,384.6L219.4,387.7L218.7,390.8L219.0,393.9L218.5,397.0L219.9,400.0L220.3,403.1L221.2,406.1L221.8,409.1L222.2,412.2L223.4,415.2L223.2,418.3L223.1,421.4L223.6,424.5L223.2,427.7L223.1,430.8L223.5,433.8L223.4,437.0L224.0,440.0L224.4,443.1L224.7,446.2L225.9,449.1L226.5,452.2L227.4,455.2L228.6,458.2L229.1,461.3L229.3,464.4L229.2,467.5L230.1,470.5L229.5,473.8L230.4,476.8L231.0,479.8L231.0,483.0L232.1,486.0L232.6,489.1L233.5,492.1L235.3,494.9L235.3,498.1L235.3,501.3L235.8,504.4L236.2,507.6L236.6,510.7L236.8,513.8L238.1,516.8L237.7,520.1L238.7,523.1L239.6,526.1L240.1,529.2L241.4,532.1L242.0,535.2L242.8,538.2L244.0,541.2L244.4,544.3L245.1,547.4L245.5,550.5L245.8,553.6L245.6,556.9L246.4,559.9L246.2,563.2L247.1,566.2L247.5,569.3L247.7,572.5L248.6,575.5L249.3,578.5L249.4,581.7L250.1,584.8L250.8,587.8L249.1,591.4L250.5,594.3L252.5,597.1L253.5,600.1L254.9,602.9L255.9,605.8L257.0,608.6L257.9,611.4L258.3,614.5L259.0,617.4L259.8,620.4L260.5,623.3L262.0,626.0"/>
<path stroke="#d95319" d="M246.0,250.0L246.7,253.1L246.3,256.2L247.2,259.2L247.1,262.3L246.8,265.4L246.3,268.5L246.7,271.5L246.4,274.6L246.0,277.7L246.2,280.8L246.6,283.8L246.2,286.9L246.1,290.0L246.3,293.1L246.6,296.1L246.9,299.2L246.8,302.3L247.5,305.4L248.3,308.4L248.3,311.5L248.2,314.6L248.6,317.6L248.4,320.7L248.4,323.8L247.3,326.9L247.5,330.0L246.3,333.1L246.8,336.2L246.9,339.2L246.4,342.3L246.5,345.4L245.9,348.5L246.1,351.6L246.5,354.6L246.9,357.7L247.3,360.8L246.8,363.9L247.9,366.9L247.5,370.0L248.3,373.1L249.9,376.1L249.6,379.2L250.6,382.2L250.1,385.3L250.8,388.4L250.6,391.5L251.0,394.5L250.8,397.6L250.5,400.7L250.8,403.8L251.3,406.9L251.1,409.9L251.7,412.9L251.7,416.1L253.3,419.0L250.5,422.4L251.4,425.4L252.2,428.4L252.4,431.5L253.0,434.6L253.1,437.7L253.9,440.7L254.6,443.7L255.1,446.8L254.8,449.9L255.6,452.9L255.2,456.1L255.5,459.2L255.4,462.3L255.7,465.4L255.7,468.5L256.4,471.5L256.4,474.6L257.1,477.7L258.1,480.7L258.5,483.7L259.3,486.8L259.5,489.8L260.2,492.9L260.7,495.9L260.1,499.1L260.2,502.2L260.0,505.3L260.0,508.4L259.8,511.6L259.5,514.7L260.1,517.8L260.2,520.9L260.7,523.9L260.4,527.1L261.1,530.1L261.0,533.2L261.2,536.2L261.5,539.3L261.8,542.4L262.6,545.4L264.0,548.4L264.0,551.5L267.1,554.4L267.4,557.4L266.9,560.6L266.4,563.7L265.5,566.9L265.6,570.0L266.1,573.0L265.8,576.1L265.5,579.2L266.1,582.3L266.6,585.3L266.9,588.4L267.5,591.5L268.1,594.5L267.9,597.6L268.2,600.7L268.4,603.8L267.7,606.9L268.0,610.0"/>
<path stroke="#d95319" d="M287.0,250.0L286.8,253.1L287.8,256.1L287.7,259.2L287.9,262.3L290.6,265.3L290.5,268.4L289.9,271.5L289.6,274.6L289.5,277.6L288.6,280.7L289.0,283.8L288.7,286.9L287.9,290.0L288.1,293.1L287.6,296.2L288.2,299.2L288.5,302.3L288.7,305.4L288.6,308.5L288.7,311.5L288.4,314.6L288.6,317.7L288.5,320.8L288.5,323.9L288.7,326.9L286.9,330.0L287.4,333.1L286.9,336.2L287.4,339.2L287.5,342.3L288.3,345.4L288.9,348.5L289.2,351.5L289.1,354.6L288.9,357.7L289.7,360.8L289.6,363.8L289.4,366.9L289.5,370.0L289.9,373.1L289.3,376.2L289.8,379.2L289.9,382.3L289.8,385.4L289.6,388.5L289.7,391.5L289.5,394.6L289.3,397.7L289.5,400.8L289.8,403.8L289.6,406.9L289.5,410.0L289.7,413.1L289.8,416.2L289.9,419.2L290.1,422.3L289.9,425.4L290.2,428.5L290.8,431.5L291.1,434.6L291.4,437.7L291.6,440.7L292.0,443.8L291.2,446.9L291.7,450.0L292.1,453.1L291.6,456.1L291.8,459.2L291.8,462.3L292.4,465.4L292.2,468.4L292.0,471.5L291.9,474.6L291.5,477.7L291.3,480.8L291.5,483.9L291.3,486.9L291.0,490.0L290.8,493.1L291.2,496.2L291.8,499.2L292.3,502.3L292.5,505.4L292.6,508.5L293.4,511.5L292.6,514.6L292.8,517.7L292.8,520.8L293.6,523.8L293.1,526.9L293.1,530.0L292.6,533.1L293.1,536.2L292.8,539.2L293.2,542.3L293.0,545.4L293.9,548.5L294.0,551.6L294.4,554.7L294.5,557.7L294.0,560.8L293.5,563.9L294.0,567.0L293.2,570.0L293.1,573.1L293.2,576.2L292.2,579.3L292.4,582.4L292.4,585.4L291.7,588.5L290.8,591.5L290.6,594.6L289.9,597.7L289.3,600.7L289.1,603.8L288.8,606.9L288.9,609.8L287.8,612.7L287.2,615.7L287.5,618.9L286.9,621.9L285.9,624.8L286.0,628.0"/>
<path stroke="#d95319" d="M264.0,250.0L264.0,253.1L263.6,256.2L263.6,259.2L263.1,262.3L262.9,265.4L263.0,268.5L263.0,271.6L263.1,274.7L263.8,277.7L264.4,280.8L263.9,283.9L264.7,286.9L264.5,290.0L265.5,293.1L264.7,296.2L265.1,299.2L265.2,302.3L264.1,305.4L264.3,308.5L263.7,311.6L264.1,314.7L264.0,317.7L264.6,320.8L265.0,323.9L265.8,326.9L266.5,330.0L266.8,333.1L266.9,336.1L267.0,339.2L267.3,342.3L267.3,345.4L266.7,348.5L266.5,351.5L267.0,354.6L266.3,357.7L266.7,360.8L266.8,363.8L267.0,366.9L267.9,370.0L267.8,373.1L268.0,376.1L268.5,379.2L270.1,382.2L269.4,385.3L268.6,388.4L268.6,391.5L266.9,394.6L266.2,397.7L263.7,400.9L264.1,403.9L264.5,407.0L265.3,410.1L266.3,413.2L266.8,416.2L267.1,419.3L267.8,422.3L267.7,425.4L267.9,428.5L267.7,431.6L268.0,434.7L268.3,437.7L267.9,440.8L267.8,443.9L268.0,447.0L268.4,450.1L268.5,453.2L269.3,456.2L270.6,459.2L271.6,462.3L271.8,465.3L273.1,468.4L272.7,471.5L272.8,474.5L275.6,477.5L274.3,480.6L274.2,483.7L273.6,486.8L273.2,489.9L272.6,493.1L273.0,496.1L270.3,499.3L271.5,502.4L272.8,505.4L273.7,508.4L273.9,511.5L274.8,514.5L274.4,517.6L273.8,520.8L273.6,523.9L272.9,527.0L272.5,530.1L272.2,533.2L272.0,536.3L272.4,539.3L272.2,542.4L273.1,545.5L273.8,548.5L273.6,551.6L275.9,554.6L275.6,557.7L275.6,560.8L276.1,563.8L276.6,566.9L276.8,570.0L277.4,573.0L277.8,576.1L278.5,579.1L278.1,582.2L278.8,585.3L278.2,588.4L279.0,591.4L278.9,594.5L280.2,597.6L279.4,600.7L279.0,603.8L278.8,606.9L278.0,610.0"/>
<path stroke="#d95319" d="M146.0,489.0L148.7,490.9L151.7,492.3L154.2,494.5L156.6,496.8L159.2,498.9L162.4,499.9L165.1,501.8L168.0,503.4L170.4,505.7L173.6,506.3L176.1,508.3L179.0,509.6L182.0,510.6L184.5,512.7L187.5,513.6L190.6,514.7L193.4,515.9L195.9,517.6L198.3,519.9L201.2,520.8L204.4,521.0L207.2,522.1L210.2,522.8L213.1,524.0L216.5,524.2L219.8,524.5L223.1,525.0L226.2,526.1L229.4,526.8L232.6,527.4L235.9,527.5L239.1,528.2L242.4,528.3L245.6,528.6L248.7,529.6L252.0,529.1L255.2,529.8L258.5,529.7L261.8,529.4L265.0,529.2L268.2,529.4L271.4,530.0L274.6,531.0L277.8,531.5L280.9,532.4L284.0,535.1L287.2,535.5L290.5,535.1L293.7,535.4L296.9,535.1L300.2,534.8L303.5,534.4L306.8,533.6L310.0,533.3L313.2,532.6L316.4,532.2L319.6,531.3L322.8,530.8L325.9,529.6L329.1,528.9L332.4,527.9L335.8,527.6L339.0,526.5L342.5,527.0L345.8,526.2L349.0,526.5L351.9,525.3L354.9,524.8L357.9,524.3L361.0,524.0L363.9,523.0L366.7,521.4L369.8,521.3L372.9,520.1L375.8,518.7L378.9,517.5L382.2,517.4L385.2,516.2L388.4,515.4L391.3,513.8L394.5,513.6L397.4,511.8L400.5,510.6L403.9,510.0L406.6,507.9L409.9,506.8L413.2,506.2L416.3,504.8L419.2,502.9L422.6,502.5L425.7,501.0L429.2,500.7L432.3,499.4L435.7,498.9L438.8,497.6L441.8,496.2L444.9,494.7L447.8,492.8L450.9,491.5L453.8,489.8L456.8,488.2L459.9,487.0L463.0,485.7L466.1,484.4L469.3,483.4L472.2,482.5L475.2,481.8L477.2,478.8L480.1,477.9L483.3,477.6L485.4,474.7L488.4,474.1L491.3,473.1L494.5,472.6L497.4,470.8L500.7,470.2L503.8,469.3L507.3,469.4L510.6,469.0L514.0,468.8L517.4,468.7L520.3,467.3L523.6,466.7L527.0,466.3L530.3,465.4L533.7,465.4L537.0,464.4L540.5,464.5L543.7,463.0L546.7,460.7L550.0,459.9L553.3,459.2L556.7,458.6L560.0,458.0"/>
<path stroke="#d95319" d="M274.2,630.7L276.7,628.7L278.8,626.3L281.1,624.2L284.2,623.3L287.4,622.7L290.8,622.7L294.0,622.3L297.1,621.2L300.4,620.6L303.5,619.4L306.5,617.9L309.4,615.7L312.6,614.7L315.7,613.5L319.1,613.2L322.3,612.0L325.6,611.8L328.4,610.6L330.5,608.2L333.5,606.9L336.1,605.1L338.9,603.6L342.1,602.7L344.8,600.7L348.0,599.9L351.0,598.7L354.0,597.6L356.9,596.1L359.9,594.7L363.6,595.2L366.3,593.3L369.2,591.7L372.4,590.8L375.4,589.7L378.4,588.2L381.5,587.2L385.5,588.6L388.4,587.0L391.0,585.4L393.7,584.1L396.6,583.2L399.5,582.1L402.0,580.2L404.9,579.4L407.7,578.1L410.4,576.7L413.1,575.2L416.1,574.3L418.8,572.8L421.5,571.0L424.1,569.3L427.1,568.4L429.5,566.1L432.5,565.0L435.3,563.8L438.0,562.2L441.0,561.2L444.0,560.2L447.1,559.2L450.5,559.2L453.3,557.7L456.2,556.4L459.3,555.7L462.1,554.2L466.1,556.1L468.8,554.5L471.5,552.1L474.7,551.3L478.0,551.0L481.1,550.0L484.3,549.2L487.5,548.6L490.6,547.2L493.8,546.8L496.5,545.3L499.7,544.9L502.5,543.3L505.4,542.1L508.1,540.6L510.9,539.0L513.7,537.7L516.8,537.0L519.8,536.2"/>
<path stroke="#d95319" d="M270.0,625.0L273.0,624.3L275.9,623.5L278.7,622.3L281.6,621.5L284.9,621.9L287.8,620.9L290.8,620.4L294.0,619.1L297.1,617.5L300.6,617.0L303.9,615.8L307.0,614.3L310.7,613.7L313.7,611.8L316.6,610.1L319.4,608.5L322.1,606.5L325.0,604.8L327.9,603.3L330.6,601.4L333.4,599.6L336.2,597.8L338.9,596.5L341.8,595.5L344.3,593.7L347.3,592.9L350.0,591.5L352.6,590.1L355.2,588.4L357.8,586.8L360.5,585.3L363.2,583.9L366.3,583.2L368.7,581.2L371.7,580.3L374.5,579.1L377.3,577.8L380.3,576.7L383.1,575.2L385.9,573.8L389.0,573.0L391.8,571.6L394.9,570.7L397.7,569.0L401.0,568.5L404.2,568.0L407.3,567.1L410.2,565.6L413.3,564.6L415.7,562.5L418.4,561.0L420.7,558.8L422.8,556.4L425.7,555.1L428.3,552.4L431.2,555.5L434.5,555.9L437.4,557.1L440.5,557.9L443.6,558.6L446.5,559.8L449.3,558.3L452.3,557.9L455.3,557.1L458.4,556.9L461.5,557.0L464.6,556.6L467.8,555.8L470.7,554.8L473.7,553.7L476.6,552.5L479.3,550.7L482.3,549.8L485.0,547.9L487.5,546.0L490.3,544.8L493.1,543.3L496.2,542.7L499.1,541.8L502.4,541.8L505.2,540.5L508.4,540.3L511.5,539.6L514.2,537.5L517.0,536.1L520.0,535.0"/>
<path stroke="#d95319" d="M268.0,620.0L271.1,619.1L274.3,618.4L277.5,618.2L280.6,617.4L283.8,616.7L286.8,615.3L290.0,615.1L292.6,612.6L296.0,611.8L299.4,611.2L302.6,610.2L306.1,609.9L309.4,609.0L312.4,607.6L315.4,606.2L318.2,605.3L320.9,603.2L323.8,602.1L326.7,600.9L329.8,600.4L332.8,600.0L335.6,598.7L338.8,598.2L342.1,597.7L344.9,596.0L348.4,595.9L351.1,593.9L354.3,593.2L357.3,592.0L360.4,590.9L363.3,589.7L366.4,588.6L369.5,587.6L372.3,585.9L375.5,585.2L378.6,584.4L381.7,583.2L384.5,581.6L387.5,580.4L390.5,578.9L393.7,577.8L396.6,576.3L400.0,575.8L403.1,574.5L406.3,573.6L409.5,572.7L412.3,570.8L415.2,570.2L418.1,569.3L420.8,567.8L424.2,568.6L426.8,566.8L429.4,564.7L432.2,563.8L435.0,562.6L437.9,561.8L440.6,559.9L443.8,559.0L446.5,557.0L449.7,556.3L451.4,552.0L454.6,551.3L458.1,551.2L461.2,549.7L464.5,549.2L467.5,547.7L470.9,547.6L473.9,546.2L477.1,545.5L480.1,544.2L483.1,542.9L486.4,542.3L489.5,541.1L492.7,540.7L495.6,539.9L498.6,539.4L501.7,539.1L504.8,539.2L508.1,539.7L511.2,539.9L514.1,538.7L517.2,538.4L520.0,537.0"/>
<path stroke="#d95319" d="M265.0,615.0L267.8,613.9L270.8,613.3L273.7,612.7L276.6,611.7L279.5,611.1L282.7,611.3L285.4,609.9L288.3,608.8L291.2,607.5L293.9,605.8L296.8,604.4L299.6,602.7L302.4,601.1L305.4,600.1L308.3,599.0L311.5,598.4L314.6,597.7L317.8,597.5L321.4,598.1L324.3,597.0L327.5,596.5L330.4,595.3L333.4,594.2L336.5,593.4L339.6,592.3L342.7,591.2L345.9,590.4L348.9,588.9L352.1,588.2L355.1,586.8L358.4,586.2L361.4,584.6L364.3,582.7L367.5,581.9L370.6,580.6L373.6,579.1L376.9,578.2L379.7,576.2L382.7,575.4L385.3,573.7L388.1,572.8L391.1,572.1L393.9,570.8L397.0,570.5L399.8,569.4L402.9,569.0L405.8,567.9L408.8,567.1L411.5,565.6L414.6,565.1L417.5,564.1L420.3,562.7L423.4,562.7L426.3,561.8L429.2,560.8L432.3,560.4L434.9,558.7L437.5,557.0L440.3,556.0L443.2,554.2L446.1,552.5L449.0,550.5L452.2,550.0L455.4,549.0L458.7,548.4L461.9,547.7L465.0,547.6L467.9,546.7L471.0,547.1L473.9,545.6L476.9,545.5L480.6,548.9L484.1,547.5L487.6,547.0L491.0,546.3L494.1,544.6L497.4,543.3L500.5,542.6L503.2,541.6L506.2,540.8L509.1,539.5L512.1,539.5L515.0,538.3L518.0,538.0"/>
<path stroke="#d95319" d="M262.0,610.0L265.0,608.8L268.6,609.6L271.8,608.8L274.9,607.8L278.1,606.9L281.0,605.5L284.0,604.0L287.2,603.1L290.3,601.9L293.5,600.8L296.5,599.3L299.5,597.7L302.7,596.7L305.8,595.3L309.1,594.8L312.3,593.8L315.3,592.1L318.7,591.7L321.9,590.8L325.1,589.8L328.1,588.2L330.9,586.3L334.1,585.2L337.1,583.6L339.8,581.4L343.1,580.5L346.1,578.9L349.4,578.4L353.0,578.4L356.5,578.2L359.7,577.4L363.3,577.5L366.3,576.0L369.7,575.6L372.9,574.5L375.6,573.1L378.5,572.1L381.3,570.8L384.3,570.2L386.9,568.6L390.1,568.3L392.9,567.1L395.5,565.3L398.2,564.0L401.0,562.6L403.7,561.2L406.8,560.7L409.4,558.9L412.4,558.4L415.4,557.7L418.1,556.3L421.4,555.9L424.4,554.6L427.6,553.9L430.7,552.9L433.7,551.7L436.8,550.6L440.0,550.0"/>
<path stroke="#d95319" d="M255.0,590.0L257.9,588.7L260.9,587.5L264.2,587.1L266.8,585.1L269.7,583.7L272.9,582.9L275.6,580.9L278.0,578.8L280.2,576.5L282.8,574.8L285.1,572.6L287.1,570.1L289.5,568.1L292.0,566.2L294.4,564.2L297.1,562.4L300.2,560.9L303.3,559.6L306.0,557.7L308.8,555.9L311.9,554.4L314.0,551.8L315.7,548.7L317.2,545.5L318.7,542.5L319.9,539.3L322.1,536.8L323.9,534.1L326.4,531.9L328.9,529.7L330.7,526.9L333.4,524.9L335.5,522.2L338.5,520.9L340.8,518.7L343.9,517.7L346.6,516.0L349.5,514.8L352.3,513.2L354.9,511.5L358.0,510.5L360.4,508.4L362.9,506.5L365.1,503.7L367.4,501.3L369.2,498.4L371.9,496.4L373.9,493.7L376.7,492.0L379.8,490.6L382.6,488.8L385.3,486.9L388.2,485.4L390.8,483.6L393.3,481.7L396.0,480.2L398.6,478.4L401.0,476.4L403.1,473.9L405.5,471.9L408.4,470.5L410.6,468.3L413.0,466.2L416.1,465.1L419.1,464.0L422.0,462.5L424.7,460.9L427.3,459.0L430.5,458.1L433.0,456.1L436.3,455.4L438.9,453.6L442.0,452.7L444.3,451.1L447.0,451.6L450.0,452.9L453.3,453.0L456.5,453.4L460.0,453.7L463.7,453.3L467.1,452.1L470.6,452.1L474.1,451.3L477.4,450.4L480.6,450.2L483.9,449.9L487.1,449.6L490.4,449.6L493.6,450.2L496.8,450.0L500.0,450.7L503.2,451.7L506.3,453.8L509.5,455.4L512.9,456.6L516.6,457.1L519.8,458.6"/>
<path stroke="#d95319" d="M258.0,600.0L261.0,599.0L263.5,597.0L266.8,596.5L269.4,594.7L272.5,593.9L275.4,592.7L277.8,590.5L280.8,589.1L283.4,587.1L284.6,583.5L286.6,580.8L289.0,578.7L291.5,576.8L294.1,574.8L296.8,573.2L300.0,572.0L302.2,569.5L305.0,567.7L307.1,565.1L309.6,563.0L312.4,561.3L315.0,559.3L317.5,557.1L320.6,555.6L322.7,553.1L324.9,550.9L327.1,548.6L329.1,546.3L328.8,541.9L332.0,540.5L334.4,538.4L336.2,535.9L339.1,534.7L342.2,533.5L344.7,531.5L347.2,529.5L349.8,527.7L352.2,525.5L354.3,522.9L357.0,521.2L359.3,518.8L362.1,517.3L365.0,516.1L368.0,515.0L370.7,513.4L373.4,511.9L376.4,510.8L379.2,509.4L381.8,507.6L384.8,506.6L387.6,505.1L389.8,503.0L392.2,501.1L394.7,499.5L397.4,498.2L400.1,496.8L402.7,495.2L405.1,493.5L407.6,491.8L410.2,490.4L413.1,489.1L416.1,488.0L418.7,486.1L421.7,485.0L424.4,483.3L427.1,481.6L430.0,480.3L432.7,478.5L435.2,476.5L438.5,475.5L441.7,475.0L444.7,474.5L447.8,474.6L450.8,474.6L453.8,473.7L456.9,473.9L459.9,473.3L463.3,473.6L466.6,472.7L470.0,473.0L473.4,472.8L476.9,473.3L480.2,472.8L483.5,472.2L486.9,472.2L490.0,470.4L493.3,469.7L496.8,470.6L500.0,468.8L503.1,467.9L506.4,468.2L509.6,467.2L512.8,466.9L516.0,466.3"/>
<path stroke="#d95319" d="M262.0,610.0L264.8,608.3L268.0,607.5L270.8,605.9L273.8,604.5L276.6,602.9L279.4,601.2L282.2,599.7L285.1,598.1L288.2,596.6L291.0,594.8L294.6,594.0L297.5,592.2L300.4,590.5L303.3,588.6L306.2,586.4L308.0,583.2L310.5,581.1L312.3,578.3L314.1,575.6L316.3,573.1L318.6,570.7L320.7,568.2L320.9,564.2L322.7,561.6L324.5,559.0L325.9,556.0L328.2,553.7L330.3,551.2L332.4,548.7L333.9,545.9L336.4,543.9L339.2,542.8L342.0,541.6L343.4,537.9L346.3,536.7L349.2,535.8L351.9,534.4L354.7,533.0L357.5,531.7L360.1,530.2L363.0,529.4L365.8,528.3L368.2,526.2L370.8,524.8L373.5,523.3L376.2,522.1L378.7,520.4L381.6,519.5L384.3,518.1L387.0,517.0L390.2,515.8L393.3,514.5L396.4,513.3L399.7,512.3L402.3,510.0L405.5,508.9L408.1,506.7L411.4,505.6L414.3,503.8L417.0,501.7L420.0,500.2L423.2,499.0L426.1,497.3L428.5,495.3L431.3,494.3L433.6,492.1L436.2,490.5L438.9,489.2L441.8,488.4L444.6,487.1L447.5,486.1L450.4,485.1L453.2,483.7L456.1,482.7L459.0,481.8L462.0,481.0L464.6,479.4L467.9,478.4L471.4,478.7L474.8,478.1L478.2,477.3L481.6,476.9L485.0,476.2L488.0,475.7L491.1,475.8L494.1,475.2L497.0,474.4L500.1,474.6L503.1,473.9L506.1,473.6L509.0,472.9L512.1,473.1L515.0,472.2L518.0,472.0L521.0,471.4"/>
<path stroke="#d95319" d="M265.0,612.0L267.7,610.6L270.1,608.3L272.7,606.7L275.6,605.6L278.1,603.6L280.6,601.8L283.4,600.6L286.2,599.2L289.3,598.6L292.7,598.6L295.7,598.0L298.5,596.8L301.3,595.8L303.8,593.9L306.5,592.5L309.4,591.5L311.9,589.9L313.9,587.3L316.3,585.3L318.3,582.9L320.5,580.7L323.0,578.8L325.3,576.7L328.1,575.1L331.2,574.0L333.9,572.3L336.5,570.6L338.9,568.8L341.6,567.3L343.8,565.2L345.9,562.9L348.3,561.0L350.4,558.7L353.0,557.0L355.3,555.1L357.8,553.3L359.8,550.9L362.9,549.8L365.4,547.9L367.9,546.1L370.8,544.6L373.4,542.9L375.8,541.1L378.5,539.3L381.3,537.6L383.7,535.1L386.3,532.9L388.8,530.6L391.7,529.0L394.7,527.5L397.5,525.7L400.3,523.7L403.2,521.9L406.0,519.9L408.8,518.0L412.1,516.8L414.9,514.8L417.5,512.9L420.6,512.0L423.3,510.1L426.2,508.7L429.0,507.2L431.7,505.6L434.6,504.3L437.8,503.5L440.7,502.1L443.8,501.1L446.7,499.9L449.7,498.7L452.7,497.6L455.6,496.3L458.2,495.1L460.8,493.3L463.9,493.0L466.6,491.4L469.3,490.2L472.2,489.3L475.3,488.7L478.0,487.1L481.0,486.4L484.0,485.7L487.0,484.8L490.0,484.1L493.4,484.3L495.7,482.3L499.3,482.9L502.1,480.3L505.2,478.4L508.3,476.6L511.8,476.2L515.0,475.0"/>
<path stroke="#d95319" d="M268.0,620.0L270.7,618.7L273.8,618.2L276.6,617.0L279.7,616.5L282.3,614.9L285.3,614.2L288.1,613.2L290.8,611.4L293.6,609.5L295.9,606.8L298.2,604.2L301.0,602.5L303.6,600.3L306.4,598.5L309.1,596.6L312.4,595.4L315.7,594.2L318.4,592.2L322.0,591.4L324.7,589.3L327.6,587.5L330.3,585.4L332.7,583.3L335.5,581.8L337.7,579.7L340.3,577.8L342.1,575.2L344.3,573.1L346.9,571.3L348.9,569.0L351.6,567.0L354.1,564.8L356.7,562.6L358.5,559.7L361.3,557.8L363.9,555.7L365.7,552.8L368.3,550.7L371.3,548.9L373.8,546.5L376.8,544.7L379.3,542.2L382.3,540.5L384.1,537.3L386.4,534.8L388.9,532.6L391.2,530.2L394.0,528.2L397.0,526.6L399.3,523.9L402.8,523.0L406.1,521.9L409.0,520.0L411.8,518.0L415.0,516.7L417.9,514.0L421.8,515.4L425.5,516.2L429.1,517.1L431.7,518.6L433.4,516.3L436.0,513.9L438.6,511.6L441.0,508.9L443.9,506.4L447.2,505.0L450.5,503.9L453.7,502.7L456.9,501.3L460.0,500.0"/>
<path stroke="#d95319" d="M264.0,605.0L267.0,603.4L269.9,601.5L273.2,600.4L276.4,599.0L279.2,597.0L282.5,595.8L285.2,593.7L288.5,592.5L291.4,590.7L294.7,589.5L297.6,587.8L301.0,586.8L303.9,585.0L307.0,583.5L309.7,581.2L312.8,579.8L315.9,578.4L318.9,576.6L322.1,575.2L324.9,573.3L328.1,572.0L331.2,570.4L334.0,568.4L337.3,567.0L340.0,564.4L342.6,562.3L345.5,560.3L348.1,558.0L350.4,555.5L353.0,553.3L355.5,551.2L358.1,549.1L360.9,547.2L363.3,544.8L366.2,543.2L368.8,541.2L371.4,539.4L373.6,537.1L376.3,535.4L379.0,533.9L381.5,532.0L384.3,530.5L387.6,529.1L390.7,527.4L393.8,525.6L397.1,524.2L400.1,522.1L402.9,519.9L406.0,518.2L409.3,517.1L412.7,516.1L416.0,515.0"/>
<path stroke="#d95319" d="M280.0,560.0L282.8,558.5L285.2,556.5L287.8,554.8L290.0,552.6L292.9,551.2L295.7,549.7L297.7,547.2L300.7,545.9L303.1,543.5L305.2,540.8L307.9,538.8L310.1,536.2L312.4,533.7L314.8,531.4L317.9,529.8L320.5,527.8L323.6,526.3L326.4,524.3L329.2,522.6L331.5,520.0L333.9,517.8L336.9,516.2L339.6,514.8L342.2,513.0L344.9,511.5L347.2,509.3L350.0,507.8L353.1,506.4L354.7,503.3L356.7,500.8L359.0,498.7L360.7,496.0L362.7,493.5L365.0,491.4L367.1,488.8L370.3,487.5L373.1,485.9L376.5,485.1L379.2,483.4L381.0,480.1L384.3,479.1L387.2,477.6L390.5,475.9L393.5,473.7L396.4,471.3L399.5,469.1L402.8,468.1L406.0,466.7L408.7,464.7L412.1,463.8L415.2,462.4L418.6,461.9L421.4,460.1L424.6,459.1L427.3,457.1L430.4,455.9L433.5,453.8L437.0,452.5L440.5,451.1L444.0,450.0"/>
<path stroke="#d95319" d="M433.7,420.0L435.1,423.3L435.2,426.8L436.5,430.1L437.2,433.5L437.8,436.9L437.9,440.0L438.8,442.7L440.6,445.4L442.4,448.0L444.0,450.8"/>
<path stroke="#d95319" d="M383.0,470.0L384.0,467.0L384.1,463.8L383.9,460.5L385.0,457.5L384.8,454.2L384.8,451.0L387.1,445.8L390.3,450.6L391.0,453.6L390.9,456.8L391.7,459.8L391.2,463.2L391.8,466.2L392.2,469.3L392.8,472.4L394.2,475.3L395.9,478.0L397.1,481.0L398.6,483.8L399.4,486.9L400.5,489.8L402.6,491.9L403.4,494.9L405.0,497.5L405.5,500.8L406.8,503.5L409.1,505.7L411.9,508.1L414.4,510.6L417.3,512.7L420.0,515.0"/>
<path stroke="#d95319" d="M250.0,540.0L251.5,537.0L253.2,534.2L254.5,531.1L256.6,528.4L258.9,525.9L260.9,523.2L262.5,520.3L264.3,517.4L266.2,514.6L267.4,511.3L269.3,508.5L271.1,505.6L272.7,502.6L274.9,499.9L276.7,497.4L278.3,494.7L280.2,492.2L281.9,489.6L283.4,486.8L284.9,484.0L286.9,481.6L289.2,479.3L292.2,477.9L294.7,476.2L297.1,474.3L299.3,472.2L301.6,470.1L303.6,467.9L305.9,466.0L308.4,464.1L311.1,462.1L313.6,460.0L316.0,457.8L318.6,456.0L321.5,455.0L324.4,453.4L327.4,452.3L330.3,450.9L333.4,450.2L336.4,449.2L339.2,447.7L342.2,446.7L345.0,444.9L348.1,445.3L351.2,445.1L354.3,445.2L357.3,446.0L359.8,446.2L362.2,444.7L365.4,444.1L368.4,443.0L371.9,442.9L374.6,441.1L377.8,440.1L380.8,438.8L385.2,440.5L387.8,438.1L389.9,436.8L392.7,438.0L396.6,438.4L400.0,440.0"/>
<path stroke="#d95319" d="M300.0,460.0L299.8,463.1L299.3,466.1L299.8,469.3L300.0,472.4L299.9,475.5L300.6,478.7L300.2,481.8L299.2,484.8L301.4,488.1L300.6,491.1L298.7,494.1L297.9,497.1L297.0,500.1L296.4,503.1L295.2,506.1L294.6,509.2L294.8,512.3L294.3,515.4L292.6,518.3L292.4,521.4L292.1,524.5L291.3,527.5L291.6,530.6L291.3,533.7L289.3,536.6L289.9,539.8L291.0,543.1L290.9,546.3L291.3,549.6L290.4,552.7L290.0,555.9L289.8,559.1L290.2,562.4L289.8,565.5L289.2,568.7L288.9,571.9L288.3,575.0L288.3,578.1L287.6,581.1L286.7,584.0L286.4,587.0L285.7,590.0L285.3,593.0L285.1,596.0L284.4,599.0L284.4,602.0L283.9,605.0L282.4,608.2L280.1,611.2L280.3,614.7L280.8,618.2L279.9,621.5L280.0,625.0"/>
<path stroke="#d95319" d="M320.0,480.0L319.3,483.0L318.5,486.1L319.0,489.2L318.6,492.3L318.4,495.4L318.5,498.6L316.8,501.5L317.3,504.7L316.7,507.7L316.0,510.8L315.1,513.8L313.5,516.7L313.4,519.8L312.0,522.8L312.0,526.1L311.5,529.2L311.8,532.5L311.4,535.7L310.8,538.9L311.3,542.2L312.2,545.6L308.8,548.3L308.6,551.6L308.7,554.8L308.5,557.8L308.0,560.8L306.9,563.7L307.7,566.9L306.8,569.9L306.4,572.9L305.3,575.8L304.6,578.8L304.9,581.9L303.8,584.7L303.0,587.8L302.5,591.0L302.0,594.3L300.9,597.3L300.7,600.6L300.5,604.0L299.0,606.9L299.0,610.5L296.5,613.3L294.0,616.0L292.3,619.2L290.0,622.0"/>
<path stroke="#d95319" d="M260.0,470.0L260.5,473.1L259.8,476.2L259.9,479.3L259.5,482.4L258.9,485.5L258.5,488.6L259.3,491.6L259.1,494.7L259.8,497.8L260.9,500.8L261.8,503.8L261.8,506.9L262.8,510.0L263.0,513.0L263.7,516.1L263.1,519.2L263.4,522.3L263.2,525.4L262.9,528.5L263.1,531.5L260.4,534.8L260.6,537.8L261.4,540.9L262.1,543.9L262.7,547.0L263.6,550.0L263.3,553.1L264.2,556.2L264.5,559.2L265.0,562.3L264.9,565.4L266.1,568.4L266.7,571.5L266.9,574.5L266.9,577.6L267.3,580.7L267.3,583.8L267.6,586.8L267.8,589.9L268.3,592.9L268.1,595.9L268.2,598.9L268.9,601.9L269.0,604.9L268.7,607.9L267.9,611.0L267.7,614.0L268.2,617.0L268.0,620.0"/>
<path stroke="#d95319" d="M240.0,480.0L241.2,483.0L241.5,486.1L242.3,489.1L242.1,492.3L242.0,495.4L242.7,498.5L242.8,501.6L243.4,504.7L244.1,507.7L244.0,510.9L244.2,514.0L244.8,517.0L244.8,520.2L245.3,523.3L245.7,526.3L246.8,529.3L247.4,532.4L248.7,535.3L249.6,538.3L250.6,541.3L251.3,544.4L251.3,547.5L252.3,550.5L252.4,553.6L252.3,556.8L252.8,559.9L252.9,563.1L253.4,566.3L254.7,569.4L254.6,572.6L256.0,575.7L256.7,578.8L257.4,582.0L258.1,585.2L258.9,588.3L259.2,591.5L259.3,594.7L259.4,598.2L259.6,601.8L260.1,605.3L261.6,608.4L262.9,611.7L264.0,615.0"/>
<path stroke="#d95319" d="M538.0,505.0L539.0,502.0L540.1,499.1L541.1,496.2L542.3,493.3L545.7,490.8L545.2,487.1L545.0,483.6L546.0,480.4L545.6,476.9L545.0,473.4L545.2,470.1L545.2,466.7L546.6,463.9L546.9,460.6L545.0,456.7L547.3,453.9L549.2,450.4L551.4,447.4L553.2,444.2L555.0,441.3L556.5,438.1L557.2,434.7L558.7,431.3L561.2,427.6L564.9,423.6L567.6,427.8L569.2,431.1L570.7,434.5L571.5,438.2L572.6,441.9L574.8,445.7L578.0,443.3L579.0,440.0L583.0,437.0"/>
<path stroke="#d95319" d="M540.0,495.0L541.1,491.8L543.1,488.9L544.6,485.9L545.7,482.6L548.1,480.1L550.4,477.3L552.4,474.3L554.3,471.2L557.0,468.6L559.1,465.3L561.9,462.5L562.2,459.8L562.2,461.7L563.8,464.6L565.8,467.3L568.2,469.9L569.6,472.8L570.9,475.6L572.1,478.5L572.1,481.8L572.8,484.6L574.2,488.2L576.0,491.7L578.1,494.9L581.0,497.6L584.0,500.0"/>
<path stroke="#d95319" d="M545.0,500.0L546.8,497.0L548.6,494.0L550.2,491.0L551.9,487.9L553.2,484.5L555.9,481.9L557.3,478.6L559.6,475.8L560.0,472.7L561.0,469.8L562.2,467.0L560.7,463.0L562.6,460.6L563.7,457.5L566.2,455.0L567.6,452.1L571.0,448.8L573.0,452.7L573.8,455.7L574.2,458.8L574.8,461.8L575.2,464.9L576.5,467.8L576.6,471.1L578.0,474.0L580.4,477.1L583.0,480.0"/>
<path stroke="#d95319" d="M536.0,510.0L538.0,507.5L539.7,504.7L541.9,502.4L543.4,499.5L546.3,497.0L548.9,494.2L551.6,491.5L555.0,490.5L557.9,488.8L560.0,487.6L561.7,489.2L564.0,491.8L566.4,494.0L569.0,495.5L571.9,496.9L574.8,498.3L578.4,500.3L582.0,502.0"/>
<path stroke="#d95319" d="M540.0,485.0L540.9,481.9L542.6,479.1L543.2,475.8L545.0,473.1L546.0,470.0L546.9,466.5L548.5,463.3L550.3,460.3L553.3,457.3L557.0,454.4L559.1,457.3L561.4,459.3L563.2,461.9L564.8,465.9L566.0,470.0"/>
<path stroke="#d95319" d="M530.0,470.0L531.3,467.1L531.7,463.9L532.2,460.7L532.9,457.6L533.7,454.5L535.2,450.9L537.1,447.7L538.5,444.3L541.2,441.6L543.1,438.6L545.4,435.7L546.7,432.6L549.9,431.3L551.6,429.4L553.6,431.6L555.6,434.9L558.0,438.0"/>
<path stroke="#d95319" d="M545.0,520.0L548.3,518.3L551.6,516.6L554.9,514.9L557.7,512.1L561.0,510.3L564.3,509.0L567.5,507.5L570.0,505.0"/>
<path stroke="#d95319" d="M520.0,458.0L523.6,456.5L527.1,454.7L530.2,452.3L533.3,450.6L536.5,448.9L540.0,448.2L543.9,450.2L548.0,452.0"/>
</g>
<g clip-path="url(#ax)" stroke-width="0.9">
<circle cx="518.2" cy="525.2" r="8.0" fill="#2993ef" stroke="#278ee7"/>
<circle cx="639.5" cy="182.8" r="8.0" fill="#f8e91a" stroke="#f0e219"/>
<circle cx="556.9" cy="528.4" r="8.0" fill="#4747e6" stroke="#4444df"/>
<circle cx="555.6" cy="397.9" r="8.0" fill="#a6c23a" stroke="#a1bc38"/>
<circle cx="527.9" cy="456.9" r="8.0" fill="#3fc38a" stroke="#3dbd85"/>
<circle cx="520.9" cy="526.0" r="8.0" fill="#2c8ef2" stroke="#2a89ea"/>
<circle cx="549.8" cy="532.7" r="8.0" fill="#4753f2" stroke="#4450ea"/>
<circle cx="534.3" cy="444.3" r="8.0" fill="#50c57a" stroke="#4dbf76"/>
<circle cx="605.8" cy="281.7" r="8.0" fill="#d2b92f" stroke="#cbb32d"/>
<circle cx="535.1" cy="444.2" r="8.0" fill="#5ac571" stroke="#57bf6d"/>
<circle cx="609.3" cy="274.7" r="8.0" fill="#ceba2f" stroke="#c7b42d"/>
<circle cx="557.5" cy="393.1" r="8.0" fill="#a1c23d" stroke="#9cbc3b"/>
<circle cx="556.0" cy="402.4" r="8.0" fill="#9dc33e" stroke="#98bd3c"/>
<circle cx="601.3" cy="296.4" r="8.0" fill="#c8bb2e" stroke="#c2b52c"/>
<circle cx="607.1" cy="287.5" r="8.0" fill="#ceba2f" stroke="#c7b42d"/>
<circle cx="560.8" cy="333.3" r="8.0" fill="#f3b336" stroke="#ebad34"/>
<circle cx="546.6" cy="397.5" r="8.0" fill="#a4c23b" stroke="#9fbc39"/>
<circle cx="568.4" cy="308.7" r="8.0" fill="#f6b734" stroke="#eeb132"/>
<circle cx="536.0" cy="530.2" r="8.0" fill="#3f6dfd" stroke="#3d69f5"/>
<circle cx="635.0" cy="170.9" r="8.0" fill="#f9f313" stroke="#f1eb12"/>
<circle cx="525.1" cy="501.6" r="8.0" fill="#16b1d5" stroke="#15abce"/>
<circle cx="595.2" cy="326.4" r="8.0" fill="#c3bc2d" stroke="#bdb62b"/>
<circle cx="558.7" cy="528.8" r="8.0" fill="#4746e5" stroke="#4443de"/>
<circle cx="531.1" cy="508.3" r="8.0" fill="#1ea5e0" stroke="#1da0d9"/>
<circle cx="531.4" cy="467.6" r="8.0" fill="#31c197" stroke="#2fbb92"/>
<circle cx="557.0" cy="334.2" r="8.0" fill="#ebb334" stroke="#e3ad32"/>
<circle cx="539.6" cy="527.9" r="8.0" fill="#416bfd" stroke="#3f67f5"/>
<circle cx="561.2" cy="531.9" r="8.0" fill="#4747e6" stroke="#4444df"/>
<circle cx="613.4" cy="221.4" r="8.0" fill="#f9d924" stroke="#f1d222"/>
<circle cx="629.5" cy="175.7" r="8.0" fill="#f9f214" stroke="#f1ea13"/>
<circle cx="547.4" cy="343.9" r="8.0" fill="#f9f413" stroke="#f1ec12"/>
<circle cx="532.4" cy="453.4" r="8.0" fill="#4bc47f" stroke="#48be7b"/>
<circle cx="541.4" cy="455.2" r="8.0" fill="#29c0a1" stroke="#27ba9c"/>
<circle cx="640.8" cy="170.9" r="8.0" fill="#f9f015" stroke="#f1e814"/>
<circle cx="539.5" cy="468.4" r="8.0" fill="#21bead" stroke="#20b8a7"/>
<circle cx="571.1" cy="531.0" r="8.0" fill="#463bd3" stroke="#4339cc"/>
<circle cx="628.8" cy="187.7" r="8.0" fill="#f8e71b" stroke="#f0e01a"/>
<circle cx="583.2" cy="340.3" r="8.0" fill="#c1bd2d" stroke="#bbb72b"/>
<circle cx="530.0" cy="459.5" r="8.0" fill="#3ec38b" stroke="#3cbd86"/>
<circle cx="539.8" cy="529.5" r="8.0" fill="#4367fd" stroke="#4063f5"/>
<circle cx="623.4" cy="182.9" r="8.0" fill="#f8e51c" stroke="#f0de1b"/>
<circle cx="624.4" cy="198.7" r="8.0" fill="#f8e51c" stroke="#f0de1b"/>
<circle cx="574.5" cy="365.1" r="8.0" fill="#adc037" stroke="#a7ba35"/>
<circle cx="520.6" cy="507.1" r="8.0" fill="#21a0e4" stroke="#209bdd"/>
<circle cx="632.8" cy="195.2" r="8.0" fill="#f8ec18" stroke="#f0e417"/>
<circle cx="582.2" cy="267.5" r="8.0" fill="#f9bb32" stroke="#f1b530"/>
<circle cx="626.9" cy="187.6" r="8.0" fill="#f9ed17" stroke="#f1e516"/>
<circle cx="626.0" cy="195.2" r="8.0" fill="#f8e81a" stroke="#f0e119"/>
<circle cx="581.6" cy="267.5" r="8.0" fill="#f8ba33" stroke="#f0b431"/>
<circle cx="591.5" cy="261.6" r="8.0" fill="#fabc32" stroke="#f2b630"/>
<circle cx="524.0" cy="525.5" r="8.0" fill="#2d8af4" stroke="#2b85ec"/>
<circle cx="591.2" cy="253.4" r="8.0" fill="#fdc030" stroke="#f5ba2e"/>
<circle cx="556.9" cy="403.6" r="8.0" fill="#99c342" stroke="#94bd40"/>
<circle cx="531.6" cy="433.1" r="8.0" fill="#5fc56d" stroke="#5cbf69"/>
<circle cx="552.8" cy="349.9" r="8.0" fill="#ebb434" stroke="#e3ae32"/>
<circle cx="532.4" cy="466.0" r="8.0" fill="#32c296" stroke="#30bc91"/>
<circle cx="633.6" cy="171.0" r="8.0" fill="#f8eb18" stroke="#f0e317"/>
<circle cx="536.4" cy="421.6" r="8.0" fill="#7cc656" stroke="#78c053"/>
<circle cx="524.5" cy="501.2" r="8.0" fill="#19add9" stroke="#18a7d2"/>
<circle cx="523.3" cy="472.6" r="8.0" fill="#29c0a1" stroke="#27ba9c"/>
<circle cx="607.4" cy="295.1" r="8.0" fill="#cabb2e" stroke="#c3b52c"/>
<circle cx="528.9" cy="526.1" r="8.0" fill="#327efb" stroke="#307af3"/>
<circle cx="629.7" cy="186.4" r="8.0" fill="#f8e61c" stroke="#f0df1b"/>
<circle cx="520.5" cy="485.4" r="8.0" fill="#1ebdb1" stroke="#1db7ab"/>
<circle cx="533.0" cy="498.0" r="8.0" fill="#17b8c4" stroke="#16b2be"/>
<circle cx="540.0" cy="418.9" r="8.0" fill="#8bc44b" stroke="#86be48"/>
<circle cx="548.6" cy="398.0" r="8.0" fill="#9ec33e" stroke="#99bd3c"/>
<circle cx="538.4" cy="374.4" r="8.0" fill="#f9f015" stroke="#f1e814"/>
<circle cx="584.1" cy="281.4" r="8.0" fill="#f6b734" stroke="#eeb132"/>
<circle cx="554.9" cy="382.0" r="8.0" fill="#a7c139" stroke="#a1bb37"/>
<circle cx="521.6" cy="488.5" r="8.0" fill="#18bbbe" stroke="#17b5b8"/>
<circle cx="595.5" cy="308.6" r="8.0" fill="#cdba2e" stroke="#c6b42c"/>
<circle cx="583.1" cy="264.3" r="8.0" fill="#fabd31" stroke="#f2b72f"/>
<circle cx="569.7" cy="360.0" r="8.0" fill="#b3bf34" stroke="#adb932"/>
<circle cx="562.5" cy="320.1" r="8.0" fill="#f1b236" stroke="#e9ac34"/>
<circle cx="588.0" cy="259.3" r="8.0" fill="#f9bb32" stroke="#f1b530"/>
<circle cx="585.4" cy="261.0" r="8.0" fill="#f9bb32" stroke="#f1b530"/>
<circle cx="521.1" cy="477.2" r="8.0" fill="#21bead" stroke="#20b8a7"/>
<circle cx="578.5" cy="275.1" r="8.0" fill="#f8b933" stroke="#f0b331"/>
<circle cx="567.9" cy="304.8" r="8.0" fill="#f4b535" stroke="#ecaf33"/>
<circle cx="566.3" cy="531.5" r="8.0" fill="#4640db" stroke="#433ed4"/>
<circle cx="583.5" cy="529.0" r="8.0" fill="#4434c7" stroke="#4132c1"/>
<circle cx="569.3" cy="371.7" r="8.0" fill="#a9c138" stroke="#a3bb36"/>
<circle cx="523.2" cy="510.5" r="8.0" fill="#229ee6" stroke="#2099df"/>
<circle cx="588.5" cy="276.3" r="8.0" fill="#f9bb32" stroke="#f1b530"/>
<circle cx="577.9" cy="531.4" r="8.0" fill="#453ad2" stroke="#4238cb"/>
<circle cx="565.7" cy="326.4" r="8.0" fill="#eeb335" stroke="#e6ad33"/>
<circle cx="564.8" cy="316.0" r="8.0" fill="#f4b435" stroke="#ecae33"/>
<circle cx="597.1" cy="314.4" r="8.0" fill="#c4bc2d" stroke="#beb62b"/>
<circle cx="639.1" cy="180.3" r="8.0" fill="#f8ea19" stroke="#f0e218"/>
<circle cx="558.0" cy="334.7" r="8.0" fill="#eab434" stroke="#e2ae32"/>
<circle cx="582.1" cy="324.9" r="8.0" fill="#c3bc2d" stroke="#bdb62b"/>
<circle cx="571.2" cy="529.9" r="8.0" fill="#463cd3" stroke="#433acc"/>
<circle cx="564.6" cy="528.6" r="8.0" fill="#4745e4" stroke="#4442dd"/>
<circle cx="602.4" cy="230.3" r="8.0" fill="#fbcd2a" stroke="#f3c628"/>
<circle cx="588.9" cy="268.4" r="8.0" fill="#fabd31" stroke="#f2b72f"/>
<circle cx="528.5" cy="487.2" r="8.0" fill="#18bbbd" stroke="#17b5b7"/>
<circle cx="561.1" cy="332.1" r="8.0" fill="#f4b435" stroke="#ecae33"/>
<circle cx="610.3" cy="292.6" r="8.0" fill="#ccba2e" stroke="#c5b42c"/>
<circle cx="518.5" cy="509.9" r="8.0" fill="#219fe5" stroke="#209ade"/>
<circle cx="540.1" cy="531.8" r="8.0" fill="#4366fc" stroke="#4062f4"/>
<circle cx="565.1" cy="382.7" r="8.0" fill="#afc035" stroke="#a9ba33"/>
<circle cx="536.4" cy="447.0" r="8.0" fill="#4ec57c" stroke="#4bbf78"/>
<circle cx="609.0" cy="205.8" r="8.0" fill="#f8e11f" stroke="#f0da1e"/>
<circle cx="567.5" cy="309.4" r="8.0" fill="#f2b236" stroke="#eaac34"/>
<circle cx="533.3" cy="389.2" r="8.0" fill="#f9f114" stroke="#f1e913"/>
<circle cx="535.5" cy="490.1" r="8.0" fill="#17b9c3" stroke="#16b3bd"/>
<circle cx="531.4" cy="426.2" r="8.0" fill="#74c65c" stroke="#70c059"/>
<circle cx="579.1" cy="298.3" r="8.0" fill="#f7b933" stroke="#efb331"/>
<circle cx="595.6" cy="320.6" r="8.0" fill="#c2bc2d" stroke="#bcb62b"/>
<circle cx="589.0" cy="242.9" r="8.0" fill="#fdc130" stroke="#f5bb2e"/>
<circle cx="615.8" cy="196.5" r="8.0" fill="#f8e020" stroke="#f0d91f"/>
<circle cx="536.4" cy="529.8" r="8.0" fill="#416bfd" stroke="#3f67f5"/>
<circle cx="615.0" cy="211.7" r="8.0" fill="#f8e21e" stroke="#f0db1d"/>
<circle cx="525.4" cy="505.6" r="8.0" fill="#1ea6df" stroke="#1da1d8"/>
<circle cx="514.3" cy="498.7" r="8.0" fill="#15b3d3" stroke="#14adcc"/>
<circle cx="594.9" cy="322.8" r="8.0" fill="#c6bc2e" stroke="#c0b62c"/>
<circle cx="569.5" cy="311.7" r="8.0" fill="#f6b734" stroke="#eeb132"/>
<circle cx="594.4" cy="229.0" r="8.0" fill="#f9d724" stroke="#f1d022"/>
<circle cx="596.1" cy="263.6" r="8.0" fill="#fcbe31" stroke="#f4b82f"/>
<circle cx="602.6" cy="290.5" r="8.0" fill="#ceba2f" stroke="#c7b42d"/>
<circle cx="536.9" cy="379.8" r="8.0" fill="#f9f611" stroke="#f1ee10"/>
<circle cx="578.6" cy="287.4" r="8.0" fill="#f9bb32" stroke="#f1b530"/>
<circle cx="533.8" cy="438.3" r="8.0" fill="#66c668" stroke="#62c064"/>
<circle cx="576.9" cy="529.8" r="8.0" fill="#453ad1" stroke="#4238ca"/>
<circle cx="533.0" cy="420.0" r="8.0" fill="#85c550" stroke="#81bf4d"/>
<circle cx="563.2" cy="371.8" r="8.0" fill="#a8c139" stroke="#a2bb37"/>
<circle cx="541.9" cy="360.9" r="8.0" fill="#f9f214" stroke="#f1ea13"/>
<circle cx="569.2" cy="353.0" r="8.0" fill="#babe30" stroke="#b4b82e"/>
<circle cx="565.1" cy="325.5" r="8.0" fill="#f0b236" stroke="#e8ac34"/>
<circle cx="552.4" cy="411.3" r="8.0" fill="#98c342" stroke="#93bd40"/>
<circle cx="522.5" cy="485.1" r="8.0" fill="#19bcbb" stroke="#18b6b5"/>
<circle cx="531.2" cy="433.1" r="8.0" fill="#6ac664" stroke="#66c061"/>
<circle cx="631.6" cy="175.7" r="8.0" fill="#f9ed17" stroke="#f1e516"/>
<circle cx="557.4" cy="375.4" r="8.0" fill="#a2c23c" stroke="#9dbc3a"/>
<circle cx="611.6" cy="231.6" r="8.0" fill="#fbce29" stroke="#f3c727"/>
<circle cx="582.2" cy="267.6" r="8.0" fill="#f8ba32" stroke="#f0b430"/>
<circle cx="585.7" cy="317.0" r="8.0" fill="#c1bd2d" stroke="#bbb72b"/>
<circle cx="634.2" cy="187.7" r="8.0" fill="#f8e71b" stroke="#f0e01a"/>
<circle cx="537.7" cy="372.5" r="8.0" fill="#f9ef16" stroke="#f1e715"/>
<circle cx="584.1" cy="345.0" r="8.0" fill="#c1bd2d" stroke="#bbb72b"/>
<circle cx="570.5" cy="347.9" r="8.0" fill="#bcbe2f" stroke="#b6b82d"/>
<circle cx="598.0" cy="334.8" r="8.0" fill="#f2b236" stroke="#eaac34"/>
<circle cx="576.7" cy="388.6" r="8.0" fill="#dfb631" stroke="#d8b02f"/>
<circle cx="587.2" cy="353.1" r="8.0" fill="#b0c035" stroke="#aaba33"/>
<circle cx="613.4" cy="279.6" r="8.0" fill="#cbba2e" stroke="#c4b42c"/>
<circle cx="602.7" cy="292.3" r="8.0" fill="#d2b92f" stroke="#cbb32d"/>
<circle cx="605.6" cy="289.3" r="8.0" fill="#ccba2e" stroke="#c5b42c"/>
<circle cx="599.5" cy="310.6" r="8.0" fill="#c6bc2e" stroke="#c0b62c"/>
<circle cx="557.0" cy="530.7" r="8.0" fill="#4749e8" stroke="#4446e1"/>
<circle cx="590.3" cy="252.5" r="8.0" fill="#fcc62d" stroke="#f4c02b"/>
<circle cx="558.8" cy="396.4" r="8.0" fill="#a3c23b" stroke="#9ebc39"/>
<circle cx="599.6" cy="306.2" r="8.0" fill="#ceba2f" stroke="#c7b42d"/>
<circle cx="596.7" cy="330.9" r="8.0" fill="#c0bd2d" stroke="#bab72b"/>
<circle cx="587.8" cy="276.9" r="8.0" fill="#fabc32" stroke="#f2b630"/>
<circle cx="634.7" cy="187.9" r="8.0" fill="#f8e51c" stroke="#f0de1b"/>
<circle cx="526.9" cy="526.1" r="8.0" fill="#3084f8" stroke="#2e80f0"/>
<circle cx="528.5" cy="450.7" r="8.0" fill="#4bc47f" stroke="#48be7b"/>
<circle cx="533.5" cy="453.4" r="8.0" fill="#3fc38a" stroke="#3dbd85"/>
<circle cx="533.5" cy="529.0" r="8.0" fill="#3a73fd" stroke="#386ff5"/>
<circle cx="598.1" cy="305.2" r="8.0" fill="#c6bc2e" stroke="#c0b62c"/>
<circle cx="609.5" cy="290.4" r="8.0" fill="#cbba2e" stroke="#c4b42c"/>
<circle cx="516.9" cy="524.9" r="8.0" fill="#2895ed" stroke="#2690e5"/>
<circle cx="537.9" cy="375.3" r="8.0" fill="#f9f810" stroke="#f1f00f"/>
<circle cx="526.5" cy="470.2" r="8.0" fill="#2ac09f" stroke="#28ba9a"/>
<circle cx="519.6" cy="476.0" r="8.0" fill="#1fbeaf" stroke="#1eb8a9"/>
<circle cx="610.1" cy="292.6" r="8.0" fill="#cdba2e" stroke="#c6b42c"/>
<circle cx="533.5" cy="495.6" r="8.0" fill="#15b6cc" stroke="#14b0c5"/>
<circle cx="622.2" cy="185.4" r="8.0" fill="#f8e91a" stroke="#f0e219"/>
<circle cx="607.3" cy="279.7" r="8.0" fill="#cfba2f" stroke="#c8b42d"/>
<circle cx="602.4" cy="235.5" r="8.0" fill="#fcc92c" stroke="#f4c22a"/>
<circle cx="559.0" cy="336.8" r="8.0" fill="#ecb334" stroke="#e4ad32"/>
<circle cx="572.9" cy="353.5" r="8.0" fill="#b4bf33" stroke="#aeb931"/>
<circle cx="581.1" cy="345.1" r="8.0" fill="#bfbd2d" stroke="#b9b72b"/>
<circle cx="562.7" cy="326.6" r="8.0" fill="#f3b336" stroke="#ebad34"/>
<circle cx="528.6" cy="463.6" r="8.0" fill="#2bc09e" stroke="#29ba99"/>
<circle cx="634.8" cy="173.1" r="8.0" fill="#f9ee17" stroke="#f1e616"/>
<circle cx="563.4" cy="330.1" r="8.0" fill="#ebb334" stroke="#e3ad32"/>
<circle cx="574.4" cy="530.8" r="8.0" fill="#463cd4" stroke="#433acd"/>
<circle cx="576.4" cy="369.9" r="8.0" fill="#b0c035" stroke="#aaba33"/>
<circle cx="576.6" cy="287.1" r="8.0" fill="#f6b734" stroke="#eeb132"/>
<circle cx="554.1" cy="344.8" r="8.0" fill="#eab434" stroke="#e2ae32"/>
<circle cx="637.5" cy="182.3" r="8.0" fill="#f9ef16" stroke="#f1e715"/>
<circle cx="575.9" cy="528.0" r="8.0" fill="#463dd5" stroke="#433bce"/>
<circle cx="538.4" cy="372.8" r="8.0" fill="#f9f413" stroke="#f1ec12"/>
<circle cx="587.6" cy="262.4" r="8.0" fill="#fabd31" stroke="#f2b72f"/>
<circle cx="582.1" cy="331.6" r="8.0" fill="#bfbd2e" stroke="#b9b72c"/>
<circle cx="535.2" cy="486.6" r="8.0" fill="#19bcba" stroke="#18b6b4"/>
<circle cx="592.2" cy="322.7" r="8.0" fill="#c6bc2e" stroke="#c0b62c"/>
<circle cx="569.8" cy="300.0" r="8.0" fill="#f2b236" stroke="#eaac34"/>
<circle cx="555.4" cy="529.4" r="8.0" fill="#474eed" stroke="#444be5"/>
<circle cx="555.0" cy="529.5" r="8.0" fill="#474bea" stroke="#4448e2"/>
<circle cx="522.9" cy="485.7" r="8.0" fill="#19bcb9" stroke="#18b6b3"/>
<circle cx="561.0" cy="323.3" r="8.0" fill="#edb335" stroke="#e5ad33"/>
<circle cx="542.2" cy="529.7" r="8.0" fill="#4463fb" stroke="#4160f3"/>
<circle cx="569.7" cy="314.7" r="8.0" fill="#f3b335" stroke="#ebad33"/>
<circle cx="532.1" cy="390.1" r="8.0" fill="#f9f413" stroke="#f1ec12"/>
<circle cx="529.2" cy="489.4" r="8.0" fill="#18babe" stroke="#17b4b8"/>
<circle cx="563.0" cy="390.3" r="8.0" fill="#aac138" stroke="#a4bb36"/>
<circle cx="558.2" cy="339.2" r="8.0" fill="#f1b236" stroke="#e9ac34"/>
<circle cx="593.1" cy="340.2" r="8.0" fill="#bfbd2d" stroke="#b9b72b"/>
<circle cx="525.8" cy="477.3" r="8.0" fill="#26bfa6" stroke="#24b9a1"/>
<circle cx="530.8" cy="450.1" r="8.0" fill="#49c481" stroke="#46be7d"/>
<circle cx="535.8" cy="384.8" r="8.0" fill="#f9f810" stroke="#f1f00f"/>
<circle cx="549.4" cy="340.5" r="8.0" fill="#f9ef16" stroke="#f1e715"/>
<circle cx="533.1" cy="439.7" r="8.0" fill="#62c56b" stroke="#5fbf67"/>
<circle cx="580.9" cy="352.3" r="8.0" fill="#bfbd2e" stroke="#b9b72c"/>
<circle cx="565.4" cy="311.9" r="8.0" fill="#f5b535" stroke="#edaf33"/>
<circle cx="610.8" cy="284.9" r="8.0" fill="#d2b92f" stroke="#cbb32d"/>
<circle cx="521.6" cy="496.5" r="8.0" fill="#14b5d0" stroke="#13afc9"/>
<circle cx="572.7" cy="529.6" r="8.0" fill="#463ed8" stroke="#433cd1"/>
<circle cx="618.7" cy="200.6" r="8.0" fill="#f8e61c" stroke="#f0df1b"/>
<circle cx="535.5" cy="415.1" r="8.0" fill="#8fc448" stroke="#8abe45"/>
<circle cx="587.4" cy="350.1" r="8.0" fill="#b8be31" stroke="#b2b82f"/>
<circle cx="529.8" cy="447.6" r="8.0" fill="#4dc57c" stroke="#4abf78"/>
<circle cx="583.2" cy="285.2" r="8.0" fill="#f5b634" stroke="#edb032"/>
<circle cx="544.6" cy="353.8" r="8.0" fill="#f9ee16" stroke="#f1e615"/>
<circle cx="598.8" cy="320.7" r="8.0" fill="#bfbd2d" stroke="#b9b72b"/>
<circle cx="604.3" cy="306.3" r="8.0" fill="#c6bc2e" stroke="#c0b62c"/>
<circle cx="572.3" cy="529.2" r="8.0" fill="#463ed8" stroke="#433cd1"/>
<circle cx="532.7" cy="529.3" r="8.0" fill="#3974fd" stroke="#3770f5"/>
<circle cx="527.2" cy="496.5" r="8.0" fill="#15b3d3" stroke="#14adcc"/>
<circle cx="555.4" cy="348.7" r="8.0" fill="#edb335" stroke="#e5ad33"/>
<circle cx="535.3" cy="528.2" r="8.0" fill="#3b71fd" stroke="#396df5"/>
<circle cx="566.6" cy="528.8" r="8.0" fill="#463ed8" stroke="#433cd1"/>
<circle cx="556.0" cy="407.4" r="8.0" fill="#96c444" stroke="#91be41"/>
<circle cx="617.0" cy="226.6" r="8.0" fill="#f8de21" stroke="#f0d720"/>
<circle cx="614.4" cy="227.5" r="8.0" fill="#fad426" stroke="#f2cd24"/>
<circle cx="612.7" cy="277.0" r="8.0" fill="#d4b82f" stroke="#cdb22d"/>
<circle cx="540.8" cy="364.8" r="8.0" fill="#f9f810" stroke="#f1f00f"/>
<circle cx="549.7" cy="409.5" r="8.0" fill="#93c446" stroke="#8ebe43"/>
<circle cx="556.8" cy="371.3" r="8.0" fill="#a8c139" stroke="#a2bb37"/>
<circle cx="607.6" cy="285.2" r="8.0" fill="#cdba2e" stroke="#c6b42c"/>
<circle cx="597.5" cy="308.9" r="8.0" fill="#c8bb2e" stroke="#c2b52c"/>
<circle cx="588.4" cy="345.6" r="8.0" fill="#c1bd2d" stroke="#bbb72b"/>
<circle cx="605.8" cy="285.0" r="8.0" fill="#ceba2f" stroke="#c7b42d"/>
<circle cx="575.6" cy="302.4" r="8.0" fill="#f4b435" stroke="#ecae33"/>
<circle cx="564.0" cy="362.2" r="8.0" fill="#b5bf32" stroke="#afb930"/>
<circle cx="584.8" cy="341.2" r="8.0" fill="#c3bc2d" stroke="#bdb62b"/>
<circle cx="597.9" cy="296.9" r="8.0" fill="#cabb2e" stroke="#c3b52c"/>
<circle cx="577.4" cy="295.5" r="8.0" fill="#f4b535" stroke="#ecaf33"/>
<circle cx="545.7" cy="408.1" r="8.0" fill="#93c445" stroke="#8ebe42"/>
<circle cx="557.0" cy="342.5" r="8.0" fill="#ebb434" stroke="#e3ae32"/>
<circle cx="519.6" cy="492.0" r="8.0" fill="#17b8c5" stroke="#16b2bf"/>
<circle cx="604.7" cy="226.2" r="8.0" fill="#f9d725" stroke="#f1d023"/>
<circle cx="537.1" cy="480.9" r="8.0" fill="#19bbbb" stroke="#18b5b5"/>
<circle cx="584.2" cy="274.0" r="8.0" fill="#f9bb32" stroke="#f1b530"/>
<circle cx="540.2" cy="371.8" r="8.0" fill="#f9fb0e" stroke="#f1f30d"/>
<circle cx="611.5" cy="281.1" r="8.0" fill="#d5b82f" stroke="#ceb22d"/>
<circle cx="623.5" cy="190.7" r="8.0" fill="#f8ec18" stroke="#f0e417"/>
<circle cx="556.2" cy="382.1" r="8.0" fill="#9ec33e" stroke="#99bd3c"/>
<circle cx="640.8" cy="171.4" r="8.0" fill="#f8eb19" stroke="#f0e318"/>
<circle cx="583.9" cy="357.2" r="8.0" fill="#bdbe2f" stroke="#b7b82d"/>
<circle cx="580.5" cy="301.3" r="8.0" fill="#f3b435" stroke="#ebae33"/>
<circle cx="632.1" cy="181.4" r="8.0" fill="#f8e61c" stroke="#f0df1b"/>
<circle cx="610.1" cy="292.4" r="8.0" fill="#d4b82f" stroke="#cdb22d"/>
<circle cx="529.5" cy="470.2" r="8.0" fill="#2bc09e" stroke="#29ba99"/>
<circle cx="543.4" cy="530.2" r="8.0" fill="#4561fa" stroke="#425ef2"/>
<circle cx="516.5" cy="522.5" r="8.0" fill="#2796ec" stroke="#2591e4"/>
<circle cx="569.1" cy="375.1" r="8.0" fill="#afc036" stroke="#a9ba34"/>
<circle cx="639.9" cy="171.5" r="8.0" fill="#f9f214" stroke="#f1ea13"/>
<circle cx="562.5" cy="360.6" r="8.0" fill="#abc137" stroke="#a5bb35"/>
<circle cx="542.6" cy="362.8" r="8.0" fill="#f9ef16" stroke="#f1e715"/>
<circle cx="517.7" cy="495.5" r="8.0" fill="#14b4d2" stroke="#13aecb"/>
<circle cx="542.6" cy="451.0" r="8.0" fill="#24bfa9" stroke="#22b9a3"/>
<circle cx="549.1" cy="530.0" r="8.0" fill="#4756f5" stroke="#4453ed"/>
<circle cx="528.2" cy="526.7" r="8.0" fill="#347afd" stroke="#3276f5"/>
<circle cx="523.1" cy="474.3" r="8.0" fill="#29c0a1" stroke="#27ba9c"/>
<circle cx="559.3" cy="331.0" r="8.0" fill="#f3b435" stroke="#ebae33"/>
<circle cx="608.0" cy="206.6" r="8.0" fill="#f9d923" stroke="#f1d221"/>
<circle cx="525.1" cy="528.0" r="8.0" fill="#3181f9" stroke="#2f7df1"/>
<circle cx="535.1" cy="436.6" r="8.0" fill="#64c669" stroke="#61c065"/>
<circle cx="580.7" cy="290.7" r="8.0" fill="#f5b535" stroke="#edaf33"/>
<circle cx="554.1" cy="346.7" r="8.0" fill="#eab434" stroke="#e2ae32"/>
<circle cx="521.9" cy="497.8" r="8.0" fill="#16b0d5" stroke="#15aace"/>
<circle cx="593.6" cy="248.3" r="8.0" fill="#fcc42e" stroke="#f4be2c"/>
<circle cx="596.7" cy="246.4" r="8.0" fill="#fcc82c" stroke="#f4c22a"/>
<circle cx="562.6" cy="323.0" r="8.0" fill="#f2b236" stroke="#eaac34"/>
<circle cx="599.8" cy="319.5" r="8.0" fill="#cabb2e" stroke="#c3b52c"/>
<circle cx="533.7" cy="458.6" r="8.0" fill="#41c388" stroke="#3fbd83"/>
<circle cx="599.2" cy="245.9" r="8.0" fill="#fbce29" stroke="#f3c727"/>
<circle cx="579.7" cy="278.5" r="8.0" fill="#f8ba33" stroke="#f0b431"/>
<circle cx="586.9" cy="271.2" r="8.0" fill="#f8ba33" stroke="#f0b431"/>
<circle cx="570.2" cy="368.5" r="8.0" fill="#b3bf33" stroke="#adb931"/>
<circle cx="581.9" cy="528.4" r="8.0" fill="#4230bd" stroke="#402eb7"/>
<circle cx="579.7" cy="361.8" r="8.0" fill="#abc137" stroke="#a5bb35"/>
<circle cx="569.4" cy="318.3" r="8.0" fill="#f5b634" stroke="#edb032"/>
<circle cx="543.4" cy="528.6" r="8.0" fill="#455ff9" stroke="#425cf1"/>
<circle cx="559.5" cy="531.1" r="8.0" fill="#4748e7" stroke="#4445e0"/>
<circle cx="581.5" cy="274.6" r="8.0" fill="#f9bb32" stroke="#f1b530"/>
<circle cx="560.4" cy="375.1" r="8.0" fill="#a4c23b" stroke="#9fbc39"/>
<circle cx="556.0" cy="385.5" r="8.0" fill="#aac138" stroke="#a4bb36"/>
<circle cx="522.8" cy="510.8" r="8.0" fill="#1fa3e2" stroke="#1e9edb"/>
<circle cx="605.1" cy="300.0" r="8.0" fill="#c9bb2e" stroke="#c2b52c"/>
<circle cx="571.0" cy="354.2" r="8.0" fill="#aec036" stroke="#a8ba34"/>
<circle cx="540.5" cy="466.0" r="8.0" fill="#21bead" stroke="#20b8a7"/>
<circle cx="553.6" cy="405.0" r="8.0" fill="#a0c33d" stroke="#9bbd3b"/>
<circle cx="599.1" cy="293.6" r="8.0" fill="#d1b92f" stroke="#cab32d"/>
<circle cx="579.6" cy="530.0" r="8.0" fill="#4537cc" stroke="#4235c5"/>
<circle cx="580.1" cy="272.6" r="8.0" fill="#fabc32" stroke="#f2b630"/>
<circle cx="530.4" cy="477.2" r="8.0" fill="#26bfa6" stroke="#24b9a1"/>
<circle cx="594.5" cy="237.6" r="8.0" fill="#fad227" stroke="#f2cb25"/>
<circle cx="547.4" cy="390.7" r="8.0" fill="#a3c23c" stroke="#9ebc3a"/>
<circle cx="548.8" cy="336.8" r="8.0" fill="#f9f90f" stroke="#f1f10e"/>
<circle cx="553.2" cy="386.0" r="8.0" fill="#a6c23a" stroke="#a1bc38"/>
<circle cx="543.0" cy="529.4" r="8.0" fill="#4560fa" stroke="#425df2"/>
<circle cx="533.2" cy="455.8" r="8.0" fill="#38c290" stroke="#36bc8b"/>
<circle cx="550.4" cy="530.8" r="8.0" fill="#4753f2" stroke="#4450ea"/>
<circle cx="546.9" cy="349.3" r="8.0" fill="#f9f611" stroke="#f1ee10"/>
<circle cx="611.7" cy="225.3" r="8.0" fill="#f9da23" stroke="#f1d321"/>
<circle cx="569.8" cy="352.7" r="8.0" fill="#b3bf34" stroke="#adb932"/>
<circle cx="562.4" cy="386.3" r="8.0" fill="#a9c138" stroke="#a3bb36"/>
<circle cx="548.9" cy="343.1" r="8.0" fill="#f9f214" stroke="#f1ea13"/>
<circle cx="555.2" cy="346.2" r="8.0" fill="#f1b236" stroke="#e9ac34"/>
<circle cx="514.8" cy="521.6" r="8.0" fill="#239de7" stroke="#2198e0"/>
<circle cx="582.4" cy="338.7" r="8.0" fill="#b7bf32" stroke="#b1b930"/>
<circle cx="603.7" cy="313.6" r="8.0" fill="#c5bc2e" stroke="#bfb62c"/>
<circle cx="558.5" cy="338.2" r="8.0" fill="#f0b236" stroke="#e8ac34"/>
<circle cx="546.2" cy="353.1" r="8.0" fill="#f9f810" stroke="#f1f00f"/>
<circle cx="621.4" cy="201.4" r="8.0" fill="#f8e11f" stroke="#f0da1e"/>
<circle cx="594.1" cy="255.5" r="8.0" fill="#fcbe31" stroke="#f4b82f"/>
<circle cx="547.6" cy="409.0" r="8.0" fill="#94c445" stroke="#8fbe42"/>
<circle cx="584.9" cy="284.0" r="8.0" fill="#f5b634" stroke="#edb032"/>
<circle cx="528.0" cy="471.0" r="8.0" fill="#29c0a1" stroke="#27ba9c"/>
<circle cx="618.1" cy="219.0" r="8.0" fill="#f8de21" stroke="#f0d720"/>
<circle cx="568.6" cy="310.7" r="8.0" fill="#f5b634" stroke="#edb032"/>
<circle cx="541.3" cy="365.5" r="8.0" fill="#f9f810" stroke="#f1f00f"/>
<circle cx="625.8" cy="187.5" r="8.0" fill="#f8e91a" stroke="#f0e219"/>
<circle cx="545.7" cy="530.8" r="8.0" fill="#465df9" stroke="#435af1"/>
<circle cx="552.3" cy="412.8" r="8.0" fill="#98c342" stroke="#93bd40"/>
<circle cx="599.2" cy="299.7" r="8.0" fill="#ccba2e" stroke="#c5b42c"/>
<circle cx="589.7" cy="317.9" r="8.0" fill="#c0bd2d" stroke="#bab72b"/>
<circle cx="566.9" cy="307.0" r="8.0" fill="#f3b435" stroke="#ebae33"/>
<circle cx="623.4" cy="192.9" r="8.0" fill="#f8e71b" stroke="#f0e01a"/>
<circle cx="581.1" cy="330.5" r="8.0" fill="#c2bd2d" stroke="#bcb72b"/>
<circle cx="604.4" cy="234.9" r="8.0" fill="#fad028" stroke="#f2c926"/>
<circle cx="561.8" cy="376.5" r="8.0" fill="#a7c13a" stroke="#a1bb38"/>
<circle cx="531.4" cy="444.4" r="8.0" fill="#56c575" stroke="#53bf71"/>
<circle cx="591.2" cy="339.6" r="8.0" fill="#b7bf31" stroke="#b1b92f"/>
<circle cx="531.8" cy="502.3" r="8.0" fill="#15b6cc" stroke="#14b0c5"/>
<circle cx="606.0" cy="219.0" r="8.0" fill="#f9d724" stroke="#f1d022"/>
<circle cx="614.1" cy="213.1" r="8.0" fill="#f9d525" stroke="#f1ce23"/>
<circle cx="632.8" cy="173.7" r="8.0" fill="#f9ed17" stroke="#f1e516"/>
<circle cx="519.5" cy="488.1" r="8.0" fill="#19bcba" stroke="#18b6b4"/>
<circle cx="595.6" cy="261.4" r="8.0" fill="#fdc22f" stroke="#f5bc2d"/>
<circle cx="579.6" cy="277.7" r="8.0" fill="#f9bb32" stroke="#f1b530"/>
<circle cx="569.8" cy="530.6" r="8.0" fill="#4641dd" stroke="#433fd6"/>
<circle cx="531.6" cy="441.3" r="8.0" fill="#5cc570" stroke="#59bf6c"/>
<circle cx="537.4" cy="427.2" r="8.0" fill="#69c665" stroke="#65c061"/>
<circle cx="526.6" cy="450.1" r="8.0" fill="#46c484" stroke="#43be80"/>
<circle cx="527.1" cy="470.2" r="8.0" fill="#2dc19b" stroke="#2bbb96"/>
<circle cx="592.7" cy="310.0" r="8.0" fill="#ccba2e" stroke="#c5b42c"/>
<circle cx="570.0" cy="300.0" r="8.0" fill="#f4b435" stroke="#ecae33"/>
<circle cx="634.2" cy="184.0" r="8.0" fill="#f8eb18" stroke="#f0e317"/>
<circle cx="611.9" cy="279.9" r="8.0" fill="#cfb92f" stroke="#c8b32d"/>
<circle cx="534.3" cy="387.0" r="8.0" fill="#f9fb0e" stroke="#f1f30d"/>
<circle cx="631.6" cy="198.8" r="8.0" fill="#f8ea19" stroke="#f0e218"/>
<circle cx="528.1" cy="455.0" r="8.0" fill="#39c290" stroke="#37bc8b"/>
<circle cx="561.6" cy="378.2" r="8.0" fill="#a6c23a" stroke="#a1bc38"/>
<circle cx="536.1" cy="383.8" r="8.0" fill="#f9f710" stroke="#f1ef0f"/>
<circle cx="582.2" cy="280.1" r="8.0" fill="#f7b833" stroke="#efb231"/>
<circle cx="550.0" cy="406.3" r="8.0" fill="#96c444" stroke="#91be41"/>
<circle cx="534.7" cy="386.3" r="8.0" fill="#f9f90f" stroke="#f1f10e"/>
<circle cx="533.3" cy="432.1" r="8.0" fill="#62c56b" stroke="#5fbf67"/>
<circle cx="572.3" cy="352.7" r="8.0" fill="#babe30" stroke="#b4b82e"/>
<circle cx="531.8" cy="450.7" r="8.0" fill="#49c481" stroke="#46be7d"/>
<circle cx="561.6" cy="530.2" r="8.0" fill="#4749e8" stroke="#4446e1"/>
<circle cx="537.5" cy="447.4" r="8.0" fill="#4bc47f" stroke="#48be7b"/>
<circle cx="602.6" cy="303.0" r="8.0" fill="#d1b92f" stroke="#cab32d"/>
<circle cx="523.2" cy="481.5" r="8.0" fill="#1dbdb3" stroke="#1cb7ad"/>
<circle cx="593.8" cy="346.5" r="8.0" fill="#f0b236" stroke="#e8ac34"/>
<circle cx="560.1" cy="391.9" r="8.0" fill="#a0c33d" stroke="#9bbd3b"/>
<circle cx="638.7" cy="171.8" r="8.0" fill="#f9ed17" stroke="#f1e516"/>
<circle cx="612.9" cy="200.3" r="8.0" fill="#f8e21e" stroke="#f0db1d"/>
<circle cx="627.6" cy="194.5" r="8.0" fill="#f8e71b" stroke="#f0e01a"/>
<circle cx="568.5" cy="302.8" r="8.0" fill="#f5b634" stroke="#edb032"/>
<circle cx="579.8" cy="286.5" r="8.0" fill="#f5b634" stroke="#edb032"/>
<circle cx="617.5" cy="215.7" r="8.0" fill="#f9d625" stroke="#f1cf23"/>
<circle cx="577.4" cy="359.1" r="8.0" fill="#bbbe30" stroke="#b5b82e"/>
<circle cx="581.4" cy="269.8" r="8.0" fill="#fabc32" stroke="#f2b630"/>
<circle cx="584.3" cy="325.1" r="8.0" fill="#c2bc2d" stroke="#bcb62b"/>
<circle cx="568.8" cy="371.1" r="8.0" fill="#adc037" stroke="#a7ba35"/>
<circle cx="563.2" cy="325.7" r="8.0" fill="#ecb335" stroke="#e4ad33"/>
<circle cx="612.4" cy="209.3" r="8.0" fill="#f8e020" stroke="#f0d91f"/>
<circle cx="580.9" cy="277.6" r="8.0" fill="#f7b833" stroke="#efb231"/>
<circle cx="554.9" cy="380.2" r="8.0" fill="#9ec33e" stroke="#99bd3c"/>
<circle cx="599.6" cy="299.4" r="8.0" fill="#c7bb2e" stroke="#c1b52c"/>
<circle cx="580.1" cy="350.2" r="8.0" fill="#b9be30" stroke="#b3b82e"/>
<circle cx="565.6" cy="528.2" r="8.0" fill="#4641dc" stroke="#433fd5"/>
<circle cx="553.8" cy="376.2" r="8.0" fill="#a5c23b" stroke="#a0bc39"/>
<circle cx="516.4" cy="506.4" r="8.0" fill="#1fa4e1" stroke="#1e9fda"/>
<circle cx="602.0" cy="294.8" r="8.0" fill="#d1b92f" stroke="#cab32d"/>
<circle cx="561.7" cy="379.6" r="8.0" fill="#a9c138" stroke="#a3bb36"/>
<circle cx="559.3" cy="382.6" r="8.0" fill="#a0c33d" stroke="#9bbd3b"/>
<circle cx="533.1" cy="438.9" r="8.0" fill="#65c669" stroke="#61c065"/>
<circle cx="607.7" cy="230.7" r="8.0" fill="#fbcf29" stroke="#f3c827"/>
<circle cx="598.3" cy="296.2" r="8.0" fill="#c9bb2e" stroke="#c2b52c"/>
<circle cx="602.2" cy="322.6" r="8.0" fill="#efb335" stroke="#e7ad33"/>
<circle cx="557.9" cy="341.6" r="8.0" fill="#ecb334" stroke="#e4ad32"/>
<circle cx="571.5" cy="530.7" r="8.0" fill="#4539cf" stroke="#4237c8"/>
<circle cx="531.2" cy="465.7" r="8.0" fill="#36c292" stroke="#34bc8d"/>
<circle cx="596.3" cy="262.2" r="8.0" fill="#fbbe31" stroke="#f3b82f"/>
<circle cx="543.3" cy="448.5" r="8.0" fill="#2dc19b" stroke="#2bbb96"/>
<circle cx="539.1" cy="413.9" r="8.0" fill="#93c446" stroke="#8ebe43"/>
<circle cx="536.9" cy="415.8" r="8.0" fill="#8cc44a" stroke="#87be47"/>
<circle cx="602.0" cy="255.3" r="8.0" fill="#fdc22f" stroke="#f5bc2d"/>
<circle cx="603.1" cy="232.6" r="8.0" fill="#fbcc2a" stroke="#f3c528"/>
<circle cx="571.5" cy="381.3" r="8.0" fill="#acc037" stroke="#a6ba35"/>
<circle cx="563.5" cy="391.6" r="8.0" fill="#a0c33d" stroke="#9bbd3b"/>
<circle cx="532.9" cy="458.6" r="8.0" fill="#34c294" stroke="#32bc8f"/>
<circle cx="571.8" cy="314.1" r="8.0" fill="#f3b435" stroke="#ebae33"/>
<circle cx="553.1" cy="530.1" r="8.0" fill="#4751f0" stroke="#444ee8"/>
<circle cx="544.4" cy="408.2" r="8.0" fill="#96c444" stroke="#91be41"/>
<circle cx="618.8" cy="211.9" r="8.0" fill="#f8e21e" stroke="#f0db1d"/>
<circle cx="583.1" cy="321.6" r="8.0" fill="#c4bc2d" stroke="#beb62b"/>
<circle cx="533.4" cy="491.1" r="8.0" fill="#18bbbd" stroke="#17b5b7"/>
<circle cx="567.9" cy="317.8" r="8.0" fill="#f2b236" stroke="#eaac34"/>
<circle cx="605.9" cy="304.4" r="8.0" fill="#ceba2f" stroke="#c7b42d"/>
<circle cx="542.9" cy="358.0" r="8.0" fill="#f9f810" stroke="#f1f00f"/>
<circle cx="599.1" cy="306.4" r="8.0" fill="#cbba2e" stroke="#c4b42c"/>
<circle cx="549.4" cy="343.8" r="8.0" fill="#f9f313" stroke="#f1eb12"/>
<circle cx="612.1" cy="272.2" r="8.0" fill="#d4b82f" stroke="#cdb22d"/>
<circle cx="541.2" cy="369.5" r="8.0" fill="#f9f90f" stroke="#f1f10e"/>
<circle cx="539.2" cy="425.7" r="8.0" fill="#80c553" stroke="#7cbf50"/>
<circle cx="546.2" cy="530.7" r="8.0" fill="#4659f7" stroke="#4356ef"/>
<circle cx="552.6" cy="530.6" r="8.0" fill="#4750ef" stroke="#444de7"/>
<circle cx="529.4" cy="531.3" r="8.0" fill="#327ffa" stroke="#307bf2"/>
<circle cx="557.2" cy="396.4" r="8.0" fill="#9ac341" stroke="#95bd3f"/>
<circle cx="550.5" cy="403.5" r="8.0" fill="#94c445" stroke="#8fbe42"/>
<circle cx="535.4" cy="379.0" r="8.0" fill="#f9f413" stroke="#f1ec12"/>
<circle cx="606.4" cy="225.5" r="8.0" fill="#f9d724" stroke="#f1d022"/>
<circle cx="523.8" cy="471.4" r="8.0" fill="#25bfa7" stroke="#23b9a1"/>
<circle cx="612.8" cy="232.5" r="8.0" fill="#fbcf29" stroke="#f3c827"/>
<circle cx="590.7" cy="312.5" r="8.0" fill="#ccba2e" stroke="#c5b42c"/>
<circle cx="586.2" cy="249.0" r="8.0" fill="#fcc82c" stroke="#f4c22a"/>
<circle cx="532.3" cy="391.0" r="8.0" fill="#f9f910" stroke="#f1f10f"/>
<circle cx="525.6" cy="460.3" r="8.0" fill="#33c296" stroke="#31bc91"/>
<circle cx="539.5" cy="528.5" r="8.0" fill="#416afd" stroke="#3f66f5"/>
<circle cx="528.4" cy="491.3" r="8.0" fill="#17b9c2" stroke="#16b3bc"/>
<circle cx="517.3" cy="511.4" r="8.0" fill="#229ee6" stroke="#2099df"/>
<circle cx="603.9" cy="307.0" r="8.0" fill="#c8bb2e" stroke="#c2b52c"/>
<circle cx="526.6" cy="462.9" r="8.0" fill="#3ac38e" stroke="#38bd89"/>
<circle cx="532.6" cy="455.4" r="8.0" fill="#3cc38d" stroke="#3abd88"/>
<circle cx="573.0" cy="311.9" r="8.0" fill="#f3b435" stroke="#ebae33"/>
<circle cx="578.6" cy="337.9" r="8.0" fill="#bcbe2f" stroke="#b6b82d"/>
<circle cx="556.1" cy="374.4" r="8.0" fill="#a3c23c" stroke="#9ebc3a"/>
<circle cx="524.6" cy="477.3" r="8.0" fill="#22beab" stroke="#20b8a5"/>
<circle cx="638.8" cy="173.5" r="8.0" fill="#f8ea19" stroke="#f0e218"/>
<circle cx="541.4" cy="461.0" r="8.0" fill="#25bfa6" stroke="#23b9a1"/>
<circle cx="627.0" cy="202.4" r="8.0" fill="#f8e91a" stroke="#f0e219"/>
<circle cx="519.8" cy="498.0" r="8.0" fill="#17afd6" stroke="#16a9cf"/>
<circle cx="570.3" cy="303.8" r="8.0" fill="#f3b335" stroke="#ebad33"/>
<circle cx="519.4" cy="524.2" r="8.0" fill="#2a90f0" stroke="#288be8"/>
<circle cx="534.0" cy="494.6" r="8.0" fill="#17b9c4" stroke="#16b3be"/>
<circle cx="542.6" cy="421.6" r="8.0" fill="#7dc555" stroke="#79bf52"/>
<circle cx="606.4" cy="241.9" r="8.0" fill="#fad127" stroke="#f2ca25"/>
<circle cx="529.9" cy="481.8" r="8.0" fill="#1ebdb2" stroke="#1db7ac"/>
<circle cx="532.9" cy="415.9" r="8.0" fill="#85c54f" stroke="#81bf4c"/>
<circle cx="523.7" cy="473.0" r="8.0" fill="#27c0a4" stroke="#25ba9f"/>
<circle cx="555.4" cy="342.6" r="8.0" fill="#f0b236" stroke="#e8ac34"/>
<circle cx="539.6" cy="413.4" r="8.0" fill="#88c54e" stroke="#83bf4b"/>
<circle cx="534.1" cy="389.4" r="8.0" fill="#f9f611" stroke="#f1ee10"/>
<circle cx="540.0" cy="462.6" r="8.0" fill="#21beac" stroke="#20b8a6"/>
<circle cx="552.5" cy="340.7" r="8.0" fill="#f1b236" stroke="#e9ac34"/>
<circle cx="599.6" cy="314.6" r="8.0" fill="#c8bb2e" stroke="#c2b52c"/>
<circle cx="546.9" cy="348.0" r="8.0" fill="#f9f512" stroke="#f1ed11"/>
<circle cx="545.5" cy="394.3" r="8.0" fill="#95c444" stroke="#90be41"/>
<circle cx="550.7" cy="388.9" r="8.0" fill="#9cc340" stroke="#97bd3e"/>
<circle cx="590.3" cy="258.1" r="8.0" fill="#fabc32" stroke="#f2b630"/>
<circle cx="529.8" cy="425.5" r="8.0" fill="#7bc657" stroke="#77c054"/>
<circle cx="597.3" cy="309.5" r="8.0" fill="#c4bc2e" stroke="#beb62c"/>
<circle cx="584.7" cy="317.8" r="8.0" fill="#c3bc2d" stroke="#bdb62b"/>
<circle cx="615.9" cy="206.9" r="8.0" fill="#f8e31e" stroke="#f0dc1d"/>
<circle cx="554.2" cy="389.3" r="8.0" fill="#a3c23b" stroke="#9ebc39"/>
<circle cx="568.1" cy="528.0" r="8.0" fill="#4641dc" stroke="#433fd5"/>
<circle cx="582.0" cy="280.8" r="8.0" fill="#f7b833" stroke="#efb231"/>
<circle cx="529.3" cy="467.5" r="8.0" fill="#2ac09f" stroke="#28ba9a"/>
<circle cx="533.3" cy="445.3" r="8.0" fill="#54c577" stroke="#51bf73"/>
<circle cx="535.9" cy="381.2" r="8.0" fill="#f9f313" stroke="#f1eb12"/>
<circle cx="599.3" cy="233.4" r="8.0" fill="#fbcf29" stroke="#f3c827"/>
<circle cx="591.2" cy="330.3" r="8.0" fill="#bfbd2d" stroke="#b9b72b"/>
<circle cx="607.0" cy="282.9" r="8.0" fill="#cfba2f" stroke="#c8b42d"/>
<circle cx="535.2" cy="449.9" r="8.0" fill="#4ac47f" stroke="#47be7b"/>
<circle cx="586.3" cy="324.9" r="8.0" fill="#bdbe2e" stroke="#b7b82c"/>
<circle cx="580.2" cy="290.1" r="8.0" fill="#f7b834" stroke="#efb232"/>
<circle cx="540.6" cy="367.5" r="8.0" fill="#f9ef16" stroke="#f1e715"/>
<circle cx="596.3" cy="241.4" r="8.0" fill="#fcc82c" stroke="#f4c22a"/>
<circle cx="572.5" cy="370.1" r="8.0" fill="#a8c139" stroke="#a2bb37"/>
<circle cx="583.1" cy="370.8" r="8.0" fill="#e1b632" stroke="#dab030"/>
<circle cx="533.7" cy="499.9" r="8.0" fill="#16b7c7" stroke="#15b1c1"/>
<circle cx="515.2" cy="521.1" r="8.0" fill="#2697eb" stroke="#2492e3"/>
<circle cx="529.5" cy="460.9" r="8.0" fill="#33c295" stroke="#31bc90"/>
<circle cx="592.1" cy="269.5" r="8.0" fill="#fabd31" stroke="#f2b72f"/>
<circle cx="544.3" cy="352.7" r="8.0" fill="#f9ef16" stroke="#f1e715"/>
<circle cx="554.4" cy="351.3" r="8.0" fill="#eab434" stroke="#e2ae32"/>
<circle cx="598.3" cy="236.2" r="8.0" fill="#fbcd2a" stroke="#f3c628"/>
<circle cx="587.6" cy="528.9" r="8.0" fill="#412cb5" stroke="#3f2aaf"/>
<circle cx="608.5" cy="246.4" r="8.0" fill="#fbcd2a" stroke="#f3c628"/>
<circle cx="562.3" cy="364.4" r="8.0" fill="#aac138" stroke="#a4bb36"/>
<circle cx="552.1" cy="350.1" r="8.0" fill="#eeb335" stroke="#e6ad33"/>
<circle cx="537.1" cy="421.7" r="8.0" fill="#75c65b" stroke="#71c058"/>
<circle cx="608.3" cy="219.6" r="8.0" fill="#f9d923" stroke="#f1d221"/>
<circle cx="578.7" cy="363.0" r="8.0" fill="#b4bf33" stroke="#aeb931"/>
<circle cx="603.1" cy="283.3" r="8.0" fill="#c9bb2e" stroke="#c2b52c"/>
<circle cx="542.2" cy="452.3" r="8.0" fill="#23bfaa" stroke="#21b9a4"/>
<circle cx="544.7" cy="442.0" r="8.0" fill="#2ac0a0" stroke="#28ba9b"/>
<circle cx="524.8" cy="527.1" r="8.0" fill="#3083f8" stroke="#2e7ff0"/>
<circle cx="641.4" cy="168.0" r="8.0" fill="#f9f214" stroke="#f1ea13"/>
<circle cx="583.4" cy="348.8" r="8.0" fill="#b6bf32" stroke="#b0b930"/>
<circle cx="591.4" cy="334.8" r="8.0" fill="#bebd2e" stroke="#b8b72c"/>
<circle cx="581.8" cy="281.1" r="8.0" fill="#fabc32" stroke="#f2b630"/>
<circle cx="517.1" cy="511.7" r="8.0" fill="#249ce8" stroke="#2297e1"/>
<circle cx="557.1" cy="339.3" r="8.0" fill="#eab434" stroke="#e2ae32"/>
<circle cx="530.3" cy="529.7" r="8.0" fill="#337dfc" stroke="#3179f4"/>
<circle cx="575.7" cy="529.1" r="8.0" fill="#463cd4" stroke="#433acd"/>
<circle cx="582.6" cy="287.7" r="8.0" fill="#f6b634" stroke="#eeb032"/>
<circle cx="531.8" cy="503.9" r="8.0" fill="#14b4d2" stroke="#13aecb"/>
<circle cx="529.1" cy="472.4" r="8.0" fill="#24bfa9" stroke="#22b9a3"/>
<circle cx="564.4" cy="318.8" r="8.0" fill="#edb335" stroke="#e5ad33"/>
<circle cx="581.9" cy="527.6" r="8.0" fill="#4331c0" stroke="#402fba"/>
<circle cx="532.4" cy="528.2" r="8.0" fill="#3974fd" stroke="#3770f5"/>
<circle cx="597.3" cy="233.6" r="8.0" fill="#fbca2b" stroke="#f3c329"/>
<circle cx="545.0" cy="355.5" r="8.0" fill="#f9fb0e" stroke="#f1f30d"/>
<circle cx="631.7" cy="191.7" r="8.0" fill="#f9ed17" stroke="#f1e516"/>
<circle cx="561.9" cy="329.2" r="8.0" fill="#ebb334" stroke="#e3ad32"/>
<circle cx="627.6" cy="179.5" r="8.0" fill="#f8e61b" stroke="#f0df1a"/>
<circle cx="589.0" cy="273.4" r="8.0" fill="#f9bb32" stroke="#f1b530"/>
<circle cx="530.7" cy="449.1" r="8.0" fill="#4cc57e" stroke="#49bf7a"/>
<circle cx="573.1" cy="299.0" r="8.0" fill="#f5b634" stroke="#edb032"/>
<circle cx="558.8" cy="328.3" r="8.0" fill="#efb335" stroke="#e7ad33"/>
<circle cx="574.5" cy="289.6" r="8.0" fill="#f8ba33" stroke="#f0b431"/>
<circle cx="558.7" cy="333.5" r="8.0" fill="#f4b435" stroke="#ecae33"/>
<circle cx="536.4" cy="426.1" r="8.0" fill="#74c65b" stroke="#70c058"/>
<circle cx="553.8" cy="343.1" r="8.0" fill="#f2b236" stroke="#eaac34"/>
<circle cx="580.7" cy="294.4" r="8.0" fill="#f3b435" stroke="#ebae33"/>
<circle cx="584.7" cy="284.5" r="8.0" fill="#f9bb32" stroke="#f1b530"/>
<circle cx="564.2" cy="321.8" r="8.0" fill="#f2b236" stroke="#eaac34"/>
<circle cx="611.8" cy="272.7" r="8.0" fill="#d6b830" stroke="#cfb22e"/>
<circle cx="613.0" cy="278.9" r="8.0" fill="#d1b92f" stroke="#cab32d"/>
<circle cx="640.0" cy="179.3" r="8.0" fill="#f9f214" stroke="#f1ea13"/>
<circle cx="587.0" cy="259.4" r="8.0" fill="#f9ba32" stroke="#f1b430"/>
<circle cx="599.9" cy="309.1" r="8.0" fill="#cabb2e" stroke="#c3b52c"/>
<circle cx="600.3" cy="219.5" r="8.0" fill="#fad028" stroke="#f2c926"/>
<circle cx="537.8" cy="436.0" r="8.0" fill="#67c666" stroke="#63c062"/>
<circle cx="591.5" cy="311.8" r="8.0" fill="#cbbb2e" stroke="#c4b52c"/>
<circle cx="639.3" cy="178.1" r="8.0" fill="#f8e81b" stroke="#f0e11a"/>
<circle cx="575.8" cy="301.0" r="8.0" fill="#f5b634" stroke="#edb032"/>
<circle cx="515.2" cy="523.2" r="8.0" fill="#2698eb" stroke="#2493e3"/>
<circle cx="577.7" cy="347.0" r="8.0" fill="#babe30" stroke="#b4b82e"/>
<circle cx="576.5" cy="296.2" r="8.0" fill="#f6b734" stroke="#eeb132"/>
<circle cx="547.6" cy="527.5" r="8.0" fill="#465df8" stroke="#435af0"/>
<circle cx="591.7" cy="309.6" r="8.0" fill="#cbba2e" stroke="#c4b42c"/>
<circle cx="531.2" cy="461.7" r="8.0" fill="#3cc38d" stroke="#3abd88"/>
<circle cx="570.1" cy="301.1" r="8.0" fill="#f3b336" stroke="#ebad34"/>
<circle cx="526.5" cy="487.6" r="8.0" fill="#1abcb7" stroke="#19b6b1"/>
<circle cx="593.8" cy="266.7" r="8.0" fill="#f8b933" stroke="#f0b331"/>
<circle cx="563.6" cy="529.5" r="8.0" fill="#4745e3" stroke="#4442dc"/>
<circle cx="523.9" cy="527.7" r="8.0" fill="#3181f9" stroke="#2f7df1"/>
<circle cx="601.1" cy="253.4" r="8.0" fill="#fcc92c" stroke="#f4c22a"/>
<circle cx="521.3" cy="481.6" r="8.0" fill="#1bbcb7" stroke="#1ab6b1"/>
<circle cx="534.5" cy="441.2" r="8.0" fill="#55c576" stroke="#52bf72"/>
<circle cx="611.3" cy="274.8" r="8.0" fill="#cfba2f" stroke="#c8b42d"/>
<circle cx="582.8" cy="294.3" r="8.0" fill="#f7b933" stroke="#efb331"/>
<circle cx="564.3" cy="528.8" r="8.0" fill="#4745e3" stroke="#4442dc"/>
<circle cx="631.4" cy="200.1" r="8.0" fill="#f8e11f" stroke="#f0da1e"/>
<circle cx="558.4" cy="394.8" r="8.0" fill="#a5c23a" stroke="#a0bc38"/>
<circle cx="523.8" cy="526.1" r="8.0" fill="#3085f7" stroke="#2e81ef"/>
<circle cx="538.3" cy="435.7" r="8.0" fill="#63c56a" stroke="#60bf66"/>
<circle cx="531.8" cy="463.4" r="8.0" fill="#37c292" stroke="#35bc8d"/>
<circle cx="535.4" cy="428.6" r="8.0" fill="#6ec661" stroke="#6ac05e"/>
<circle cx="621.5" cy="215.5" r="8.0" fill="#f8e41d" stroke="#f0dd1c"/>
<circle cx="607.6" cy="211.8" r="8.0" fill="#f9d724" stroke="#f1d022"/>
<circle cx="605.2" cy="231.8" r="8.0" fill="#fad526" stroke="#f2ce24"/>
<circle cx="547.6" cy="403.5" r="8.0" fill="#9cc33f" stroke="#97bd3d"/>
<circle cx="574.5" cy="529.5" r="8.0" fill="#453bd2" stroke="#4239cb"/>
<circle cx="593.6" cy="322.9" r="8.0" fill="#c3bc2d" stroke="#bdb62b"/>
<circle cx="613.6" cy="216.0" r="8.0" fill="#f8de21" stroke="#f0d720"/>
<circle cx="569.2" cy="371.6" r="8.0" fill="#adc037" stroke="#a7ba35"/>
<circle cx="597.2" cy="239.1" r="8.0" fill="#fbcb2b" stroke="#f3c429"/>
<circle cx="536.2" cy="478.1" r="8.0" fill="#1abcb8" stroke="#19b6b2"/>
<circle cx="529.9" cy="454.7" r="8.0" fill="#3fc38a" stroke="#3dbd85"/>
<circle cx="536.4" cy="429.5" r="8.0" fill="#72c65d" stroke="#6ec05a"/>
<circle cx="585.9" cy="253.2" r="8.0" fill="#fbbd31" stroke="#f3b72f"/>
<circle cx="578.6" cy="385.4" r="8.0" fill="#e3b532" stroke="#dcaf30"/>
<circle cx="534.6" cy="420.3" r="8.0" fill="#76c65a" stroke="#72c057"/>
<circle cx="605.2" cy="245.0" r="8.0" fill="#fcc82c" stroke="#f4c22a"/>
<circle cx="584.2" cy="528.3" r="8.0" fill="#412eba" stroke="#3f2cb4"/>
<circle cx="584.5" cy="328.9" r="8.0" fill="#c0bd2d" stroke="#bab72b"/>
<circle cx="563.7" cy="367.5" r="8.0" fill="#b1c034" stroke="#abba32"/>
<circle cx="589.6" cy="345.3" r="8.0" fill="#c3bc2d" stroke="#bdb62b"/>
<circle cx="608.8" cy="295.8" r="8.0" fill="#d0b92f" stroke="#c9b32d"/>
<circle cx="516.4" cy="523.9" r="8.0" fill="#2992ef" stroke="#278de7"/>
<circle cx="531.9" cy="453.1" r="8.0" fill="#44c486" stroke="#41be81"/>
<circle cx="572.9" cy="353.4" r="8.0" fill="#aec036" stroke="#a8ba34"/>
<circle cx="598.8" cy="320.9" r="8.0" fill="#c8bb2e" stroke="#c2b52c"/>
<circle cx="604.8" cy="212.5" r="8.0" fill="#fad526" stroke="#f2ce24"/>
<circle cx="573.1" cy="339.5" r="8.0" fill="#c1bd2d" stroke="#bbb72b"/>
<circle cx="515.9" cy="523.6" r="8.0" fill="#2894ed" stroke="#268fe5"/>
<circle cx="626.5" cy="212.2" r="8.0" fill="#f9db23" stroke="#f1d421"/>
<circle cx="530.2" cy="481.6" r="8.0" fill="#24bfa8" stroke="#22b9a2"/>
<circle cx="542.6" cy="403.6" r="8.0" fill="#9fc33d" stroke="#9abd3b"/>
<circle cx="552.9" cy="398.8" r="8.0" fill="#9ec33e" stroke="#99bd3c"/>
<circle cx="598.4" cy="260.4" r="8.0" fill="#fdc030" stroke="#f5ba2e"/>
<circle cx="570.7" cy="371.2" r="8.0" fill="#aac138" stroke="#a4bb36"/>
<circle cx="542.6" cy="403.6" r="8.0" fill="#a1c23c" stroke="#9cbc3a"/>
<circle cx="616.8" cy="205.1" r="8.0" fill="#f8e61c" stroke="#f0df1b"/>
<circle cx="549.2" cy="393.5" r="8.0" fill="#9fc33e" stroke="#9abd3c"/>
<circle cx="580.1" cy="529.8" r="8.0" fill="#4435c7" stroke="#4133c1"/>
<circle cx="539.1" cy="472.2" r="8.0" fill="#21beac" stroke="#20b8a6"/>
<circle cx="584.2" cy="289.5" r="8.0" fill="#f6b734" stroke="#eeb132"/>
<circle cx="553.7" cy="353.1" r="8.0" fill="#f1b236" stroke="#e9ac34"/>
<circle cx="591.9" cy="326.0" r="8.0" fill="#c5bc2e" stroke="#bfb62c"/>
<circle cx="555.6" cy="339.1" r="8.0" fill="#f2b236" stroke="#eaac34"/>
<circle cx="553.7" cy="349.7" r="8.0" fill="#ebb334" stroke="#e3ad32"/>
<circle cx="597.7" cy="251.4" r="8.0" fill="#fcbf31" stroke="#f4b92f"/>
<circle cx="584.9" cy="329.9" r="8.0" fill="#c7bb2e" stroke="#c1b52c"/>
<circle cx="571.9" cy="348.2" r="8.0" fill="#b6bf32" stroke="#b0b930"/>
<circle cx="579.9" cy="339.7" r="8.0" fill="#babe30" stroke="#b4b82e"/>
<circle cx="584.2" cy="332.3" r="8.0" fill="#c3bc2d" stroke="#bdb62b"/>
<circle cx="524.8" cy="490.7" r="8.0" fill="#18bbbd" stroke="#17b5b7"/>
<circle cx="577.1" cy="294.1" r="8.0" fill="#f6b734" stroke="#eeb132"/>
<circle cx="613.0" cy="274.6" r="8.0" fill="#d4b82f" stroke="#cdb22d"/>
<circle cx="542.3" cy="363.6" r="8.0" fill="#f9f015" stroke="#f1e814"/>
<circle cx="524.0" cy="493.1" r="8.0" fill="#17b8c4" stroke="#16b2be"/>
<circle cx="535.1" cy="484.5" r="8.0" fill="#18bac0" stroke="#17b4ba"/>
<circle cx="584.0" cy="284.4" r="8.0" fill="#f5b634" stroke="#edb032"/>
<circle cx="572.6" cy="359.2" r="8.0" fill="#b7bf31" stroke="#b1b92f"/>
<circle cx="541.2" cy="457.6" r="8.0" fill="#27c0a4" stroke="#25ba9f"/>
<circle cx="586.1" cy="529.2" r="8.0" fill="#4435c7" stroke="#4133c1"/>
<circle cx="561.9" cy="379.4" r="8.0" fill="#a7c139" stroke="#a1bb37"/>
<circle cx="576.0" cy="362.6" r="8.0" fill="#afc035" stroke="#a9ba33"/>
<circle cx="596.6" cy="306.6" r="8.0" fill="#c8bb2e" stroke="#c2b52c"/>
<circle cx="591.2" cy="255.7" r="8.0" fill="#fdc030" stroke="#f5ba2e"/>
<circle cx="584.5" cy="338.2" r="8.0" fill="#bdbe2f" stroke="#b7b82d"/>
<circle cx="547.9" cy="348.4" r="8.0" fill="#f9f90f" stroke="#f1f10e"/>
<circle cx="541.6" cy="417.5" r="8.0" fill="#84c550" stroke="#80bf4d"/>
<circle cx="533.8" cy="444.5" r="8.0" fill="#56c575" stroke="#53bf71"/>
<circle cx="537.9" cy="426.2" r="8.0" fill="#73c65d" stroke="#6fc05a"/>
<circle cx="561.8" cy="326.6" r="8.0" fill="#f3b335" stroke="#ebad33"/>
<circle cx="532.0" cy="421.8" r="8.0" fill="#7fc553" stroke="#7bbf50"/>
<circle cx="638.2" cy="184.1" r="8.0" fill="#f9ed17" stroke="#f1e516"/>
<circle cx="599.9" cy="327.6" r="8.0" fill="#dfb631" stroke="#d8b02f"/>
<circle cx="555.3" cy="346.1" r="8.0" fill="#efb335" stroke="#e7ad33"/>
<circle cx="589.9" cy="250.4" r="8.0" fill="#fbc92b" stroke="#f3c229"/>
<circle cx="640.9" cy="178.3" r="8.0" fill="#f8eb18" stroke="#f0e317"/>
<circle cx="600.6" cy="238.0" r="8.0" fill="#fad326" stroke="#f2cc24"/>
<circle cx="532.9" cy="460.8" r="8.0" fill="#3fc38a" stroke="#3dbd85"/>
<circle cx="571.6" cy="348.4" r="8.0" fill="#bbbe30" stroke="#b5b82e"/>
<circle cx="531.5" cy="430.3" r="8.0" fill="#74c65b" stroke="#70c058"/>
<circle cx="584.3" cy="527.0" r="8.0" fill="#4434c6" stroke="#4132c0"/>
<circle cx="615.5" cy="220.5" r="8.0" fill="#f8e020" stroke="#f0d91f"/>
<circle cx="581.0" cy="351.2" r="8.0" fill="#bcbe2f" stroke="#b6b82d"/>
<circle cx="587.9" cy="360.9" r="8.0" fill="#e6b433" stroke="#dfae31"/>
<circle cx="563.0" cy="319.8" r="8.0" fill="#f3b336" stroke="#ebad34"/>
<circle cx="530.0" cy="529.5" r="8.0" fill="#3579fd" stroke="#3375f5"/>
<circle cx="572.5" cy="295.6" r="8.0" fill="#f4b535" stroke="#ecaf33"/>
<circle cx="543.5" cy="398.1" r="8.0" fill="#9ac341" stroke="#95bd3f"/>
<circle cx="583.5" cy="337.8" r="8.0" fill="#babe30" stroke="#b4b82e"/>
<circle cx="624.3" cy="208.8" r="8.0" fill="#f8df20" stroke="#f0d81f"/>
<circle cx="595.3" cy="341.9" r="8.0" fill="#eeb335" stroke="#e6ad33"/>
<circle cx="563.9" cy="313.9" r="8.0" fill="#efb335" stroke="#e7ad33"/>
<circle cx="535.8" cy="476.3" r="8.0" fill="#19bbbb" stroke="#18b5b5"/>
<circle cx="582.0" cy="345.7" r="8.0" fill="#b6bf32" stroke="#b0b930"/>
<circle cx="530.8" cy="446.6" r="8.0" fill="#57c574" stroke="#54bf70"/>
<circle cx="527.1" cy="493.8" r="8.0" fill="#14b5d0" stroke="#13afc9"/>
<circle cx="595.0" cy="238.6" r="8.0" fill="#fbcb2a" stroke="#f3c428"/>
<circle cx="561.4" cy="382.1" r="8.0" fill="#a0c33d" stroke="#9bbd3b"/>
<circle cx="528.4" cy="528.5" r="8.0" fill="#3280fa" stroke="#307cf2"/>
<circle cx="593.3" cy="315.6" r="8.0" fill="#ccba2e" stroke="#c5b42c"/>
<circle cx="608.5" cy="272.1" r="8.0" fill="#d7b830" stroke="#d0b22e"/>
<circle cx="558.6" cy="369.4" r="8.0" fill="#b2bf34" stroke="#acb932"/>
<circle cx="552.2" cy="530.8" r="8.0" fill="#4756f5" stroke="#4453ed"/>
<circle cx="560.0" cy="401.6" r="8.0" fill="#96c444" stroke="#91be41"/>
<circle cx="530.1" cy="467.1" r="8.0" fill="#2ec19a" stroke="#2cbb95"/>
<circle cx="552.7" cy="344.7" r="8.0" fill="#ebb334" stroke="#e3ad32"/>
<circle cx="548.9" cy="530.7" r="8.0" fill="#4758f7" stroke="#4455ef"/>
<circle cx="525.5" cy="476.4" r="8.0" fill="#25bfa7" stroke="#23b9a1"/>
<circle cx="579.9" cy="291.3" r="8.0" fill="#f7b933" stroke="#efb331"/>
<circle cx="574.6" cy="308.7" r="8.0" fill="#f5b535" stroke="#edaf33"/>
<circle cx="577.7" cy="360.5" r="8.0" fill="#b9be31" stroke="#b3b82f"/>
<circle cx="596.8" cy="256.8" r="8.0" fill="#fbbd31" stroke="#f3b72f"/>
<circle cx="535.2" cy="526.5" r="8.0" fill="#3875fd" stroke="#3671f5"/>
<circle cx="564.3" cy="318.0" r="8.0" fill="#f0b235" stroke="#e8ac33"/>
<circle cx="564.2" cy="389.7" r="8.0" fill="#a4c23b" stroke="#9fbc39"/>
<circle cx="604.4" cy="292.0" r="8.0" fill="#d3b92f" stroke="#ccb32d"/>
<circle cx="556.0" cy="399.3" r="8.0" fill="#9fc33e" stroke="#9abd3c"/>
<circle cx="552.3" cy="390.3" r="8.0" fill="#a6c23a" stroke="#a1bc38"/>
<circle cx="643.2" cy="170.6" r="8.0" fill="#f8eb18" stroke="#f0e317"/>
<circle cx="560.4" cy="335.3" r="8.0" fill="#edb335" stroke="#e5ad33"/>
<circle cx="607.1" cy="305.8" r="8.0" fill="#d0b92f" stroke="#c9b32d"/>
<circle cx="540.5" cy="413.0" r="8.0" fill="#8ac54c" stroke="#85bf49"/>
<circle cx="514.0" cy="504.6" r="8.0" fill="#19add9" stroke="#18a7d2"/>
<circle cx="590.0" cy="239.3" r="8.0" fill="#fbcd29" stroke="#f3c627"/>
<circle cx="566.7" cy="530.1" r="8.0" fill="#4743e0" stroke="#4440d9"/>
<circle cx="556.6" cy="331.7" r="8.0" fill="#eeb335" stroke="#e6ad33"/>
<circle cx="546.9" cy="530.5" r="8.0" fill="#4758f7" stroke="#4455ef"/>
<circle cx="588.9" cy="332.6" r="8.0" fill="#c6bc2e" stroke="#c0b62c"/>
<circle cx="518.6" cy="502.7" r="8.0" fill="#19add9" stroke="#18a7d2"/>
<circle cx="618.9" cy="198.6" r="8.0" fill="#f8dd21" stroke="#f0d620"/>
<circle cx="551.1" cy="342.5" r="8.0" fill="#f9f810" stroke="#f1f00f"/>
<circle cx="579.8" cy="529.8" r="8.0" fill="#4536ca" stroke="#4234c3"/>
<circle cx="609.1" cy="283.2" r="8.0" fill="#cbba2e" stroke="#c4b42c"/>
<circle cx="581.1" cy="529.1" r="8.0" fill="#4434c6" stroke="#4132c0"/>
<circle cx="568.0" cy="306.3" r="8.0" fill="#f5b634" stroke="#edb032"/>
<circle cx="534.1" cy="464.2" r="8.0" fill="#38c291" stroke="#36bc8c"/>
<circle cx="539.1" cy="436.5" r="8.0" fill="#58c573" stroke="#55bf6f"/>
<circle cx="567.1" cy="317.9" r="8.0" fill="#edb335" stroke="#e5ad33"/>
<circle cx="582.1" cy="323.5" r="8.0" fill="#c0bd2d" stroke="#bab72b"/>
<circle cx="571.8" cy="293.7" r="8.0" fill="#f4b435" stroke="#ecae33"/>
<circle cx="621.2" cy="193.5" r="8.0" fill="#f8e61c" stroke="#f0df1b"/>
<circle cx="517.8" cy="508.2" r="8.0" fill="#20a2e2" stroke="#1f9ddb"/>
<circle cx="610.0" cy="216.6" r="8.0" fill="#f8db22" stroke="#f0d420"/>
<circle cx="607.7" cy="279.4" r="8.0" fill="#ceba2f" stroke="#c7b42d"/>
<circle cx="640.2" cy="167.0" r="8.0" fill="#f9ef16" stroke="#f1e715"/>
<circle cx="628.6" cy="194.5" r="8.0" fill="#f8eb18" stroke="#f0e317"/>
<circle cx="524.3" cy="479.5" r="8.0" fill="#22beab" stroke="#20b8a5"/>
<circle cx="516.2" cy="498.2" r="8.0" fill="#15b2d3" stroke="#14accc"/>
<circle cx="561.2" cy="531.9" r="8.0" fill="#4747e6" stroke="#4444df"/>
<circle cx="621.4" cy="210.1" r="8.0" fill="#f8df20" stroke="#f0d81f"/>
<circle cx="527.8" cy="496.1" r="8.0" fill="#14b4d2" stroke="#13aecb"/>
<circle cx="606.5" cy="288.3" r="8.0" fill="#c9bb2e" stroke="#c2b52c"/>
<circle cx="627.0" cy="201.3" r="8.0" fill="#f8e61c" stroke="#f0df1b"/>
<circle cx="564.9" cy="358.6" r="8.0" fill="#b1c035" stroke="#abba33"/>
<circle cx="566.1" cy="393.4" r="8.0" fill="#9ec33e" stroke="#99bd3c"/>
<circle cx="572.0" cy="301.3" r="8.0" fill="#f4b435" stroke="#ecae33"/>
<circle cx="609.6" cy="234.9" r="8.0" fill="#fbcb2a" stroke="#f3c428"/>
<circle cx="537.2" cy="528.3" r="8.0" fill="#3f6dfd" stroke="#3d69f5"/>
<circle cx="563.3" cy="366.1" r="8.0" fill="#b5bf32" stroke="#afb930"/>
<circle cx="589.4" cy="264.3" r="8.0" fill="#fabc32" stroke="#f2b630"/>
<circle cx="548.6" cy="337.9" r="8.0" fill="#f9f910" stroke="#f1f10f"/>
<circle cx="563.1" cy="319.9" r="8.0" fill="#f5b535" stroke="#edaf33"/>
<circle cx="573.0" cy="293.2" r="8.0" fill="#f5b634" stroke="#edb032"/>
<circle cx="530.3" cy="483.2" r="8.0" fill="#1bbdb5" stroke="#1ab7af"/>
<circle cx="538.4" cy="370.2" r="8.0" fill="#f9fb0e" stroke="#f1f30d"/>
<circle cx="554.0" cy="528.5" r="8.0" fill="#474bea" stroke="#4448e2"/>
<circle cx="588.9" cy="240.0" r="8.0" fill="#fbcc2a" stroke="#f3c528"/>
<circle cx="526.3" cy="526.4" r="8.0" fill="#3280fa" stroke="#307cf2"/>
<circle cx="564.7" cy="320.4" r="8.0" fill="#f3b335" stroke="#ebad33"/>
<circle cx="626.2" cy="199.1" r="8.0" fill="#f8e61c" stroke="#f0df1b"/>
<circle cx="521.3" cy="524.2" r="8.0" fill="#2c8df2" stroke="#2a88ea"/>
<circle cx="537.2" cy="439.2" r="8.0" fill="#63c56a" stroke="#60bf66"/>
<circle cx="538.3" cy="432.2" r="8.0" fill="#6dc662" stroke="#69c05f"/>
<circle cx="608.8" cy="280.9" r="8.0" fill="#d2b92f" stroke="#cbb32d"/>
<circle cx="637.6" cy="188.1" r="8.0" fill="#f9ed17" stroke="#f1e516"/>
<circle cx="572.6" cy="529.3" r="8.0" fill="#4538ce" stroke="#4236c7"/>
<circle cx="599.1" cy="227.2" r="8.0" fill="#fbce29" stroke="#f3c727"/>
<circle cx="590.3" cy="325.7" r="8.0" fill="#c0bd2d" stroke="#bab72b"/>
<circle cx="555.6" cy="384.1" r="8.0" fill="#a4c23b" stroke="#9fbc39"/>
<circle cx="582.5" cy="285.2" r="8.0" fill="#f8b933" stroke="#f0b331"/>
<circle cx="546.3" cy="350.5" r="8.0" fill="#f9f512" stroke="#f1ed11"/>
<circle cx="544.8" cy="359.9" r="8.0" fill="#f9f90f" stroke="#f1f10e"/>
<circle cx="561.3" cy="398.9" r="8.0" fill="#a7c139" stroke="#a1bb37"/>
<circle cx="609.7" cy="289.8" r="8.0" fill="#ccba2e" stroke="#c5b42c"/>
<circle cx="577.6" cy="529.3" r="8.0" fill="#4539cf" stroke="#4237c8"/>
<circle cx="591.9" cy="318.2" r="8.0" fill="#c0bd2d" stroke="#bab72b"/>
<circle cx="539.2" cy="414.0" r="8.0" fill="#90c448" stroke="#8bbe45"/>
<circle cx="562.3" cy="358.1" r="8.0" fill="#adc037" stroke="#a7ba35"/>
<circle cx="586.9" cy="265.7" r="8.0" fill="#f9ba32" stroke="#f1b430"/>
<circle cx="626.7" cy="181.2" r="8.0" fill="#f8e51d" stroke="#f0de1c"/>
<circle cx="593.3" cy="259.0" r="8.0" fill="#fcbf30" stroke="#f4b92e"/>
<circle cx="639.1" cy="179.0" r="8.0" fill="#f9ef16" stroke="#f1e715"/>
<circle cx="571.4" cy="306.0" r="8.0" fill="#f5b634" stroke="#edb032"/>
<circle cx="618.1" cy="222.4" r="8.0" fill="#f9da23" stroke="#f1d321"/>
<circle cx="567.0" cy="313.8" r="8.0" fill="#f6b634" stroke="#eeb032"/>
<circle cx="558.4" cy="338.0" r="8.0" fill="#f3b335" stroke="#ebad33"/>
<circle cx="550.3" cy="340.5" r="8.0" fill="#f9f015" stroke="#f1e814"/>
<circle cx="603.8" cy="301.7" r="8.0" fill="#cbba2e" stroke="#c4b42c"/>
<circle cx="536.5" cy="441.3" r="8.0" fill="#59c573" stroke="#56bf6f"/>
<circle cx="536.0" cy="383.4" r="8.0" fill="#f9f611" stroke="#f1ee10"/>
<circle cx="535.2" cy="435.0" r="8.0" fill="#5dc56f" stroke="#5abf6b"/>
<circle cx="516.9" cy="493.2" r="8.0" fill="#14b4d1" stroke="#13aeca"/>
<circle cx="620.7" cy="195.3" r="8.0" fill="#f8ea19" stroke="#f0e218"/>
<circle cx="587.6" cy="269.3" r="8.0" fill="#fabc32" stroke="#f2b630"/>
<circle cx="584.4" cy="353.8" r="8.0" fill="#b4bf33" stroke="#aeb931"/>
<circle cx="619.2" cy="205.6" r="8.0" fill="#f8dd22" stroke="#f0d620"/>
<circle cx="573.3" cy="359.8" r="8.0" fill="#babe30" stroke="#b4b82e"/>
<circle cx="540.9" cy="421.7" r="8.0" fill="#89c54d" stroke="#84bf4a"/>
<circle cx="537.4" cy="482.7" r="8.0" fill="#18bac0" stroke="#17b4ba"/>
<circle cx="609.7" cy="222.4" r="8.0" fill="#f9d923" stroke="#f1d221"/>
<circle cx="598.5" cy="223.6" r="8.0" fill="#f9da23" stroke="#f1d321"/>
<circle cx="541.9" cy="529.4" r="8.0" fill="#4367fd" stroke="#4063f5"/>
<circle cx="581.6" cy="286.7" r="8.0" fill="#f6b734" stroke="#eeb132"/>
<circle cx="575.9" cy="294.3" r="8.0" fill="#f7b833" stroke="#efb231"/>
<circle cx="605.8" cy="287.5" r="8.0" fill="#cabb2e" stroke="#c3b52c"/>
<circle cx="604.1" cy="308.3" r="8.0" fill="#c6bc2e" stroke="#c0b62c"/>
<circle cx="609.6" cy="218.4" r="8.0" fill="#f9d923" stroke="#f1d221"/>
<circle cx="581.4" cy="377.1" r="8.0" fill="#eeb335" stroke="#e6ad33"/>
<circle cx="551.7" cy="336.0" r="8.0" fill="#f9f114" stroke="#f1e913"/>
<circle cx="529.0" cy="484.5" r="8.0" fill="#22beab" stroke="#20b8a5"/>
<circle cx="554.8" cy="348.3" r="8.0" fill="#f2b236" stroke="#eaac34"/>
<circle cx="557.2" cy="340.8" r="8.0" fill="#f3b336" stroke="#ebad34"/>
<circle cx="531.9" cy="529.3" r="8.0" fill="#3579fd" stroke="#3375f5"/>
<circle cx="569.6" cy="375.8" r="8.0" fill="#b2c034" stroke="#acba32"/>
<circle cx="590.0" cy="313.1" r="8.0" fill="#c1bd2d" stroke="#bbb72b"/>
<circle cx="585.4" cy="365.8" r="8.0" fill="#e1b632" stroke="#dab030"/>
<circle cx="536.4" cy="411.3" r="8.0" fill="#94c445" stroke="#8fbe42"/>
<circle cx="520.0" cy="525.4" r="8.0" fill="#2a90f0" stroke="#288be8"/>
<circle cx="514.9" cy="503.8" r="8.0" fill="#18add8" stroke="#17a7d1"/>
<circle cx="537.8" cy="378.8" r="8.0" fill="#f9f611" stroke="#f1ee10"/>
<circle cx="601.6" cy="320.4" r="8.0" fill="#cabb2e" stroke="#c3b52c"/>
<circle cx="529.6" cy="491.9" r="8.0" fill="#16b7ca" stroke="#15b1c3"/>
<circle cx="583.6" cy="276.1" r="8.0" fill="#f7b833" stroke="#efb231"/>
<circle cx="528.1" cy="505.1" r="8.0" fill="#1ea6df" stroke="#1da1d8"/>
<circle cx="537.1" cy="376.8" r="8.0" fill="#f9f412" stroke="#f1ec11"/>
<circle cx="599.3" cy="238.5" r="8.0" fill="#fad227" stroke="#f2cb25"/>
<circle cx="529.5" cy="478.3" r="8.0" fill="#20beaf" stroke="#1fb8a9"/>
<circle cx="578.8" cy="347.7" r="8.0" fill="#b9be31" stroke="#b3b82f"/>
<circle cx="637.4" cy="168.0" r="8.0" fill="#f9f313" stroke="#f1eb12"/>
<circle cx="554.5" cy="378.9" r="8.0" fill="#aec036" stroke="#a8ba34"/>
<circle cx="527.9" cy="459.2" r="8.0" fill="#35c293" stroke="#33bc8e"/>
<circle cx="627.9" cy="190.6" r="8.0" fill="#f9ee17" stroke="#f1e616"/>
<circle cx="568.6" cy="528.3" r="8.0" fill="#463ed8" stroke="#433cd1"/>
<circle cx="527.5" cy="491.4" r="8.0" fill="#18bac0" stroke="#17b4ba"/>
<circle cx="592.2" cy="339.5" r="8.0" fill="#bebd2e" stroke="#b8b72c"/>
<circle cx="629.5" cy="181.3" r="8.0" fill="#f9f115" stroke="#f1e914"/>
<circle cx="577.6" cy="367.0" r="8.0" fill="#b4bf33" stroke="#aeb931"/>
<circle cx="594.6" cy="340.5" r="8.0" fill="#c4bc2d" stroke="#beb62b"/>
<circle cx="570.9" cy="364.6" r="8.0" fill="#b8be31" stroke="#b2b82f"/>
<circle cx="544.2" cy="444.4" r="8.0" fill="#33c295" stroke="#31bc90"/>
<circle cx="590.3" cy="350.8" r="8.0" fill="#e5b533" stroke="#deaf31"/>
<circle cx="623.5" cy="204.8" r="8.0" fill="#f8db22" stroke="#f0d420"/>
<circle cx="602.3" cy="250.0" r="8.0" fill="#fcc62d" stroke="#f4c02b"/>
<circle cx="533.7" cy="531.0" r="8.0" fill="#3876fd" stroke="#3672f5"/>
<circle cx="640.8" cy="167.0" r="8.0" fill="#f9f214" stroke="#f1ea13"/>
<circle cx="534.1" cy="416.1" r="8.0" fill="#81c552" stroke="#7dbf4f"/>
<circle cx="569.8" cy="385.4" r="8.0" fill="#aac138" stroke="#a4bb36"/>
<circle cx="516.1" cy="505.8" r="8.0" fill="#1ea6df" stroke="#1da1d8"/>
<circle cx="516.6" cy="501.6" r="8.0" fill="#16b0d5" stroke="#15aace"/>
<circle cx="573.6" cy="309.3" r="8.0" fill="#f5b634" stroke="#edb032"/>
<circle cx="602.3" cy="245.9" r="8.0" fill="#fcc42e" stroke="#f4be2c"/>
<circle cx="525.6" cy="485.0" r="8.0" fill="#1abcb7" stroke="#19b6b1"/>
<circle cx="573.3" cy="375.6" r="8.0" fill="#b0c035" stroke="#aaba33"/>
<circle cx="599.6" cy="224.4" r="8.0" fill="#f9d923" stroke="#f1d221"/>
<circle cx="575.1" cy="355.2" r="8.0" fill="#b2c034" stroke="#acba32"/>
<circle cx="608.0" cy="208.7" r="8.0" fill="#f8db22" stroke="#f0d420"/>
<circle cx="545.4" cy="528.7" r="8.0" fill="#455ef9" stroke="#425bf1"/>
<circle cx="538.5" cy="414.4" r="8.0" fill="#83c551" stroke="#7fbf4e"/>
<circle cx="541.0" cy="427.2" r="8.0" fill="#73c65d" stroke="#6fc05a"/>
<circle cx="602.3" cy="216.3" r="8.0" fill="#f9d824" stroke="#f1d122"/>
<circle cx="573.9" cy="397.4" r="8.0" fill="#e4b533" stroke="#ddaf31"/>
<circle cx="560.3" cy="325.5" r="8.0" fill="#f3b435" stroke="#ebae33"/>
<circle cx="519.5" cy="501.1" r="8.0" fill="#19add8" stroke="#18a7d1"/>
<circle cx="538.6" cy="469.6" r="8.0" fill="#1ebdb1" stroke="#1db7ab"/>
<circle cx="572.6" cy="297.8" r="8.0" fill="#f5b535" stroke="#edaf33"/>
<circle cx="556.5" cy="405.8" r="8.0" fill="#a0c33d" stroke="#9bbd3b"/>
<circle cx="529.5" cy="468.5" r="8.0" fill="#2dc19c" stroke="#2bbb97"/>
<circle cx="540.8" cy="367.6" r="8.0" fill="#f9f114" stroke="#f1e913"/>
<circle cx="595.7" cy="325.4" r="8.0" fill="#c8bb2e" stroke="#c2b52c"/>
<circle cx="529.2" cy="430.5" r="8.0" fill="#74c65c" stroke="#70c059"/>
<circle cx="576.3" cy="336.8" r="8.0" fill="#bdbd2e" stroke="#b7b72c"/>
<circle cx="546.6" cy="345.9" r="8.0" fill="#f9f810" stroke="#f1f00f"/>
<circle cx="580.1" cy="269.9" r="8.0" fill="#f9ba32" stroke="#f1b430"/>
<circle cx="574.7" cy="305.2" r="8.0" fill="#f2b236" stroke="#eaac34"/>
<circle cx="615.7" cy="228.6" r="8.0" fill="#fad227" stroke="#f2cb25"/>
<circle cx="558.9" cy="329.0" r="8.0" fill="#f3b435" stroke="#ebae33"/>
<circle cx="629.8" cy="178.4" r="8.0" fill="#f8e61c" stroke="#f0df1b"/>
<circle cx="526.9" cy="471.9" r="8.0" fill="#2dc19c" stroke="#2bbb97"/>
<circle cx="544.1" cy="445.6" r="8.0" fill="#2ac09f" stroke="#28ba9a"/>
<circle cx="623.3" cy="213.2" r="8.0" fill="#f8e41d" stroke="#f0dd1c"/>
<circle cx="553.1" cy="530.8" r="8.0" fill="#4751f0" stroke="#444ee8"/>
<circle cx="604.5" cy="299.9" r="8.0" fill="#d0b92f" stroke="#c9b32d"/>
<circle cx="578.5" cy="327.2" r="8.0" fill="#c2bc2d" stroke="#bcb62b"/>
<circle cx="612.3" cy="197.4" r="8.0" fill="#f9db23" stroke="#f1d421"/>
<circle cx="558.9" cy="337.5" r="8.0" fill="#f2b236" stroke="#eaac34"/>
<circle cx="563.6" cy="371.5" r="8.0" fill="#adc037" stroke="#a7ba35"/>
<circle cx="541.9" cy="358.2" r="8.0" fill="#f9f413" stroke="#f1ec12"/>
<circle cx="598.9" cy="295.7" r="8.0" fill="#c9bb2e" stroke="#c2b52c"/>
<circle cx="593.3" cy="247.9" r="8.0" fill="#fcc72c" stroke="#f4c12a"/>
<circle cx="582.4" cy="346.0" r="8.0" fill="#b8be31" stroke="#b2b82f"/>
<circle cx="528.4" cy="429.0" r="8.0" fill="#71c65e" stroke="#6dc05b"/>
<circle cx="588.3" cy="330.2" r="8.0" fill="#bebd2e" stroke="#b8b72c"/>
<circle cx="533.5" cy="443.3" r="8.0" fill="#55c576" stroke="#52bf72"/>
<circle cx="609.3" cy="237.6" r="8.0" fill="#f9d824" stroke="#f1d122"/>
<circle cx="551.3" cy="407.5" r="8.0" fill="#9bc340" stroke="#96bd3e"/>
<circle cx="556.4" cy="529.5" r="8.0" fill="#4748e7" stroke="#4445e0"/>
<circle cx="586.0" cy="262.7" r="8.0" fill="#f9bb32" stroke="#f1b530"/>
<circle cx="533.0" cy="436.5" r="8.0" fill="#5dc56f" stroke="#5abf6b"/>
<circle cx="520.6" cy="527.5" r="8.0" fill="#2f87f6" stroke="#2d82ee"/>
<circle cx="572.0" cy="402.1" r="8.0" fill="#e4b532" stroke="#ddaf30"/>
<circle cx="560.0" cy="531.6" r="8.0" fill="#474bea" stroke="#4448e2"/>
<circle cx="566.9" cy="530.8" r="8.0" fill="#4641dc" stroke="#433fd5"/>
<circle cx="607.3" cy="225.2" r="8.0" fill="#fad426" stroke="#f2cd24"/>
<circle cx="537.9" cy="474.5" r="8.0" fill="#1bbdb6" stroke="#1ab7b0"/>
<circle cx="564.8" cy="322.4" r="8.0" fill="#edb335" stroke="#e5ad33"/>
<circle cx="595.8" cy="245.4" r="8.0" fill="#fbcc2a" stroke="#f3c528"/>
<circle cx="609.0" cy="272.9" r="8.0" fill="#d3b92f" stroke="#ccb32d"/>
<circle cx="627.5" cy="204.3" r="8.0" fill="#f8e71b" stroke="#f0e01a"/>
<circle cx="602.4" cy="292.5" r="8.0" fill="#c9bb2e" stroke="#c2b52c"/>
<circle cx="540.6" cy="459.3" r="8.0" fill="#27c0a3" stroke="#25ba9e"/>
<circle cx="543.6" cy="356.2" r="8.0" fill="#f9f015" stroke="#f1e814"/>
<circle cx="584.3" cy="529.0" r="8.0" fill="#4435c7" stroke="#4133c1"/>
<circle cx="595.8" cy="248.5" r="8.0" fill="#fdc22f" stroke="#f5bc2d"/>
<circle cx="533.5" cy="422.2" r="8.0" fill="#75c65b" stroke="#71c058"/>
<circle cx="521.6" cy="490.8" r="8.0" fill="#17b9c2" stroke="#16b3bc"/>
<circle cx="540.9" cy="530.9" r="8.0" fill="#4465fc" stroke="#4161f4"/>
<circle cx="519.0" cy="525.7" r="8.0" fill="#2992ef" stroke="#278de7"/>
<circle cx="523.3" cy="526.1" r="8.0" fill="#2f86f7" stroke="#2d81ef"/>
<circle cx="550.7" cy="531.4" r="8.0" fill="#465af7" stroke="#4357ef"/>
<circle cx="553.0" cy="347.0" r="8.0" fill="#f0b236" stroke="#e8ac34"/>
<circle cx="611.3" cy="276.7" r="8.0" fill="#cdba2e" stroke="#c6b42c"/>
<circle cx="592.7" cy="311.0" r="8.0" fill="#c2bc2d" stroke="#bcb62b"/>
<circle cx="614.6" cy="204.5" r="8.0" fill="#f9db23" stroke="#f1d421"/>
<circle cx="607.2" cy="280.8" r="8.0" fill="#cabb2e" stroke="#c3b52c"/>
<circle cx="563.9" cy="388.5" r="8.0" fill="#a2c23c" stroke="#9dbc3a"/>
</g>
<text x="161.8" y="39.2" font-size="22" fill="#000">p</text>
<text x="176.5" y="50.3" font-size="19.5" fill="#000">ref</text>
<text x="215.5" y="51" font-size="24" fill="#000">= 0 dbar</text>
<g stroke="#262626" stroke-width="1.2" fill="none">
<path d="M146.0,6.5V655.1" stroke-width="1.45"/>
<path d="M145.4,7.1H794.1" stroke-width="1.35"/>
<path d="M793.5,6.5V655.1" stroke-width="1.1"/>
<path d="M145.4,654.5H794.1" stroke="#0d0d0d" stroke-width="1.15"/>
<path d="M139,37.9H146.0M793.3,37.9H800"/>
<path d="M139,192.0H146.0M793.3,192.0H800"/>
<path d="M139,346.1H146.0M793.3,346.1H800"/>
<path d="M139,500.3H146.0M793.3,500.3H800"/>
<path d="M139,654.5H146.0M793.3,654.5H800"/>
<path d="M273.3,0V7.0M273.3,654.5V661"/>
<path d="M426.3,0V7.0M426.3,654.5V661"/>
<path d="M579.2,0V7.0M579.2,654.5V661"/>
<path d="M732.1,0V7.0M732.1,654.5V661"/>
</g>
<g font-size="35" fill="#262626" text-anchor="end" class="one">
<text transform="translate(126.6,50.5) scale(1,1.040)">-1.9</text>
<text transform="translate(126.6,204.6) scale(1,1.040)">-2</text>
<text transform="translate(126.6,358.7) scale(1,1.040)">-2.1</text>
<text transform="translate(126.6,512.9) scale(1,1.040)">-2.2</text>
<text transform="translate(126.6,667.1) scale(1,1.040)">-2.3</text>
</g>
<g font-size="35" fill="#262626" text-anchor="middle" class="one">
<text transform="translate(273.3,708.3) scale(1,1.040)">34.75</text>
<text transform="translate(426.3,708.3) scale(1,1.040)">34.78</text>
<text transform="translate(579.2,708.3) scale(1,1.040)">34.81</text>
<text transform="translate(732.1,708.3) scale(1,1.040)">34.84</text>
</g>
<text x="469.5" y="769.6" font-size="38.4" fill="#262626" text-anchor="middle">absolute salinity [g kg<tspan font-size="30" dy="-19" class="one1">-1</tspan><tspan dy="19">]</tspan></text>
<text transform="translate(35.2,329.65) rotate(-90)" font-size="38" fill="#262626" text-anchor="middle"><tspan font-family="Liberation Serif" font-size="43" dx="-2.5">&#920;</tspan><tspan font-size="30" dy="18" dx="-1.5">0</tspan><tspan dy="-18" dx="4">, conservative temperauture [</tspan><tspan font-size="30" dy="-19">o</tspan><tspan dy="19" dx="3.5">C]</tspan></text>
<rect x="813.5" y="7.00" width="40.8" height="10.72" fill="#3f29ae"/>
<rect x="813.5" y="17.12" width="40.8" height="10.72" fill="#412eb9"/>
<rect x="813.5" y="27.23" width="40.8" height="10.72" fill="#4333c4"/>
<rect x="813.5" y="37.35" width="40.8" height="10.72" fill="#4538ce"/>
<rect x="813.5" y="47.47" width="40.8" height="10.72" fill="#463ed7"/>
<rect x="813.5" y="57.59" width="40.8" height="10.72" fill="#4642df"/>
<rect x="813.5" y="67.70" width="40.8" height="10.72" fill="#4748e6"/>
<rect x="813.5" y="77.82" width="40.8" height="10.72" fill="#474cec"/>
<rect x="813.5" y="87.94" width="40.8" height="10.72" fill="#4752f0"/>
<rect x="813.5" y="98.05" width="40.8" height="10.72" fill="#4756f6"/>
<rect x="813.5" y="108.17" width="40.8" height="10.72" fill="#465cf8"/>
<rect x="813.5" y="118.29" width="40.8" height="10.72" fill="#4561fa"/>
<rect x="813.5" y="128.41" width="40.8" height="10.72" fill="#4366fc"/>
<rect x="813.5" y="138.52" width="40.8" height="10.72" fill="#406cfd"/>
<rect x="813.5" y="148.64" width="40.8" height="10.72" fill="#3b72fd"/>
<rect x="813.5" y="158.76" width="40.8" height="10.72" fill="#3677fd"/>
<rect x="813.5" y="168.88" width="40.8" height="10.72" fill="#337cfc"/>
<rect x="813.5" y="178.99" width="40.8" height="10.72" fill="#3181f9"/>
<rect x="813.5" y="189.11" width="40.8" height="10.72" fill="#2f86f7"/>
<rect x="813.5" y="199.23" width="40.8" height="10.72" fill="#2d8af4"/>
<rect x="813.5" y="209.34" width="40.8" height="10.72" fill="#2b8ff1"/>
<rect x="813.5" y="219.46" width="40.8" height="10.72" fill="#2894ee"/>
<rect x="813.5" y="229.58" width="40.8" height="10.72" fill="#2698eb"/>
<rect x="813.5" y="239.70" width="40.8" height="10.72" fill="#239ce7"/>
<rect x="813.5" y="249.81" width="40.8" height="10.72" fill="#21a1e4"/>
<rect x="813.5" y="259.93" width="40.8" height="10.72" fill="#1ea5e0"/>
<rect x="813.5" y="270.05" width="40.8" height="10.72" fill="#1ba9dc"/>
<rect x="813.5" y="280.16" width="40.8" height="10.72" fill="#18aed8"/>
<rect x="813.5" y="290.28" width="40.8" height="10.72" fill="#15b3d3"/>
<rect x="813.5" y="300.40" width="40.8" height="10.72" fill="#15b6cd"/>
<rect x="813.5" y="310.52" width="40.8" height="10.72" fill="#17b8c5"/>
<rect x="813.5" y="320.63" width="40.8" height="10.72" fill="#18bbbd"/>
<rect x="813.5" y="330.75" width="40.8" height="10.72" fill="#1cbdb4"/>
<rect x="813.5" y="340.87" width="40.8" height="10.72" fill="#22beab"/>
<rect x="813.5" y="350.98" width="40.8" height="10.72" fill="#29c0a2"/>
<rect x="813.5" y="361.10" width="40.8" height="10.72" fill="#30c198"/>
<rect x="813.5" y="371.22" width="40.8" height="10.72" fill="#3bc38e"/>
<rect x="813.5" y="381.34" width="40.8" height="10.72" fill="#46c483"/>
<rect x="813.5" y="391.45" width="40.8" height="10.72" fill="#51c579"/>
<rect x="813.5" y="401.57" width="40.8" height="10.72" fill="#5dc56f"/>
<rect x="813.5" y="411.69" width="40.8" height="10.72" fill="#69c665"/>
<rect x="813.5" y="421.80" width="40.8" height="10.72" fill="#75c65b"/>
<rect x="813.5" y="431.92" width="40.8" height="10.72" fill="#81c552"/>
<rect x="813.5" y="442.04" width="40.8" height="10.72" fill="#8ec449"/>
<rect x="813.5" y="452.16" width="40.8" height="10.72" fill="#9ac341"/>
<rect x="813.5" y="462.27" width="40.8" height="10.72" fill="#a5c23a"/>
<rect x="813.5" y="472.39" width="40.8" height="10.72" fill="#b0c035"/>
<rect x="813.5" y="482.51" width="40.8" height="10.72" fill="#bbbe30"/>
<rect x="813.5" y="492.62" width="40.8" height="10.72" fill="#c4bc2d"/>
<rect x="813.5" y="502.74" width="40.8" height="10.72" fill="#ccba2e"/>
<rect x="813.5" y="512.86" width="40.8" height="10.72" fill="#d4b82f"/>
<rect x="813.5" y="522.98" width="40.8" height="10.72" fill="#dcb731"/>
<rect x="813.5" y="533.09" width="40.8" height="10.72" fill="#e4b532"/>
<rect x="813.5" y="543.21" width="40.8" height="10.72" fill="#ebb334"/>
<rect x="813.5" y="553.33" width="40.8" height="10.72" fill="#f2b236"/>
<rect x="813.5" y="563.45" width="40.8" height="10.72" fill="#f6b734"/>
<rect x="813.5" y="573.56" width="40.8" height="10.72" fill="#f9bb32"/>
<rect x="813.5" y="583.68" width="40.8" height="10.72" fill="#fdc030"/>
<rect x="813.5" y="593.80" width="40.8" height="10.72" fill="#fcc82c"/>
<rect x="813.5" y="603.91" width="40.8" height="10.72" fill="#fad227"/>
<rect x="813.5" y="614.03" width="40.8" height="10.72" fill="#f8db22"/>
<rect x="813.5" y="624.15" width="40.8" height="10.72" fill="#f8e41d"/>
<rect x="813.5" y="634.27" width="40.8" height="10.72" fill="#f9ed17"/>
<rect x="813.5" y="644.38" width="40.8" height="10.72" fill="#f9f611"/>
<rect x="813.5" y="7.0" width="40.8" height="647.5" fill="none" stroke="#262626" stroke-width="1.2"/>
<g stroke="#262626" stroke-width="1.2">
<path d="M847.4,152.5H854.3"/>
<path d="M847.4,403.4H854.3"/>
</g>
<g font-size="31.6" fill="#262626" class="one">
<text transform="translate(865.0,165.0) scale(1,1.040)">2019</text>
<text transform="translate(865.0,415.9) scale(1,1.040)">2018</text>
<text transform="translate(865.0,666.9) scale(1,1.040)">2017</text>
</g>
<text transform="translate(979.5,331.7) rotate(-90)" font-size="35" fill="#262626" text-anchor="middle">date</text>
<circle cx="630" cy="531.2" r="7.8" fill="#f9fb0e"/>
<circle cx="655.6" cy="531.2" r="7.8" fill="#19bcb9"/>
<circle cx="681" cy="531.2" r="7.8" fill="#3e26a8"/>
<path d="M617,571.9H691" stroke="#0072bd" stroke-width="1.3"/>
<path d="M617,611H691" stroke="#d95319" stroke-width="1.3"/>
<g font-size="31.5" fill="#262626" class="one">
<text transform="translate(696.0,540.2) scale(1,1.040)" font-size="29.8">FNE1</text>
<text transform="translate(696.1,583.7) scale(1,1.040)">2017</text>
<text transform="translate(696.1,623.1) scale(1,1.040)">2018</text>
</g>
<rect transform="matrix(1.0000,0.0000,0.0000,1.0400,126.60,50.50)" x="-47.17" y="-4.24" width="7.33" height="5.43" fill="#fff"/>
<rect transform="matrix(1.0000,0.0000,0.0000,1.0400,126.60,50.50)" x="-36.75" y="-4.24" width="7.06" height="5.43" fill="#fff"/>
<rect transform="matrix(1.0000,0.0000,0.0000,1.0400,126.60,358.70)" x="-18.00" y="-4.24" width="7.33" height="5.43" fill="#fff"/>
<rect transform="matrix(1.0000,0.0000,0.0000,1.0400,126.60,358.70)" x="-7.57" y="-4.24" width="7.06" height="5.43" fill="#fff"/>
<rect transform="matrix(1.0000,0.0000,0.0000,1.0400,579.20,708.30)" x="25.78" y="-4.24" width="7.33" height="5.43" fill="#fff"/>
<rect transform="matrix(1.0000,0.0000,0.0000,1.0400,579.20,708.30)" x="36.20" y="-4.24" width="7.06" height="5.43" fill="#fff"/>
<rect transform="matrix(1.0000,0.0000,0.0000,1.0000,0.00,0.00)" x="645.60" y="746.97" width="6.28" height="4.66" fill="#fff"/>
<rect transform="matrix(1.0000,0.0000,0.0000,1.0000,0.00,0.00)" x="654.53" y="746.97" width="6.05" height="4.66" fill="#fff"/>
<rect transform="matrix(1.0000,0.0000,0.0000,1.0400,865.00,165.00)" x="36.45" y="-3.83" width="6.62" height="4.91" fill="#fff"/>
<rect transform="matrix(1.0000,0.0000,0.0000,1.0400,865.00,165.00)" x="45.86" y="-3.83" width="6.37" height="4.91" fill="#fff"/>
<rect transform="matrix(1.0000,0.0000,0.0000,1.0400,865.00,415.90)" x="36.45" y="-3.83" width="6.62" height="4.91" fill="#fff"/>
<rect transform="matrix(1.0000,0.0000,0.0000,1.0400,865.00,415.90)" x="45.86" y="-3.83" width="6.37" height="4.91" fill="#fff"/>
<rect transform="matrix(1.0000,0.0000,0.0000,1.0400,865.00,666.90)" x="36.45" y="-3.83" width="6.62" height="4.91" fill="#fff"/>
<rect transform="matrix(1.0000,0.0000,0.0000,1.0400,865.00,666.90)" x="45.86" y="-3.83" width="6.37" height="4.91" fill="#fff"/>
<rect transform="matrix(1.0000,0.0000,0.0000,1.0400,696.00,540.20)" x="60.83" y="-3.61" width="6.24" height="4.63" fill="#fff"/>
<rect transform="matrix(1.0000,0.0000,0.0000,1.0400,696.00,540.20)" x="69.71" y="-3.61" width="6.01" height="4.63" fill="#fff"/>
<rect transform="matrix(1.0000,0.0000,0.0000,1.0400,696.10,583.70)" x="36.33" y="-3.81" width="6.60" height="4.89" fill="#fff"/>
<rect transform="matrix(1.0000,0.0000,0.0000,1.0400,696.10,583.70)" x="45.72" y="-3.81" width="6.35" height="4.89" fill="#fff"/>
<rect transform="matrix(1.0000,0.0000,0.0000,1.0400,696.10,623.10)" x="36.33" y="-3.81" width="6.60" height="4.89" fill="#fff"/>
<rect transform="matrix(1.0000,0.0000,0.0000,1.0400,696.10,623.10)" x="45.72" y="-3.81" width="6.35" height="4.89" fill="#fff"/>
</svg></body></html>
